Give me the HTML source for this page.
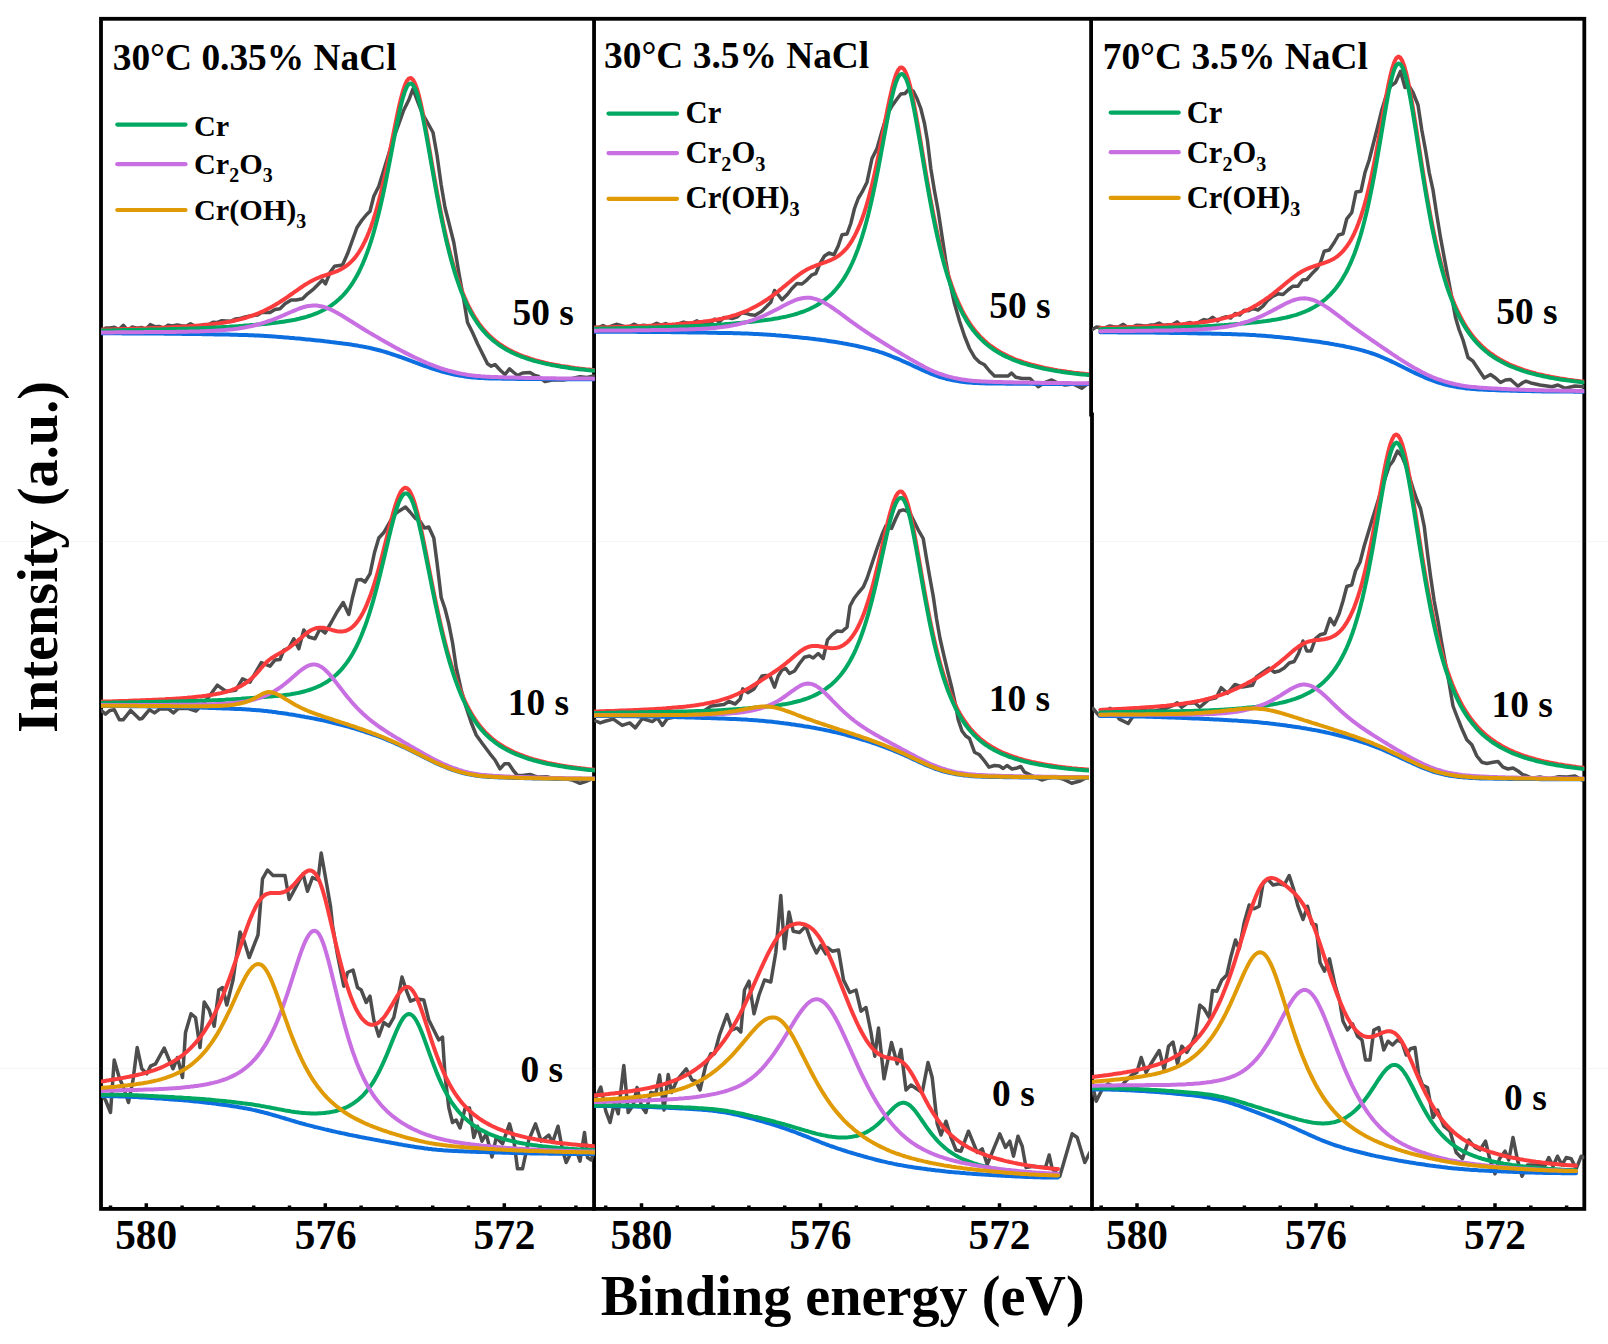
<!DOCTYPE html><html><head><meta charset="utf-8"><title>XPS Cr 2p</title><style>html,body{margin:0;padding:0;background:#fff}body{width:1608px;height:1344px;overflow:hidden}</style></head><body><svg width="1608" height="1344" viewBox="0 0 1608 1344" style="display:block">
<rect width="1608" height="1344" fill="#fff"/>
<defs><clipPath id="c0"><rect x="101.00" y="18.8" width="493.85" height="1190.1000000000001"/></clipPath><clipPath id="c1"><rect x="594.05" y="18.8" width="494.95" height="1190.1000000000001"/></clipPath><clipPath id="c2"><rect x="1092.00" y="18.8" width="492.30" height="1190.1000000000001"/></clipPath></defs>
<g stroke="#000" stroke-width="3.8" fill="none" stroke-linecap="square">
<rect x="101.0" y="18.8" width="1483.3" height="1190.1000000000001"/>
<path d="M594.05 18.8V1208.9M1091.1 18.8V414.5M1092.0 414.5V1208.9"/>
</g>
<path d="M110.5 1208.9v-3.5M146.3 1208.9v-5.6M182.1 1208.9v-3.5M217.9 1208.9v-3.5M253.7 1208.9v-3.5M289.5 1208.9v-3.5M325.3 1208.9v-5.6M361.1 1208.9v-3.5M396.9 1208.9v-3.5M432.7 1208.9v-3.5M468.5 1208.9v-3.5M504.3 1208.9v-5.6M540.1 1208.9v-3.5M575.9 1208.9v-3.5M605.7 1208.9v-3.5M641.5 1208.9v-5.6M677.3 1208.9v-3.5M713.1 1208.9v-3.5M748.9 1208.9v-3.5M784.7 1208.9v-3.5M820.5 1208.9v-5.6M856.3 1208.9v-3.5M892.1 1208.9v-3.5M927.9 1208.9v-3.5M963.7 1208.9v-3.5M999.5 1208.9v-5.6M1035.3 1208.9v-3.5M1071.1 1208.9v-3.5M1101.2 1208.9v-3.5M1137.0 1208.9v-5.6M1172.8 1208.9v-3.5M1208.6 1208.9v-3.5M1244.4 1208.9v-3.5M1280.2 1208.9v-3.5M1316.0 1208.9v-5.6M1351.8 1208.9v-3.5M1387.6 1208.9v-3.5M1423.4 1208.9v-3.5M1459.2 1208.9v-3.5M1495.0 1208.9v-5.6M1530.8 1208.9v-3.5M1566.6 1208.9v-3.5" stroke="#000" stroke-width="3.5" fill="none"/>
<g clip-path="url(#c0)" fill="none" stroke-width="4" stroke-linejoin="round" stroke-linecap="round">
<path d="M101.0 331.1L105.5 328.1L109.9 328.0L114.4 327.2L118.9 329.6L123.4 325.3L127.8 330.4L132.3 327.0L136.8 328.3L141.3 327.4L145.7 329.4L150.2 324.6L154.7 326.7L159.2 326.4L163.6 328.2L168.1 325.1L172.6 326.0L177.1 324.9L181.5 325.8L186.0 326.2L190.5 323.7L195.0 326.2L199.4 325.6L203.9 324.6L208.4 324.7L212.9 322.2L217.3 322.4L221.8 320.7L226.3 321.0L230.8 321.3L235.2 319.0L239.7 318.6L244.2 317.3L248.7 316.2L253.1 315.4L257.6 315.0L262.1 312.3L266.6 312.5L270.0 312.5L275.0 309.5L280.0 308.8L285.0 303.8L291.2 300.0L296.2 300.0L302.5 298.8L307.5 293.8L313.8 288.8L318.8 283.8L322.5 280.0L325.5 283.8L330.0 272.5L334.5 266.2L342.5 265.0L347.5 253.8L352.5 240.0L357.0 227.5L361.2 221.2L366.2 215.0L370.0 211.2L373.8 196.2L378.8 186.2L383.8 170.0L388.8 153.8L393.8 137.5L398.8 123.8L403.8 110.0L408.8 100.0L413.0 88.8L417.5 101.2L422.5 113.8L427.5 122.5L433.0 132.5L437.0 155.0L441.2 185.0L445.0 207.5L448.8 222.5L453.8 242.5L458.8 272.5L463.8 300.0L467.5 322.5L472.5 332.5L477.5 343.8L482.5 353.8L487.5 363.8L491.2 366.2L495.0 364.5L500.0 370.0L505.0 374.5L509.5 368.8L513.8 372.5L517.5 375.5L522.5 373.0L530.0 372.5L535.0 375.5L538.0 376.2L545.0 381.5L552.0 380.0L563.3 380.0L572.0 378.5L580.0 376.7L587.0 377.5L593.3 376.0L596.0 376.0" stroke="#4d4d4d" stroke-width="3.5"/>
<path d="M101.0 333.3L103.0 333.3L105.0 333.3L107.0 333.3L109.0 333.3L111.0 333.3L113.0 333.3L115.0 333.3L117.0 333.3L119.0 333.3L121.0 333.3L123.0 333.4L125.0 333.4L127.0 333.4L129.0 333.4L131.0 333.4L133.0 333.4L135.0 333.4L137.0 333.4L139.0 333.4L141.0 333.4L143.0 333.5L145.0 333.5L147.0 333.5L149.0 333.5L151.0 333.5L153.0 333.5L155.0 333.6L157.0 333.6L159.0 333.6L161.0 333.6L163.0 333.6L165.0 333.7L167.0 333.7L169.0 333.7L171.0 333.7L173.0 333.7L175.0 333.8L177.0 333.8L179.0 333.8L181.0 333.8L183.0 333.9L185.0 333.9L187.0 333.9L189.0 334.0L191.0 334.0L193.0 334.0L195.0 334.0L197.0 334.1L199.0 334.1L201.0 334.1L203.0 334.2L205.0 334.2L207.0 334.2L209.0 334.3L211.0 334.3L213.0 334.3L215.0 334.4L217.0 334.4L219.0 334.4L221.0 334.5L223.0 334.5L225.0 334.6L227.0 334.6L229.0 334.6L231.0 334.7L233.0 334.7L235.0 334.8L237.0 334.8L239.0 334.9L241.0 334.9L243.0 335.0L245.0 335.0L247.0 335.1L249.0 335.2L251.0 335.2L253.0 335.3L255.0 335.4L257.0 335.5L259.0 335.6L261.0 335.7L263.0 335.8L265.0 335.9L267.0 336.0L269.0 336.2L271.0 336.3L273.0 336.4L275.0 336.6L277.0 336.7L279.0 336.9L281.0 337.0L283.0 337.2L285.0 337.4L287.0 337.5L289.0 337.7L291.0 337.9L293.0 338.1L295.0 338.3L297.0 338.4L299.0 338.6L301.0 338.8L303.0 339.0L305.0 339.2L307.0 339.4L309.0 339.6L311.0 339.8L313.0 340.0L315.0 340.2L317.0 340.4L319.0 340.6L321.0 340.8L323.0 341.0L325.0 341.3L327.0 341.5L329.0 341.7L331.0 342.0L333.0 342.2L335.0 342.4L337.0 342.7L339.0 342.9L341.0 343.2L343.0 343.5L345.0 343.7L347.0 344.0L349.0 344.3L351.0 344.6L353.0 344.9L355.0 345.2L357.0 345.5L359.0 345.9L361.0 346.2L363.0 346.6L365.0 347.0L367.0 347.4L369.0 347.8L371.0 348.2L373.0 348.7L375.0 349.2L377.0 349.7L379.0 350.2L381.0 350.7L383.0 351.3L385.0 351.9L387.0 352.5L389.0 353.1L391.0 353.8L393.0 354.5L395.0 355.1L397.0 355.8L399.0 356.5L401.0 357.2L403.0 358.0L405.0 358.7L407.0 359.4L409.0 360.2L411.0 360.9L413.0 361.6L415.0 362.4L417.0 363.1L419.0 363.8L421.0 364.6L423.0 365.3L425.0 366.0L427.0 366.7L429.0 367.4L431.0 368.1L433.0 368.8L435.0 369.4L437.0 370.1L439.0 370.7L441.0 371.3L443.0 371.8L445.0 372.4L447.0 372.9L449.0 373.4L451.0 373.8L453.0 374.3L455.0 374.7L457.0 375.1L459.0 375.5L461.0 375.8L463.0 376.1L465.0 376.4L467.0 376.7L469.0 376.9L471.0 377.2L473.0 377.4L475.0 377.6L477.0 377.7L479.0 377.9L481.0 378.0L483.0 378.1L485.0 378.2L487.0 378.3L489.0 378.4L491.0 378.4L493.0 378.5L495.0 378.5L497.0 378.6L499.0 378.6L501.0 378.6L503.0 378.7L505.0 378.7L507.0 378.7L509.0 378.8L511.0 378.8L513.0 378.8L515.0 378.8L517.0 378.9L519.0 378.9L521.0 378.9L523.0 378.9L525.0 379.0L527.0 379.0L529.0 379.0L531.0 379.0L533.0 379.0L535.0 379.1L537.0 379.1L539.0 379.1L541.0 379.1L543.0 379.1L545.0 379.1L547.0 379.1L549.0 379.2L551.0 379.2L553.0 379.2L555.0 379.2L557.0 379.2L559.0 379.2L561.0 379.2L563.0 379.2L565.0 379.2L567.0 379.2L569.0 379.3L571.0 379.3L573.0 379.3L575.0 379.3L577.0 379.3L579.0 379.3L581.0 379.3L583.0 379.3L585.0 379.3L587.0 379.3L589.0 379.3L591.0 379.3L593.0 379.3L595.0 379.3" stroke="#0d6ee0"/>
<path d="M101.0 329.7L103.0 329.6L105.0 329.6L107.0 329.5L109.0 329.5L111.0 329.4L113.0 329.4L115.0 329.3L117.0 329.3L119.0 329.2L121.0 329.1L123.0 329.1L125.0 329.0L127.0 329.0L129.0 328.9L131.0 328.8L133.0 328.8L135.0 328.7L137.0 328.7L139.0 328.6L141.0 328.5L143.0 328.5L145.0 328.4L147.0 328.3L149.0 328.2L151.0 328.2L153.0 328.1L155.0 328.0L157.0 327.9L159.0 327.9L161.0 327.8L163.0 327.7L165.0 327.6L167.0 327.5L169.0 327.4L171.0 327.3L173.0 327.2L175.0 327.1L177.0 327.0L179.0 326.9L181.0 326.8L183.0 326.7L185.0 326.5L187.0 326.4L189.0 326.3L191.0 326.1L193.0 326.0L195.0 325.8L197.0 325.7L199.0 325.5L201.0 325.4L203.0 325.2L205.0 325.0L207.0 324.8L209.0 324.6L211.0 324.4L213.0 324.1L215.0 323.9L217.0 323.6L219.0 323.4L221.0 323.1L223.0 322.8L225.0 322.4L227.0 322.1L229.0 321.7L231.0 321.4L233.0 321.0L235.0 320.5L237.0 320.1L239.0 319.6L241.0 319.1L243.0 318.5L245.0 318.0L247.0 317.4L249.0 316.7L251.0 316.0L253.0 315.3L255.0 314.6L257.0 313.8L259.0 313.0L261.0 312.1L263.0 311.3L265.0 310.3L267.0 309.3L269.0 308.3L271.0 307.3L273.0 306.1L275.0 305.0L277.0 303.8L279.0 302.6L281.0 301.3L283.0 300.0L285.0 298.7L287.0 297.3L289.0 295.9L291.0 294.5L293.0 293.1L295.0 291.7L297.0 290.3L299.0 288.9L301.0 287.5L303.0 286.1L305.0 284.8L307.0 283.6L309.0 282.4L311.0 281.2L313.0 280.2L315.0 279.2L317.0 278.3L319.0 277.5L321.0 276.7L323.0 276.0L325.0 275.3L327.0 274.6L329.0 274.0L331.0 273.3L333.0 272.6L335.0 271.9L337.0 271.1L339.0 270.2L341.0 269.2L343.0 268.1L345.0 266.8L347.0 265.4L349.0 263.8L351.0 261.9L353.0 259.9L355.0 257.6L357.0 255.0L359.0 252.0L361.0 248.8L363.0 245.2L365.0 241.2L367.0 236.8L369.0 232.0L371.0 226.6L373.0 220.8L375.0 214.5L377.0 207.7L379.0 200.4L381.0 192.5L383.0 184.0L385.0 175.1L387.0 165.8L389.0 156.0L391.0 146.0L393.0 135.9L395.0 125.8L397.0 116.0L399.0 106.7L401.0 98.2L403.0 90.9L405.0 84.9L407.0 80.7L409.0 78.4L411.0 78.1L413.0 79.8L415.0 83.5L417.0 88.9L419.0 95.9L421.0 104.4L423.0 113.9L425.0 124.3L427.0 135.4L429.0 146.8L431.0 158.3L433.0 169.8L435.0 181.2L437.0 192.2L439.0 202.9L441.0 213.1L443.0 222.9L445.0 232.1L447.0 240.8L449.0 249.0L451.0 256.8L453.0 264.0L455.0 270.8L457.0 277.1L459.0 283.0L461.0 288.5L463.0 293.6L465.0 298.3L467.0 302.8L469.0 306.9L471.0 310.7L473.0 314.3L475.0 317.6L477.0 320.7L479.0 323.6L481.0 326.2L483.0 328.7L485.0 331.0L487.0 333.2L489.0 335.2L491.0 337.1L493.0 338.9L495.0 340.5L497.0 342.1L499.0 343.6L501.0 345.0L503.0 346.3L505.0 347.5L507.0 348.7L509.0 349.8L511.0 350.8L513.0 351.8L515.0 352.7L517.0 353.6L519.0 354.5L521.0 355.3L523.0 356.1L525.0 356.8L527.0 357.5L529.0 358.2L531.0 358.9L533.0 359.5L535.0 360.1L537.0 360.6L539.0 361.2L541.0 361.7L543.0 362.2L545.0 362.7L547.0 363.1L549.0 363.6L551.0 364.0L553.0 364.4L555.0 364.8L557.0 365.1L559.0 365.5L561.0 365.9L563.0 366.2L565.0 366.5L567.0 366.8L569.0 367.1L571.0 367.4L573.0 367.7L575.0 368.0L577.0 368.2L579.0 368.5L581.0 368.7L583.0 368.9L585.0 369.2L587.0 369.4L589.0 369.6L591.0 369.8L593.0 370.0L595.0 370.2" stroke="#fa3c3c"/>
<path d="M101.0 330.5L103.0 330.5L105.0 330.5L107.0 330.4L109.0 330.4L111.0 330.4L113.0 330.3L115.0 330.3L117.0 330.2L119.0 330.2L121.0 330.2L123.0 330.1L125.0 330.1L127.0 330.1L129.0 330.0L131.0 330.0L133.0 330.0L135.0 329.9L137.0 329.9L139.0 329.8L141.0 329.8L143.0 329.8L145.0 329.7L147.0 329.7L149.0 329.6L151.0 329.6L153.0 329.5L155.0 329.5L157.0 329.5L159.0 329.4L161.0 329.4L163.0 329.3L165.0 329.3L167.0 329.2L169.0 329.2L171.0 329.1L173.0 329.1L175.0 329.0L177.0 329.0L179.0 328.9L181.0 328.8L183.0 328.8L185.0 328.7L187.0 328.7L189.0 328.6L191.0 328.5L193.0 328.5L195.0 328.4L197.0 328.3L199.0 328.2L201.0 328.2L203.0 328.1L205.0 328.0L207.0 327.9L209.0 327.8L211.0 327.7L213.0 327.6L215.0 327.5L217.0 327.4L219.0 327.3L221.0 327.2L223.0 327.1L225.0 327.0L227.0 326.9L229.0 326.8L231.0 326.6L233.0 326.5L235.0 326.4L237.0 326.2L239.0 326.1L241.0 325.9L243.0 325.8L245.0 325.6L247.0 325.4L249.0 325.3L251.0 325.1L253.0 324.9L255.0 324.8L257.0 324.6L259.0 324.4L261.0 324.2L263.0 324.0L265.0 323.9L267.0 323.7L269.0 323.4L271.0 323.2L273.0 323.0L275.0 322.8L277.0 322.5L279.0 322.3L281.0 322.0L283.0 321.7L285.0 321.4L287.0 321.1L289.0 320.8L291.0 320.4L293.0 320.1L295.0 319.7L297.0 319.2L299.0 318.8L301.0 318.3L303.0 317.8L305.0 317.3L307.0 316.7L309.0 316.0L311.0 315.4L313.0 314.7L315.0 313.9L317.0 313.1L319.0 312.2L321.0 311.3L323.0 310.3L325.0 309.2L327.0 308.1L329.0 306.9L331.0 305.6L333.0 304.1L335.0 302.6L337.0 301.0L339.0 299.2L341.0 297.3L343.0 295.3L345.0 293.1L347.0 290.7L349.0 288.1L351.0 285.3L353.0 282.3L355.0 279.0L357.0 275.5L359.0 271.7L361.0 267.5L363.0 263.1L365.0 258.2L367.0 253.0L369.0 247.4L371.0 241.3L373.0 234.8L375.0 227.8L377.0 220.3L379.0 212.3L381.0 203.8L383.0 194.8L385.0 185.3L387.0 175.4L389.0 165.2L391.0 154.7L393.0 144.1L395.0 133.6L397.0 123.4L399.0 113.8L401.0 105.0L403.0 97.3L405.0 91.1L407.0 86.5L409.0 83.9L411.0 83.4L413.0 84.9L415.0 88.3L417.0 93.5L419.0 100.4L421.0 108.6L423.0 118.0L425.0 128.3L427.0 139.1L429.0 150.4L431.0 161.8L433.0 173.2L435.0 184.4L437.0 195.4L439.0 205.9L441.0 216.1L443.0 225.7L445.0 234.9L447.0 243.5L449.0 251.6L451.0 259.3L453.0 266.4L455.0 273.1L457.0 279.4L459.0 285.2L461.0 290.7L463.0 295.7L465.0 300.4L467.0 304.8L469.0 308.9L471.0 312.7L473.0 316.2L475.0 319.5L477.0 322.5L479.0 325.3L481.0 328.0L483.0 330.4L485.0 332.7L487.0 334.8L489.0 336.8L491.0 338.6L493.0 340.4L495.0 342.0L497.0 343.5L499.0 345.0L501.0 346.3L503.0 347.6L505.0 348.8L507.0 350.0L509.0 351.0L511.0 352.1L513.0 353.0L515.0 354.0L517.0 354.8L519.0 355.7L521.0 356.5L523.0 357.2L525.0 357.9L527.0 358.6L529.0 359.3L531.0 359.9L533.0 360.5L535.0 361.1L537.0 361.6L539.0 362.1L541.0 362.6L543.0 363.1L545.0 363.6L547.0 364.0L549.0 364.4L551.0 364.9L553.0 365.2L555.0 365.6L557.0 366.0L559.0 366.3L561.0 366.7L563.0 367.0L565.0 367.3L567.0 367.6L569.0 367.9L571.0 368.2L573.0 368.4L575.0 368.7L577.0 368.9L579.0 369.2L581.0 369.4L583.0 369.6L585.0 369.8L587.0 370.1L589.0 370.3L591.0 370.4L593.0 370.6L595.0 370.8" stroke="#00a862"/>
<path d="M101.0 332.4L103.0 332.4L105.0 332.4L107.0 332.4L109.0 332.4L111.0 332.4L113.0 332.4L115.0 332.3L117.0 332.3L119.0 332.3L121.0 332.3L123.0 332.3L125.0 332.3L127.0 332.3L129.0 332.3L131.0 332.2L133.0 332.2L135.0 332.2L137.0 332.2L139.0 332.2L141.0 332.2L143.0 332.2L145.0 332.1L147.0 332.1L149.0 332.1L151.0 332.1L153.0 332.1L155.0 332.1L157.0 332.1L159.0 332.0L161.0 332.0L163.0 332.0L165.0 332.0L167.0 332.0L169.0 331.9L171.0 331.9L173.0 331.9L175.0 331.9L177.0 331.8L179.0 331.8L181.0 331.8L183.0 331.7L185.0 331.7L187.0 331.7L189.0 331.6L191.0 331.6L193.0 331.6L195.0 331.5L197.0 331.4L199.0 331.4L201.0 331.3L203.0 331.3L205.0 331.2L207.0 331.1L209.0 331.0L211.0 330.9L213.0 330.8L215.0 330.7L217.0 330.6L219.0 330.5L221.0 330.3L223.0 330.2L225.0 330.0L227.0 329.8L229.0 329.6L231.0 329.4L233.0 329.2L235.0 328.9L237.0 328.7L239.0 328.4L241.0 328.1L243.0 327.7L245.0 327.4L247.0 327.0L249.0 326.6L251.0 326.2L253.0 325.7L255.0 325.2L257.0 324.7L259.0 324.2L261.0 323.6L263.0 323.0L265.0 322.4L267.0 321.7L269.0 321.0L271.0 320.3L273.0 319.6L275.0 318.8L277.0 318.0L279.0 317.2L281.0 316.3L283.0 315.5L285.0 314.6L287.0 313.7L289.0 312.8L291.0 312.0L293.0 311.1L295.0 310.3L297.0 309.5L299.0 308.7L301.0 308.0L303.0 307.3L305.0 306.8L307.0 306.3L309.0 305.9L311.0 305.7L313.0 305.5L315.0 305.5L317.0 305.6L319.0 305.9L321.0 306.3L323.0 306.8L325.0 307.3L327.0 308.0L329.0 308.8L331.0 309.7L333.0 310.6L335.0 311.7L337.0 312.7L339.0 313.9L341.0 315.0L343.0 316.2L345.0 317.5L347.0 318.7L349.0 320.0L351.0 321.2L353.0 322.5L355.0 323.8L357.0 325.0L359.0 326.3L361.0 327.5L363.0 328.7L365.0 330.0L367.0 331.2L369.0 332.4L371.0 333.6L373.0 334.7L375.0 335.9L377.0 337.1L379.0 338.2L381.0 339.4L383.0 340.5L385.0 341.7L387.0 342.8L389.0 344.0L391.0 345.1L393.0 346.2L395.0 347.3L397.0 348.4L399.0 349.4L401.0 350.5L403.0 351.6L405.0 352.6L407.0 353.6L409.0 354.6L411.0 355.6L413.0 356.6L415.0 357.5L417.0 358.5L419.0 359.4L421.0 360.3L423.0 361.2L425.0 362.1L427.0 363.0L429.0 363.8L431.0 364.6L433.0 365.4L435.0 366.2L437.0 366.9L439.0 367.6L441.0 368.3L443.0 369.0L445.0 369.6L447.0 370.2L449.0 370.8L451.0 371.3L453.0 371.8L455.0 372.3L457.0 372.8L459.0 373.2L461.0 373.6L463.0 374.0L465.0 374.3L467.0 374.7L469.0 375.0L471.0 375.2L473.0 375.5L475.0 375.7L477.0 375.9L479.0 376.1L481.0 376.3L483.0 376.4L485.0 376.6L487.0 376.7L489.0 376.8L491.0 376.9L493.0 377.0L495.0 377.1L497.0 377.1L499.0 377.2L501.0 377.3L503.0 377.3L505.0 377.4L507.0 377.4L509.0 377.5L511.0 377.5L513.0 377.6L515.0 377.6L517.0 377.7L519.0 377.7L521.0 377.8L523.0 377.8L525.0 377.9L527.0 377.9L529.0 377.9L531.0 378.0L533.0 378.0L535.0 378.0L537.0 378.1L539.0 378.1L541.0 378.1L543.0 378.2L545.0 378.2L547.0 378.2L549.0 378.3L551.0 378.3L553.0 378.3L555.0 378.3L557.0 378.4L559.0 378.4L561.0 378.4L563.0 378.4L565.0 378.5L567.0 378.5L569.0 378.5L571.0 378.5L573.0 378.5L575.0 378.5L577.0 378.6L579.0 378.6L581.0 378.6L583.0 378.6L585.0 378.6L587.0 378.6L589.0 378.6L591.0 378.6L593.0 378.7L595.0 378.7" stroke="#c870e2"/>
<path d="M101.1 710.4L105.5 714.1L109.9 710.4L114.3 709.8L119.4 719.8L123.1 719.8L130.7 710.4L139.5 719.1L142.0 718.5L149.5 709.7L154.5 712.9L159.6 709.1L168.4 708.8L173.4 712.9L178.4 708.5L188.5 708.5L196.0 711.0L198.5 708.5L207.3 699.0L217.3 685.2L226.1 691.5L235.6 690.3L242.5 678.9L250.0 682.1L261.3 662.6L270.0 666.2L275.0 660.0L280.0 659.5L283.8 650.0L288.8 648.0L293.8 638.8L298.8 648.8L303.8 630.0L308.8 637.0L315.0 638.8L320.0 628.8L325.0 633.0L331.2 622.5L337.5 611.2L343.2 602.5L348.8 614.5L352.5 597.5L357.0 580.0L361.2 579.5L365.0 582.0L370.0 573.8L374.5 552.5L378.8 538.0L383.8 532.5L388.8 523.8L393.8 515.0L398.8 511.2L405.5 507.0L410.0 512.0L415.0 518.0L420.0 521.2L424.5 528.0L428.8 527.0L433.8 538.0L437.0 562.5L441.2 597.5L445.0 608.8L448.8 623.8L452.5 642.5L456.2 667.5L461.2 690.0L466.2 707.5L471.2 722.5L476.2 735.0L482.5 743.8L490.0 753.8L495.0 760.0L500.0 768.8L504.5 763.8L508.8 763.8L513.8 771.2L517.5 775.5L522.5 775.5L530.0 774.5L535.0 776.2L538.0 777.0L546.7 776.7L555.0 779.0L563.3 778.3L572.0 780.0L580.0 783.3L587.0 781.0L593.3 778.3L596.0 778.0" stroke="#4d4d4d" stroke-width="3.5"/>
<path d="M101.0 706.0L103.0 706.0L105.0 706.0L107.0 706.0L109.0 706.0L111.0 706.0L113.0 706.0L115.0 706.1L117.0 706.1L119.0 706.1L121.0 706.1L123.0 706.1L125.0 706.1L127.0 706.1L129.0 706.2L131.0 706.2L133.0 706.2L135.0 706.2L137.0 706.2L139.0 706.3L141.0 706.3L143.0 706.3L145.0 706.3L147.0 706.4L149.0 706.4L151.0 706.4L153.0 706.5L155.0 706.5L157.0 706.5L159.0 706.6L161.0 706.6L163.0 706.7L165.0 706.7L167.0 706.7L169.0 706.8L171.0 706.8L173.0 706.9L175.0 706.9L177.0 707.0L179.0 707.0L181.0 707.1L183.0 707.1L185.0 707.2L187.0 707.2L189.0 707.3L191.0 707.3L193.0 707.4L195.0 707.4L197.0 707.5L199.0 707.6L201.0 707.6L203.0 707.7L205.0 707.8L207.0 707.8L209.0 707.9L211.0 708.0L213.0 708.0L215.0 708.1L217.0 708.2L219.0 708.2L221.0 708.3L223.0 708.4L225.0 708.5L227.0 708.5L229.0 708.6L231.0 708.7L233.0 708.8L235.0 708.9L237.0 708.9L239.0 709.0L241.0 709.1L243.0 709.2L245.0 709.3L247.0 709.5L249.0 709.6L251.0 709.7L253.0 709.9L255.0 710.0L257.0 710.2L259.0 710.3L261.0 710.5L263.0 710.7L265.0 710.9L267.0 711.1L269.0 711.4L271.0 711.6L273.0 711.9L275.0 712.1L277.0 712.4L279.0 712.7L281.0 712.9L283.0 713.2L285.0 713.5L287.0 713.8L289.0 714.2L291.0 714.5L293.0 714.8L295.0 715.1L297.0 715.5L299.0 715.8L301.0 716.2L303.0 716.5L305.0 716.9L307.0 717.2L309.0 717.6L311.0 718.0L313.0 718.4L315.0 718.8L317.0 719.2L319.0 719.6L321.0 720.0L323.0 720.4L325.0 720.9L327.0 721.3L329.0 721.8L331.0 722.2L333.0 722.7L335.0 723.2L337.0 723.7L339.0 724.2L341.0 724.7L343.0 725.3L345.0 725.8L347.0 726.4L349.0 726.9L351.0 727.5L353.0 728.1L355.0 728.7L357.0 729.3L359.0 729.9L361.0 730.5L363.0 731.2L365.0 731.8L367.0 732.5L369.0 733.1L371.0 733.8L373.0 734.5L375.0 735.2L377.0 735.9L379.0 736.7L381.0 737.4L383.0 738.2L385.0 739.0L387.0 739.8L389.0 740.6L391.0 741.5L393.0 742.3L395.0 743.2L397.0 744.1L399.0 745.0L401.0 746.0L403.0 746.9L405.0 747.8L407.0 748.8L409.0 749.8L411.0 750.8L413.0 751.8L415.0 752.8L417.0 753.8L419.0 754.8L421.0 755.8L423.0 756.8L425.0 757.8L427.0 758.8L429.0 759.8L431.0 760.8L433.0 761.7L435.0 762.7L437.0 763.6L439.0 764.5L441.0 765.4L443.0 766.2L445.0 767.0L447.0 767.8L449.0 768.6L451.0 769.3L453.0 770.0L455.0 770.7L457.0 771.3L459.0 771.9L461.0 772.5L463.0 773.0L465.0 773.5L467.0 774.0L469.0 774.4L471.0 774.8L473.0 775.1L475.0 775.5L477.0 775.7L479.0 776.0L481.0 776.2L483.0 776.4L485.0 776.6L487.0 776.8L489.0 776.9L491.0 777.0L493.0 777.1L495.0 777.2L497.0 777.3L499.0 777.4L501.0 777.5L503.0 777.6L505.0 777.6L507.0 777.7L509.0 777.8L511.0 777.8L513.0 777.9L515.0 777.9L517.0 778.0L519.0 778.0L521.0 778.1L523.0 778.1L525.0 778.2L527.0 778.2L529.0 778.3L531.0 778.3L533.0 778.4L535.0 778.4L537.0 778.5L539.0 778.5L541.0 778.5L543.0 778.6L545.0 778.6L547.0 778.6L549.0 778.7L551.0 778.7L553.0 778.7L555.0 778.7L557.0 778.8L559.0 778.8L561.0 778.8L563.0 778.8L565.0 778.9L567.0 778.9L569.0 778.9L571.0 778.9L573.0 778.9L575.0 778.9L577.0 778.9L579.0 778.9L581.0 779.0L583.0 779.0L585.0 779.0L587.0 779.0L589.0 779.0L591.0 779.0L593.0 779.0L595.0 779.0" stroke="#0d6ee0"/>
<path d="M101.0 701.7L103.0 701.6L105.0 701.6L107.0 701.5L109.0 701.4L111.0 701.4L113.0 701.3L115.0 701.3L117.0 701.2L119.0 701.1L121.0 701.1L123.0 701.0L125.0 700.9L127.0 700.9L129.0 700.8L131.0 700.7L133.0 700.6L135.0 700.6L137.0 700.5L139.0 700.4L141.0 700.3L143.0 700.3L145.0 700.2L147.0 700.1L149.0 700.0L151.0 699.9L153.0 699.8L155.0 699.8L157.0 699.7L159.0 699.6L161.0 699.5L163.0 699.4L165.0 699.3L167.0 699.1L169.0 699.0L171.0 698.9L173.0 698.8L175.0 698.7L177.0 698.5L179.0 698.4L181.0 698.2L183.0 698.1L185.0 697.9L187.0 697.8L189.0 697.6L191.0 697.4L193.0 697.2L195.0 697.0L197.0 696.8L199.0 696.6L201.0 696.4L203.0 696.1L205.0 695.9L207.0 695.6L209.0 695.3L211.0 695.0L213.0 694.6L215.0 694.3L217.0 693.9L219.0 693.5L221.0 693.1L223.0 692.6L225.0 692.1L227.0 691.5L229.0 690.9L231.0 690.3L233.0 689.5L235.0 688.8L237.0 687.9L239.0 687.0L241.0 685.9L243.0 684.8L245.0 683.5L247.0 682.1L249.0 680.6L251.0 678.9L253.0 677.1L255.0 675.1L257.0 672.9L259.0 670.7L261.0 668.3L263.0 666.0L265.0 663.8L267.0 661.7L269.0 660.0L271.0 658.5L273.0 657.2L275.0 656.0L277.0 654.8L279.0 653.7L281.0 652.6L283.0 651.5L285.0 650.4L287.0 649.1L289.0 647.7L291.0 646.3L293.0 644.7L295.0 643.1L297.0 641.4L299.0 639.6L301.0 637.9L303.0 636.2L305.0 634.5L307.0 632.9L309.0 631.5L311.0 630.3L313.0 629.3L315.0 628.5L317.0 628.0L319.0 627.7L321.0 627.7L323.0 627.8L325.0 628.1L327.0 628.6L329.0 629.1L331.0 629.7L333.0 630.3L335.0 630.8L337.0 631.2L339.0 631.4L341.0 631.5L343.0 631.4L345.0 631.0L347.0 630.3L349.0 629.4L351.0 628.1L353.0 626.5L355.0 624.5L357.0 622.1L359.0 619.4L361.0 616.2L363.0 612.6L365.0 608.6L367.0 604.1L369.0 599.1L371.0 593.7L373.0 587.8L375.0 581.5L377.0 574.8L379.0 567.7L381.0 560.3L383.0 552.5L385.0 544.6L387.0 536.6L389.0 528.7L391.0 520.9L393.0 513.5L395.0 506.7L397.0 500.6L399.0 495.5L401.0 491.5L403.0 488.9L405.0 487.7L407.0 488.1L409.0 490.0L411.0 493.4L413.0 498.2L415.0 504.2L417.0 511.5L419.0 519.6L421.0 528.6L423.0 538.1L425.0 548.0L427.0 558.2L429.0 568.4L431.0 578.6L433.0 588.6L435.0 598.4L437.0 608.0L439.0 617.1L441.0 625.9L443.0 634.3L445.0 642.3L447.0 649.9L449.0 657.1L451.0 663.9L453.0 670.3L455.0 676.3L457.0 682.0L459.0 687.3L461.0 692.3L463.0 696.9L465.0 701.3L467.0 705.4L469.0 709.2L471.0 712.8L473.0 716.1L475.0 719.2L477.0 722.1L479.0 724.8L481.0 727.3L483.0 729.6L485.0 731.8L487.0 733.8L489.0 735.7L491.0 737.5L493.0 739.2L495.0 740.8L497.0 742.3L499.0 743.7L501.0 745.0L503.0 746.2L505.0 747.4L507.0 748.5L509.0 749.6L511.0 750.6L513.0 751.6L515.0 752.5L517.0 753.3L519.0 754.2L521.0 755.0L523.0 755.7L525.0 756.5L527.0 757.1L529.0 757.8L531.0 758.4L533.0 759.1L535.0 759.6L537.0 760.2L539.0 760.7L541.0 761.3L543.0 761.7L545.0 762.2L547.0 762.7L549.0 763.1L551.0 763.5L553.0 763.9L555.0 764.3L557.0 764.7L559.0 765.1L561.0 765.4L563.0 765.8L565.0 766.1L567.0 766.4L569.0 766.7L571.0 767.0L573.0 767.3L575.0 767.5L577.0 767.8L579.0 768.0L581.0 768.3L583.0 768.5L585.0 768.7L587.0 769.0L589.0 769.2L591.0 769.4L593.0 769.6L595.0 769.8" stroke="#fa3c3c"/>
<path d="M101.0 702.9L103.0 702.8L105.0 702.8L107.0 702.7L109.0 702.7L111.0 702.7L113.0 702.6L115.0 702.6L117.0 702.6L119.0 702.5L121.0 702.5L123.0 702.5L125.0 702.4L127.0 702.4L129.0 702.3L131.0 702.3L133.0 702.3L135.0 702.2L137.0 702.2L139.0 702.2L141.0 702.1L143.0 702.1L145.0 702.1L147.0 702.0L149.0 702.0L151.0 702.0L153.0 701.9L155.0 701.9L157.0 701.8L159.0 701.8L161.0 701.8L163.0 701.7L165.0 701.7L167.0 701.7L169.0 701.6L171.0 701.6L173.0 701.5L175.0 701.5L177.0 701.4L179.0 701.4L181.0 701.3L183.0 701.3L185.0 701.3L187.0 701.2L189.0 701.1L191.0 701.1L193.0 701.0L195.0 701.0L197.0 700.9L199.0 700.9L201.0 700.8L203.0 700.7L205.0 700.6L207.0 700.6L209.0 700.5L211.0 700.4L213.0 700.3L215.0 700.2L217.0 700.2L219.0 700.1L221.0 700.0L223.0 699.9L225.0 699.8L227.0 699.6L229.0 699.5L231.0 699.4L233.0 699.3L235.0 699.2L237.0 699.0L239.0 698.9L241.0 698.8L243.0 698.6L245.0 698.5L247.0 698.3L249.0 698.2L251.0 698.0L253.0 697.9L255.0 697.7L257.0 697.6L259.0 697.4L261.0 697.3L263.0 697.1L265.0 697.0L267.0 696.8L269.0 696.6L271.0 696.5L273.0 696.3L275.0 696.1L277.0 695.9L279.0 695.7L281.0 695.5L283.0 695.3L285.0 695.0L287.0 694.7L289.0 694.5L291.0 694.2L293.0 693.8L295.0 693.5L297.0 693.1L299.0 692.7L301.0 692.2L303.0 691.7L305.0 691.2L307.0 690.6L309.0 690.0L311.0 689.3L313.0 688.6L315.0 687.9L317.0 687.0L319.0 686.1L321.0 685.2L323.0 684.1L325.0 683.0L327.0 681.8L329.0 680.4L331.0 679.0L333.0 677.5L335.0 675.8L337.0 674.0L339.0 672.0L341.0 669.9L343.0 667.6L345.0 665.1L347.0 662.4L349.0 659.5L351.0 656.4L353.0 653.0L355.0 649.3L357.0 645.3L359.0 641.1L361.0 636.5L363.0 631.5L365.0 626.3L367.0 620.6L369.0 614.6L371.0 608.2L373.0 601.4L375.0 594.3L377.0 586.8L379.0 578.9L381.0 570.8L383.0 562.5L385.0 554.0L387.0 545.5L389.0 537.1L391.0 528.9L393.0 521.1L395.0 513.9L397.0 507.5L399.0 502.0L401.0 497.8L403.0 494.9L405.0 493.4L407.0 493.6L409.0 495.3L411.0 498.4L413.0 503.0L415.0 509.0L417.0 516.0L419.0 524.0L421.0 532.8L423.0 542.2L425.0 552.0L427.0 562.0L429.0 572.1L431.0 582.2L433.0 592.1L435.0 601.8L437.0 611.2L439.0 620.3L441.0 629.0L443.0 637.3L445.0 645.3L447.0 652.8L449.0 659.9L451.0 666.6L453.0 672.9L455.0 678.9L457.0 684.4L459.0 689.7L461.0 694.6L463.0 699.2L465.0 703.5L467.0 707.6L469.0 711.3L471.0 714.9L473.0 718.1L475.0 721.2L477.0 724.0L479.0 726.7L481.0 729.1L483.0 731.4L485.0 733.6L487.0 735.6L489.0 737.4L491.0 739.2L493.0 740.8L495.0 742.4L497.0 743.8L499.0 745.2L501.0 746.5L503.0 747.7L505.0 748.8L507.0 749.9L509.0 751.0L511.0 752.0L513.0 752.9L515.0 753.8L517.0 754.6L519.0 755.4L521.0 756.2L523.0 756.9L525.0 757.6L527.0 758.3L529.0 759.0L531.0 759.6L533.0 760.2L535.0 760.7L537.0 761.3L539.0 761.8L541.0 762.3L543.0 762.8L545.0 763.2L547.0 763.7L549.0 764.1L551.0 764.5L553.0 764.9L555.0 765.3L557.0 765.6L559.0 766.0L561.0 766.3L563.0 766.6L565.0 766.9L567.0 767.2L569.0 767.5L571.0 767.8L573.0 768.1L575.0 768.3L577.0 768.6L579.0 768.8L581.0 769.1L583.0 769.3L585.0 769.5L587.0 769.7L589.0 769.9L591.0 770.1L593.0 770.3L595.0 770.5" stroke="#00a862"/>
<path d="M101.0 705.1L103.0 705.1L105.0 705.1L107.0 705.0L109.0 705.0L111.0 705.0L113.0 705.0L115.0 705.0L117.0 705.0L119.0 705.0L121.0 705.0L123.0 705.0L125.0 705.0L127.0 704.9L129.0 704.9L131.0 704.9L133.0 704.9L135.0 704.9L137.0 704.9L139.0 704.9L141.0 704.9L143.0 704.9L145.0 704.9L147.0 704.9L149.0 704.9L151.0 704.9L153.0 704.9L155.0 704.9L157.0 704.9L159.0 704.9L161.0 704.9L163.0 704.9L165.0 704.9L167.0 704.9L169.0 704.9L171.0 704.8L173.0 704.8L175.0 704.8L177.0 704.8L179.0 704.8L181.0 704.8L183.0 704.8L185.0 704.8L187.0 704.8L189.0 704.7L191.0 704.7L193.0 704.7L195.0 704.7L197.0 704.6L199.0 704.6L201.0 704.6L203.0 704.5L205.0 704.5L207.0 704.4L209.0 704.4L211.0 704.3L213.0 704.3L215.0 704.2L217.0 704.1L219.0 704.0L221.0 703.9L223.0 703.8L225.0 703.7L227.0 703.6L229.0 703.4L231.0 703.2L233.0 703.1L235.0 702.9L237.0 702.6L239.0 702.4L241.0 702.1L243.0 701.8L245.0 701.5L247.0 701.1L249.0 700.7L251.0 700.3L253.0 699.8L255.0 699.3L257.0 698.7L259.0 698.1L261.0 697.4L263.0 696.7L265.0 695.9L267.0 695.0L269.0 694.1L271.0 693.0L273.0 691.9L275.0 690.8L277.0 689.5L279.0 688.2L281.0 686.8L283.0 685.3L285.0 683.7L287.0 682.1L289.0 680.5L291.0 678.7L293.0 677.0L295.0 675.3L297.0 673.5L299.0 671.8L301.0 670.2L303.0 668.8L305.0 667.4L307.0 666.3L309.0 665.4L311.0 664.8L313.0 664.5L315.0 664.6L317.0 664.9L319.0 665.7L321.0 666.7L323.0 668.1L325.0 669.8L327.0 671.7L329.0 673.8L331.0 676.1L333.0 678.5L335.0 681.0L337.0 683.6L339.0 686.2L341.0 688.8L343.0 691.4L345.0 693.9L347.0 696.4L349.0 698.8L351.0 701.2L353.0 703.5L355.0 705.7L357.0 707.8L359.0 709.8L361.0 711.8L363.0 713.7L365.0 715.5L367.0 717.3L369.0 719.0L371.0 720.6L373.0 722.2L375.0 723.7L377.0 725.2L379.0 726.6L381.0 728.0L383.0 729.3L385.0 730.6L387.0 731.9L389.0 733.2L391.0 734.4L393.0 735.7L395.0 736.9L397.0 738.1L399.0 739.3L401.0 740.5L403.0 741.7L405.0 742.9L407.0 744.0L409.0 745.2L411.0 746.4L413.0 747.5L415.0 748.7L417.0 749.8L419.0 751.0L421.0 752.1L423.0 753.3L425.0 754.4L427.0 755.5L429.0 756.6L431.0 757.7L433.0 758.8L435.0 759.8L437.0 760.8L439.0 761.8L441.0 762.8L443.0 763.7L445.0 764.6L447.0 765.4L449.0 766.3L451.0 767.0L453.0 767.8L455.0 768.5L457.0 769.2L459.0 769.9L461.0 770.5L463.0 771.1L465.0 771.6L467.0 772.1L469.0 772.6L471.0 773.0L473.0 773.4L475.0 773.8L477.0 774.1L479.0 774.4L481.0 774.7L483.0 774.9L485.0 775.1L487.0 775.3L489.0 775.5L491.0 775.6L493.0 775.8L495.0 775.9L497.0 776.0L499.0 776.1L501.0 776.2L503.0 776.3L505.0 776.4L507.0 776.5L509.0 776.6L511.0 776.7L513.0 776.8L515.0 776.9L517.0 776.9L519.0 777.0L521.0 777.1L523.0 777.1L525.0 777.2L527.0 777.3L529.0 777.3L531.0 777.4L533.0 777.5L535.0 777.5L537.0 777.6L539.0 777.6L541.0 777.7L543.0 777.7L545.0 777.8L547.0 777.8L549.0 777.9L551.0 777.9L553.0 778.0L555.0 778.0L557.0 778.0L559.0 778.1L561.0 778.1L563.0 778.1L565.0 778.2L567.0 778.2L569.0 778.2L571.0 778.2L573.0 778.3L575.0 778.3L577.0 778.3L579.0 778.3L581.0 778.3L583.0 778.4L585.0 778.4L587.0 778.4L589.0 778.4L591.0 778.4L593.0 778.4L595.0 778.4" stroke="#c870e2"/>
<path d="M101.0 705.8L103.0 705.8L105.0 705.8L107.0 705.8L109.0 705.8L111.0 705.8L113.0 705.8L115.0 705.8L117.0 705.8L119.0 705.8L121.0 705.8L123.0 705.8L125.0 705.8L127.0 705.8L129.0 705.8L131.0 705.8L133.0 705.8L135.0 705.8L137.0 705.8L139.0 705.9L141.0 705.9L143.0 705.9L145.0 705.9L147.0 705.9L149.0 705.9L151.0 706.0L153.0 706.0L155.0 706.0L157.0 706.0L159.0 706.0L161.0 706.0L163.0 706.1L165.0 706.1L167.0 706.1L169.0 706.1L171.0 706.1L173.0 706.2L175.0 706.2L177.0 706.2L179.0 706.2L181.0 706.2L183.0 706.2L185.0 706.2L187.0 706.3L189.0 706.3L191.0 706.3L193.0 706.3L195.0 706.3L197.0 706.3L199.0 706.3L201.0 706.3L203.0 706.2L205.0 706.2L207.0 706.2L209.0 706.2L211.0 706.1L213.0 706.1L215.0 706.0L217.0 705.9L219.0 705.9L221.0 705.8L223.0 705.7L225.0 705.5L227.0 705.4L229.0 705.2L231.0 705.0L233.0 704.7L235.0 704.4L237.0 704.1L239.0 703.7L241.0 703.3L243.0 702.8L245.0 702.3L247.0 701.6L249.0 700.9L251.0 700.0L253.0 699.1L255.0 698.1L257.0 697.0L259.0 695.8L261.0 694.7L263.0 693.6L265.0 692.8L267.0 692.2L269.0 692.0L271.0 692.2L273.0 692.7L275.0 693.3L277.0 694.2L279.0 695.1L281.0 696.3L283.0 697.4L285.0 698.7L287.0 699.9L289.0 701.1L291.0 702.3L293.0 703.5L295.0 704.7L297.0 705.7L299.0 706.8L301.0 707.8L303.0 708.7L305.0 709.6L307.0 710.5L309.0 711.3L311.0 712.1L313.0 712.9L315.0 713.6L317.0 714.3L319.0 715.0L321.0 715.7L323.0 716.4L325.0 717.1L327.0 717.7L329.0 718.4L331.0 719.0L333.0 719.7L335.0 720.3L337.0 721.0L339.0 721.6L341.0 722.3L343.0 722.9L345.0 723.6L347.0 724.2L349.0 724.9L351.0 725.6L353.0 726.2L355.0 726.9L357.0 727.6L359.0 728.3L361.0 729.0L363.0 729.6L365.0 730.4L367.0 731.1L369.0 731.8L371.0 732.5L373.0 733.3L375.0 734.0L377.0 734.8L379.0 735.6L381.0 736.3L383.0 737.2L385.0 738.0L387.0 738.8L389.0 739.7L391.0 740.6L393.0 741.5L395.0 742.4L397.0 743.3L399.0 744.2L401.0 745.2L403.0 746.1L405.0 747.1L407.0 748.1L409.0 749.1L411.0 750.1L413.0 751.1L415.0 752.1L417.0 753.1L419.0 754.1L421.0 755.2L423.0 756.2L425.0 757.2L427.0 758.2L429.0 759.3L431.0 760.3L433.0 761.2L435.0 762.2L437.0 763.1L439.0 764.0L441.0 764.9L443.0 765.8L445.0 766.6L447.0 767.4L449.0 768.2L451.0 768.9L453.0 769.6L455.0 770.3L457.0 770.9L459.0 771.5L461.0 772.1L463.0 772.6L465.0 773.1L467.0 773.6L469.0 774.0L471.0 774.4L473.0 774.8L475.0 775.1L477.0 775.4L479.0 775.7L481.0 775.9L483.0 776.1L485.0 776.3L487.0 776.5L489.0 776.6L491.0 776.7L493.0 776.8L495.0 777.0L497.0 777.0L499.0 777.1L501.0 777.2L503.0 777.3L505.0 777.4L507.0 777.4L509.0 777.5L511.0 777.6L513.0 777.6L515.0 777.7L517.0 777.8L519.0 777.8L521.0 777.9L523.0 777.9L525.0 778.0L527.0 778.0L529.0 778.1L531.0 778.1L533.0 778.2L535.0 778.2L537.0 778.3L539.0 778.3L541.0 778.3L543.0 778.4L545.0 778.4L547.0 778.4L549.0 778.5L551.0 778.5L553.0 778.5L555.0 778.6L557.0 778.6L559.0 778.6L561.0 778.6L563.0 778.7L565.0 778.7L567.0 778.7L569.0 778.7L571.0 778.7L573.0 778.8L575.0 778.8L577.0 778.8L579.0 778.8L581.0 778.8L583.0 778.8L585.0 778.8L587.0 778.8L589.0 778.8L591.0 778.8L593.0 778.9L595.0 778.9" stroke="#e09a06"/>
<path d="M101.8 1095.0L105.5 1100.0L110.5 1112.5L114.2 1060.0L119.2 1077.5L123.0 1086.2L128.5 1102.5L133.0 1080.0L137.2 1047.5L141.8 1068.8L146.8 1073.8L150.5 1066.2L155.5 1063.8L164.2 1048.0L169.2 1060.0L173.0 1068.8L177.5 1057.5L182.5 1077.5L185.5 1032.5L191.0 1013.8L195.5 1017.5L200.0 1047.5L204.2 1002.0L209.2 1010.0L214.2 1026.2L218.8 990.0L222.5 987.5L226.8 1005.0L233.0 980.0L240.0 932.0L244.2 941.2L249.2 957.5L258.0 935.0L262.5 878.8L267.5 870.0L273.0 875.5L285.0 875.5L289.2 899.5L303.0 873.8L307.5 891.2L312.5 877.5L318.0 880.0L321.2 853.0L325.5 877.5L330.5 906.2L332.5 925.0L337.5 955.0L343.8 986.2L347.5 972.5L353.0 970.0L357.5 987.5L361.2 990.0L366.2 1002.5L370.0 996.2L373.8 1020.0L378.8 1036.2L383.8 1022.5L388.8 1026.2L393.8 1017.5L397.5 1000.0L402.0 977.0L406.2 990.0L410.5 1001.2L416.2 998.8L423.8 1000.0L428.8 1020.0L433.8 1030.0L438.8 1040.0L442.5 1037.0L445.0 1075.0L448.8 1107.5L452.5 1122.5L456.2 1120.0L460.0 1128.0L465.0 1108.8L469.5 1108.0L473.8 1137.5L477.5 1126.2L482.0 1141.2L486.2 1133.8L492.0 1157.0L496.2 1137.5L502.5 1143.8L509.5 1123.8L513.8 1140.0L517.5 1168.8L522.5 1168.8L528.8 1140.0L535.5 1123.8L541.2 1141.2L548.8 1135.0L552.5 1142.5L558.0 1126.2L562.5 1150.0L566.2 1162.5L571.2 1152.5L576.2 1150.0L580.0 1161.2L584.5 1132.5L587.5 1157.5L591.2 1160.0L594.5 1150.0L597.5 1152.5" stroke="#4d4d4d" stroke-width="3.5"/>
<path d="M101.0 1096.1L103.0 1096.1L105.0 1096.1L107.0 1096.1L109.0 1096.2L111.0 1096.2L113.0 1096.2L115.0 1096.3L117.0 1096.3L119.0 1096.4L121.0 1096.5L123.0 1096.5L125.0 1096.6L127.0 1096.7L129.0 1096.8L131.0 1096.8L133.0 1096.9L135.0 1097.0L137.0 1097.1L139.0 1097.2L141.0 1097.4L143.0 1097.5L145.0 1097.6L147.0 1097.7L149.0 1097.8L151.0 1098.0L153.0 1098.1L155.0 1098.2L157.0 1098.4L159.0 1098.5L161.0 1098.6L163.0 1098.8L165.0 1098.9L167.0 1099.1L169.0 1099.2L171.0 1099.4L173.0 1099.5L175.0 1099.7L177.0 1099.8L179.0 1100.0L181.0 1100.1L183.0 1100.3L185.0 1100.5L187.0 1100.6L189.0 1100.8L191.0 1101.0L193.0 1101.2L195.0 1101.4L197.0 1101.6L199.0 1101.8L201.0 1102.0L203.0 1102.2L205.0 1102.4L207.0 1102.7L209.0 1102.9L211.0 1103.1L213.0 1103.4L215.0 1103.6L217.0 1103.9L219.0 1104.2L221.0 1104.4L223.0 1104.7L225.0 1105.0L227.0 1105.3L229.0 1105.6L231.0 1105.9L233.0 1106.2L235.0 1106.5L237.0 1106.8L239.0 1107.2L241.0 1107.5L243.0 1107.9L245.0 1108.2L247.0 1108.6L249.0 1109.0L251.0 1109.4L253.0 1109.9L255.0 1110.3L257.0 1110.8L259.0 1111.2L261.0 1111.7L263.0 1112.2L265.0 1112.8L267.0 1113.3L269.0 1113.8L271.0 1114.4L273.0 1115.0L275.0 1115.5L277.0 1116.1L279.0 1116.7L281.0 1117.3L283.0 1117.9L285.0 1118.5L287.0 1119.1L289.0 1119.7L291.0 1120.3L293.0 1120.9L295.0 1121.5L297.0 1122.1L299.0 1122.7L301.0 1123.2L303.0 1123.8L305.0 1124.3L307.0 1124.9L309.0 1125.4L311.0 1125.9L313.0 1126.4L315.0 1127.0L317.0 1127.4L319.0 1127.9L321.0 1128.4L323.0 1128.9L325.0 1129.4L327.0 1129.8L329.0 1130.3L331.0 1130.7L333.0 1131.2L335.0 1131.6L337.0 1132.1L339.0 1132.5L341.0 1133.0L343.0 1133.4L345.0 1133.8L347.0 1134.2L349.0 1134.7L351.0 1135.1L353.0 1135.5L355.0 1135.9L357.0 1136.3L359.0 1136.7L361.0 1137.1L363.0 1137.5L365.0 1137.9L367.0 1138.3L369.0 1138.6L371.0 1139.0L373.0 1139.4L375.0 1139.8L377.0 1140.1L379.0 1140.5L381.0 1140.9L383.0 1141.2L385.0 1141.6L387.0 1142.0L389.0 1142.3L391.0 1142.7L393.0 1143.1L395.0 1143.4L397.0 1143.8L399.0 1144.2L401.0 1144.5L403.0 1144.9L405.0 1145.2L407.0 1145.6L409.0 1145.9L411.0 1146.3L413.0 1146.6L415.0 1146.9L417.0 1147.2L419.0 1147.5L421.0 1147.8L423.0 1148.1L425.0 1148.4L427.0 1148.6L429.0 1148.9L431.0 1149.1L433.0 1149.4L435.0 1149.6L437.0 1149.8L439.0 1149.9L441.0 1150.1L443.0 1150.3L445.0 1150.4L447.0 1150.5L449.0 1150.7L451.0 1150.8L453.0 1150.9L455.0 1151.0L457.0 1151.1L459.0 1151.2L461.0 1151.3L463.0 1151.3L465.0 1151.4L467.0 1151.5L469.0 1151.6L471.0 1151.7L473.0 1151.7L475.0 1151.8L477.0 1151.9L479.0 1151.9L481.0 1152.0L483.0 1152.1L485.0 1152.1L487.0 1152.2L489.0 1152.3L491.0 1152.3L493.0 1152.4L495.0 1152.5L497.0 1152.5L499.0 1152.6L501.0 1152.6L503.0 1152.7L505.0 1152.7L507.0 1152.8L509.0 1152.8L511.0 1152.9L513.0 1153.0L515.0 1153.0L517.0 1153.0L519.0 1153.1L521.0 1153.1L523.0 1153.2L525.0 1153.2L527.0 1153.3L529.0 1153.3L531.0 1153.4L533.0 1153.4L535.0 1153.4L537.0 1153.5L539.0 1153.5L541.0 1153.5L543.0 1153.6L545.0 1153.6L547.0 1153.6L549.0 1153.7L551.0 1153.7L553.0 1153.7L555.0 1153.7L557.0 1153.8L559.0 1153.8L561.0 1153.8L563.0 1153.8L565.0 1153.8L567.0 1153.9L569.0 1153.9L571.0 1153.9L573.0 1153.9L575.0 1153.9L577.0 1153.9L579.0 1153.9L581.0 1154.0L583.0 1154.0L585.0 1154.0L587.0 1154.0L589.0 1154.0L591.0 1154.0L593.0 1154.0L595.0 1154.0" stroke="#0d6ee0"/>
<path d="M101.0 1081.4L103.0 1081.2L105.0 1080.9L107.0 1080.6L109.0 1080.3L111.0 1079.9L113.0 1079.6L115.0 1079.3L117.0 1079.0L119.0 1078.6L121.0 1078.3L123.0 1077.9L125.0 1077.5L127.0 1077.1L129.0 1076.8L131.0 1076.3L133.0 1075.9L135.0 1075.5L137.0 1075.0L139.0 1074.5L141.0 1074.1L143.0 1073.5L145.0 1073.0L147.0 1072.4L149.0 1071.8L151.0 1071.2L153.0 1070.6L155.0 1069.9L157.0 1069.1L159.0 1068.4L161.0 1067.6L163.0 1066.7L165.0 1065.8L167.0 1064.8L169.0 1063.8L171.0 1062.8L173.0 1061.6L175.0 1060.4L177.0 1059.1L179.0 1057.8L181.0 1056.3L183.0 1054.8L185.0 1053.2L187.0 1051.5L189.0 1049.6L191.0 1047.7L193.0 1045.6L195.0 1043.5L197.0 1041.1L199.0 1038.7L201.0 1036.1L203.0 1033.3L205.0 1030.3L207.0 1027.2L209.0 1023.9L211.0 1020.4L213.0 1016.8L215.0 1012.9L217.0 1008.8L219.0 1004.5L221.0 999.9L223.0 995.2L225.0 990.2L227.0 985.1L229.0 979.7L231.0 974.2L233.0 968.5L235.0 962.7L237.0 956.7L239.0 950.8L241.0 944.8L243.0 938.9L245.0 933.1L247.0 927.5L249.0 922.1L251.0 917.1L253.0 912.5L255.0 908.3L257.0 904.5L259.0 901.3L261.0 898.6L263.0 896.5L265.0 894.9L267.0 893.9L269.0 893.3L271.0 893.0L273.0 893.0L275.0 893.0L277.0 893.1L279.0 893.0L281.0 892.8L283.0 892.3L285.0 891.6L287.0 890.5L289.0 889.1L291.0 887.5L293.0 885.5L295.0 883.3L297.0 881.0L299.0 878.6L301.0 876.4L303.0 874.3L305.0 872.5L307.0 871.2L309.0 870.5L311.0 870.6L313.0 871.4L315.0 873.2L317.0 875.9L319.0 879.9L321.0 885.1L323.0 891.2L325.0 898.3L327.0 906.0L329.0 914.2L331.0 922.8L333.0 931.4L335.0 940.1L337.0 948.5L339.0 956.8L341.0 964.6L343.0 972.1L345.0 979.1L347.0 985.7L349.0 991.7L351.0 997.3L353.0 1002.3L355.0 1006.8L357.0 1010.8L359.0 1014.2L361.0 1017.2L363.0 1019.7L365.0 1021.7L367.0 1023.2L369.0 1024.2L371.0 1024.7L373.0 1024.8L375.0 1024.4L377.0 1023.5L379.0 1022.3L381.0 1020.5L383.0 1018.4L385.0 1015.9L387.0 1013.0L389.0 1009.9L391.0 1006.6L393.0 1003.2L395.0 999.7L397.0 996.4L399.0 993.4L401.0 990.7L403.0 988.7L405.0 987.4L407.0 986.9L409.0 987.3L411.0 988.7L413.0 991.1L415.0 994.3L417.0 998.4L419.0 1003.2L421.0 1008.6L423.0 1014.3L425.0 1020.4L427.0 1026.5L429.0 1032.7L431.0 1038.8L433.0 1044.8L435.0 1050.6L437.0 1056.1L439.0 1061.3L441.0 1066.3L443.0 1070.9L445.0 1075.3L447.0 1079.5L449.0 1083.3L451.0 1086.9L453.0 1090.2L455.0 1093.4L457.0 1096.3L459.0 1099.0L461.0 1101.6L463.0 1104.0L465.0 1106.2L467.0 1108.3L469.0 1110.2L471.0 1112.1L473.0 1113.8L475.0 1115.4L477.0 1116.9L479.0 1118.4L481.0 1119.7L483.0 1121.0L485.0 1122.2L487.0 1123.4L489.0 1124.4L491.0 1125.5L493.0 1126.5L495.0 1127.4L497.0 1128.3L499.0 1129.1L501.0 1129.9L503.0 1130.7L505.0 1131.4L507.0 1132.1L509.0 1132.7L511.0 1133.4L513.0 1134.0L515.0 1134.6L517.0 1135.1L519.0 1135.6L521.0 1136.2L523.0 1136.6L525.0 1137.1L527.0 1137.6L529.0 1138.0L531.0 1138.4L533.0 1138.8L535.0 1139.2L537.0 1139.6L539.0 1139.9L541.0 1140.3L543.0 1140.6L545.0 1140.9L547.0 1141.3L549.0 1141.6L551.0 1141.8L553.0 1142.1L555.0 1142.4L557.0 1142.7L559.0 1142.9L561.0 1143.1L563.0 1143.4L565.0 1143.6L567.0 1143.8L569.0 1144.0L571.0 1144.2L573.0 1144.4L575.0 1144.6L577.0 1144.8L579.0 1145.0L581.0 1145.2L583.0 1145.3L585.0 1145.5L587.0 1145.6L589.0 1145.8L591.0 1145.9L593.0 1146.1L595.0 1146.2" stroke="#fa3c3c"/>
<path d="M101.0 1094.7L103.0 1094.7L105.0 1094.7L107.0 1094.7L109.0 1094.7L111.0 1094.7L113.0 1094.7L115.0 1094.7L117.0 1094.8L119.0 1094.8L121.0 1094.8L123.0 1094.9L125.0 1094.9L127.0 1095.0L129.0 1095.1L131.0 1095.1L133.0 1095.2L135.0 1095.3L137.0 1095.3L139.0 1095.4L141.0 1095.5L143.0 1095.6L145.0 1095.7L147.0 1095.8L149.0 1095.9L151.0 1096.0L153.0 1096.1L155.0 1096.2L157.0 1096.3L159.0 1096.4L161.0 1096.5L163.0 1096.6L165.0 1096.7L167.0 1096.8L169.0 1096.9L171.0 1097.0L173.0 1097.1L175.0 1097.3L177.0 1097.4L179.0 1097.5L181.0 1097.6L183.0 1097.7L185.0 1097.9L187.0 1098.0L189.0 1098.1L191.0 1098.2L193.0 1098.4L195.0 1098.5L197.0 1098.7L199.0 1098.8L201.0 1099.0L203.0 1099.1L205.0 1099.3L207.0 1099.5L209.0 1099.6L211.0 1099.8L213.0 1100.0L215.0 1100.2L217.0 1100.4L219.0 1100.6L221.0 1100.7L223.0 1100.9L225.0 1101.1L227.0 1101.4L229.0 1101.6L231.0 1101.8L233.0 1102.0L235.0 1102.2L237.0 1102.5L239.0 1102.7L241.0 1102.9L243.0 1103.2L245.0 1103.4L247.0 1103.7L249.0 1104.0L251.0 1104.3L253.0 1104.6L255.0 1104.9L257.0 1105.2L259.0 1105.5L261.0 1105.9L263.0 1106.2L265.0 1106.6L267.0 1107.0L269.0 1107.3L271.0 1107.7L273.0 1108.1L275.0 1108.5L277.0 1108.9L279.0 1109.3L281.0 1109.6L283.0 1110.0L285.0 1110.4L287.0 1110.7L289.0 1111.0L291.0 1111.4L293.0 1111.7L295.0 1112.0L297.0 1112.2L299.0 1112.5L301.0 1112.7L303.0 1112.9L305.0 1113.1L307.0 1113.2L309.0 1113.3L311.0 1113.4L313.0 1113.4L315.0 1113.4L317.0 1113.4L319.0 1113.3L321.0 1113.2L323.0 1113.1L325.0 1112.9L327.0 1112.6L329.0 1112.4L331.0 1112.0L333.0 1111.6L335.0 1111.2L337.0 1110.7L339.0 1110.1L341.0 1109.4L343.0 1108.7L345.0 1107.9L347.0 1107.0L349.0 1105.9L351.0 1104.8L353.0 1103.6L355.0 1102.2L357.0 1100.7L359.0 1099.1L361.0 1097.3L363.0 1095.3L365.0 1093.1L367.0 1090.8L369.0 1088.2L371.0 1085.4L373.0 1082.4L375.0 1079.1L377.0 1075.6L379.0 1071.8L381.0 1067.7L383.0 1063.4L385.0 1058.9L387.0 1054.2L389.0 1049.3L391.0 1044.3L393.0 1039.3L395.0 1034.5L397.0 1029.8L399.0 1025.5L401.0 1021.6L403.0 1018.4L405.0 1016.0L407.0 1014.5L409.0 1014.0L411.0 1014.5L413.0 1016.0L415.0 1018.5L417.0 1021.8L419.0 1025.8L421.0 1030.5L423.0 1035.6L425.0 1041.0L427.0 1046.5L429.0 1052.1L431.0 1057.7L433.0 1063.1L435.0 1068.3L437.0 1073.4L439.0 1078.1L441.0 1082.6L443.0 1086.9L445.0 1090.9L447.0 1094.6L449.0 1098.0L451.0 1101.3L453.0 1104.3L455.0 1107.0L457.0 1109.6L459.0 1112.0L461.0 1114.3L463.0 1116.4L465.0 1118.3L467.0 1120.1L469.0 1121.8L471.0 1123.4L473.0 1124.9L475.0 1126.2L477.0 1127.5L479.0 1128.7L481.0 1129.9L483.0 1130.9L485.0 1131.9L487.0 1132.9L489.0 1133.8L491.0 1134.6L493.0 1135.4L495.0 1136.2L497.0 1136.9L499.0 1137.6L501.0 1138.2L503.0 1138.8L505.0 1139.4L507.0 1139.9L509.0 1140.4L511.0 1140.9L513.0 1141.4L515.0 1141.8L517.0 1142.3L519.0 1142.7L521.0 1143.1L523.0 1143.4L525.0 1143.8L527.0 1144.1L529.0 1144.5L531.0 1144.8L533.0 1145.1L535.0 1145.3L537.0 1145.6L539.0 1145.9L541.0 1146.1L543.0 1146.4L545.0 1146.6L547.0 1146.8L549.0 1147.0L551.0 1147.2L553.0 1147.4L555.0 1147.6L557.0 1147.8L559.0 1148.0L561.0 1148.2L563.0 1148.3L565.0 1148.5L567.0 1148.6L569.0 1148.8L571.0 1148.9L573.0 1149.0L575.0 1149.2L577.0 1149.3L579.0 1149.4L581.0 1149.5L583.0 1149.6L585.0 1149.7L587.0 1149.8L589.0 1149.9L591.0 1150.0L593.0 1150.1L595.0 1150.2" stroke="#00a862"/>
<path d="M101.0 1091.0L103.0 1090.9L105.0 1090.8L107.0 1090.7L109.0 1090.7L111.0 1090.6L113.0 1090.5L115.0 1090.5L117.0 1090.4L119.0 1090.3L121.0 1090.3L123.0 1090.2L125.0 1090.2L127.0 1090.1L129.0 1090.1L131.0 1090.0L133.0 1090.0L135.0 1089.9L137.0 1089.9L139.0 1089.8L141.0 1089.7L143.0 1089.7L145.0 1089.6L147.0 1089.6L149.0 1089.5L151.0 1089.4L153.0 1089.4L155.0 1089.3L157.0 1089.2L159.0 1089.1L161.0 1089.0L163.0 1088.9L165.0 1088.8L167.0 1088.7L169.0 1088.6L171.0 1088.5L173.0 1088.3L175.0 1088.2L177.0 1088.0L179.0 1087.9L181.0 1087.7L183.0 1087.5L185.0 1087.3L187.0 1087.1L189.0 1086.9L191.0 1086.6L193.0 1086.4L195.0 1086.1L197.0 1085.9L199.0 1085.6L201.0 1085.2L203.0 1084.9L205.0 1084.6L207.0 1084.2L209.0 1083.8L211.0 1083.3L213.0 1082.9L215.0 1082.4L217.0 1081.9L219.0 1081.3L221.0 1080.7L223.0 1080.0L225.0 1079.3L227.0 1078.6L229.0 1077.7L231.0 1076.9L233.0 1075.9L235.0 1074.9L237.0 1073.8L239.0 1072.6L241.0 1071.3L243.0 1069.9L245.0 1068.4L247.0 1066.8L249.0 1065.0L251.0 1063.2L253.0 1061.1L255.0 1059.0L257.0 1056.6L259.0 1054.1L261.0 1051.4L263.0 1048.5L265.0 1045.4L267.0 1042.1L269.0 1038.5L271.0 1034.7L273.0 1030.6L275.0 1026.3L277.0 1021.7L279.0 1016.8L281.0 1011.7L283.0 1006.3L285.0 1000.7L287.0 994.8L289.0 988.8L291.0 982.6L293.0 976.3L295.0 970.0L297.0 963.8L299.0 957.8L301.0 952.1L303.0 946.8L305.0 942.0L307.0 937.9L309.0 934.7L311.0 932.3L313.0 931.0L315.0 930.8L317.0 931.8L319.0 934.1L321.0 937.8L323.0 942.7L325.0 948.7L327.0 955.4L329.0 962.8L331.0 970.7L333.0 978.9L335.0 987.1L337.0 995.4L339.0 1003.5L341.0 1011.4L343.0 1019.1L345.0 1026.4L347.0 1033.4L349.0 1040.1L351.0 1046.4L353.0 1052.4L355.0 1057.9L357.0 1063.2L359.0 1068.1L361.0 1072.7L363.0 1077.0L365.0 1081.0L367.0 1084.8L369.0 1088.3L371.0 1091.5L373.0 1094.6L375.0 1097.5L377.0 1100.1L379.0 1102.6L381.0 1105.0L383.0 1107.2L385.0 1109.2L387.0 1111.2L389.0 1113.0L391.0 1114.7L393.0 1116.4L395.0 1117.9L397.0 1119.4L399.0 1120.8L401.0 1122.2L403.0 1123.4L405.0 1124.6L407.0 1125.8L409.0 1126.9L411.0 1127.9L413.0 1129.0L415.0 1129.9L417.0 1130.8L419.0 1131.7L421.0 1132.6L423.0 1133.4L425.0 1134.1L427.0 1134.9L429.0 1135.5L431.0 1136.2L433.0 1136.8L435.0 1137.4L437.0 1138.0L439.0 1138.5L441.0 1139.0L443.0 1139.5L445.0 1140.0L447.0 1140.4L449.0 1140.8L451.0 1141.2L453.0 1141.6L455.0 1141.9L457.0 1142.2L459.0 1142.6L461.0 1142.9L463.0 1143.2L465.0 1143.5L467.0 1143.7L469.0 1144.0L471.0 1144.3L473.0 1144.5L475.0 1144.8L477.0 1145.0L479.0 1145.2L481.0 1145.5L483.0 1145.7L485.0 1145.9L487.0 1146.1L489.0 1146.3L491.0 1146.5L493.0 1146.7L495.0 1146.9L497.0 1147.0L499.0 1147.2L501.0 1147.4L503.0 1147.5L505.0 1147.7L507.0 1147.9L509.0 1148.0L511.0 1148.2L513.0 1148.3L515.0 1148.4L517.0 1148.6L519.0 1148.7L521.0 1148.8L523.0 1149.0L525.0 1149.1L527.0 1149.2L529.0 1149.3L531.0 1149.4L533.0 1149.5L535.0 1149.6L537.0 1149.8L539.0 1149.8L541.0 1149.9L543.0 1150.0L545.0 1150.1L547.0 1150.2L549.0 1150.3L551.0 1150.4L553.0 1150.5L555.0 1150.5L557.0 1150.6L559.0 1150.7L561.0 1150.8L563.0 1150.8L565.0 1150.9L567.0 1151.0L569.0 1151.0L571.0 1151.1L573.0 1151.1L575.0 1151.2L577.0 1151.3L579.0 1151.3L581.0 1151.3L583.0 1151.4L585.0 1151.4L587.0 1151.5L589.0 1151.5L591.0 1151.6L593.0 1151.6L595.0 1151.6" stroke="#c870e2"/>
<path d="M101.0 1088.0L103.0 1087.8L105.0 1087.6L107.0 1087.4L109.0 1087.2L111.0 1087.0L113.0 1086.9L115.0 1086.7L117.0 1086.5L119.0 1086.2L121.0 1086.0L123.0 1085.8L125.0 1085.6L127.0 1085.4L129.0 1085.1L131.0 1084.9L133.0 1084.6L135.0 1084.4L137.0 1084.1L139.0 1083.8L141.0 1083.5L143.0 1083.2L145.0 1082.8L147.0 1082.5L149.0 1082.1L151.0 1081.7L153.0 1081.3L155.0 1080.8L157.0 1080.4L159.0 1079.9L161.0 1079.3L163.0 1078.7L165.0 1078.1L167.0 1077.4L169.0 1076.7L171.0 1076.0L173.0 1075.2L175.0 1074.3L177.0 1073.4L179.0 1072.4L181.0 1071.3L183.0 1070.2L185.0 1069.0L187.0 1067.7L189.0 1066.3L191.0 1064.8L193.0 1063.3L195.0 1061.6L197.0 1059.8L199.0 1057.9L201.0 1055.8L203.0 1053.7L205.0 1051.4L207.0 1048.9L209.0 1046.3L211.0 1043.6L213.0 1040.7L215.0 1037.6L217.0 1034.4L219.0 1030.9L221.0 1027.4L223.0 1023.6L225.0 1019.8L227.0 1015.7L229.0 1011.6L231.0 1007.3L233.0 1003.0L235.0 998.6L237.0 994.2L239.0 989.9L241.0 985.6L243.0 981.6L245.0 977.8L247.0 974.3L249.0 971.2L251.0 968.6L253.0 966.5L255.0 965.0L257.0 964.2L259.0 964.1L261.0 964.7L263.0 966.2L265.0 968.4L267.0 971.5L269.0 975.1L271.0 979.4L273.0 984.2L275.0 989.3L277.0 994.8L279.0 1000.4L281.0 1006.1L283.0 1011.9L285.0 1017.6L287.0 1023.2L289.0 1028.8L291.0 1034.1L293.0 1039.3L295.0 1044.3L297.0 1049.1L299.0 1053.7L301.0 1058.0L303.0 1062.2L305.0 1066.1L307.0 1069.8L309.0 1073.4L311.0 1076.7L313.0 1079.9L315.0 1082.9L317.0 1085.7L319.0 1088.3L321.0 1090.8L323.0 1093.2L325.0 1095.5L327.0 1097.6L329.0 1099.6L331.0 1101.5L333.0 1103.3L335.0 1105.0L337.0 1106.7L339.0 1108.2L341.0 1109.7L343.0 1111.1L345.0 1112.5L347.0 1113.8L349.0 1115.0L351.0 1116.2L353.0 1117.3L355.0 1118.4L357.0 1119.4L359.0 1120.4L361.0 1121.4L363.0 1122.4L365.0 1123.3L367.0 1124.1L369.0 1125.0L371.0 1125.8L373.0 1126.6L375.0 1127.4L377.0 1128.1L379.0 1128.9L381.0 1129.6L383.0 1130.3L385.0 1131.0L387.0 1131.7L389.0 1132.3L391.0 1133.0L393.0 1133.6L395.0 1134.2L397.0 1134.8L399.0 1135.4L401.0 1136.0L403.0 1136.6L405.0 1137.2L407.0 1137.7L409.0 1138.3L411.0 1138.8L413.0 1139.3L415.0 1139.8L417.0 1140.3L419.0 1140.8L421.0 1141.2L423.0 1141.6L425.0 1142.1L427.0 1142.5L429.0 1142.9L431.0 1143.2L433.0 1143.6L435.0 1143.9L437.0 1144.2L439.0 1144.5L441.0 1144.8L443.0 1145.1L445.0 1145.3L447.0 1145.6L449.0 1145.8L451.0 1146.0L453.0 1146.2L455.0 1146.4L457.0 1146.6L459.0 1146.8L461.0 1146.9L463.0 1147.1L465.0 1147.3L467.0 1147.4L469.0 1147.6L471.0 1147.7L473.0 1147.9L475.0 1148.0L477.0 1148.1L479.0 1148.3L481.0 1148.4L483.0 1148.5L485.0 1148.7L487.0 1148.8L489.0 1148.9L491.0 1149.0L493.0 1149.1L495.0 1149.3L497.0 1149.4L499.0 1149.5L501.0 1149.6L503.0 1149.7L505.0 1149.8L507.0 1149.9L509.0 1150.0L511.0 1150.1L513.0 1150.2L515.0 1150.3L517.0 1150.4L519.0 1150.5L521.0 1150.5L523.0 1150.6L525.0 1150.7L527.0 1150.8L529.0 1150.9L531.0 1150.9L533.0 1151.0L535.0 1151.1L537.0 1151.1L539.0 1151.2L541.0 1151.3L543.0 1151.3L545.0 1151.4L547.0 1151.5L549.0 1151.5L551.0 1151.6L553.0 1151.6L555.0 1151.7L557.0 1151.7L559.0 1151.8L561.0 1151.8L563.0 1151.9L565.0 1151.9L567.0 1152.0L569.0 1152.0L571.0 1152.0L573.0 1152.1L575.0 1152.1L577.0 1152.2L579.0 1152.2L581.0 1152.2L583.0 1152.2L585.0 1152.3L587.0 1152.3L589.0 1152.3L591.0 1152.4L593.0 1152.4L595.0 1152.4" stroke="#e09a06"/>
</g>
<g clip-path="url(#c1)" fill="none" stroke-width="4" stroke-linejoin="round" stroke-linecap="round">
<path d="M594.0 327.1L598.5 327.6L603.0 325.5L607.4 327.6L611.9 326.0L616.4 324.3L620.9 325.4L625.3 326.8L629.8 326.3L634.3 324.2L638.8 326.4L643.2 325.3L647.7 325.8L652.2 325.4L656.7 323.3L661.1 325.1L665.6 323.6L670.1 326.2L674.6 324.9L679.0 323.7L683.5 322.1L688.0 323.2L692.5 323.0L696.9 320.8L701.4 324.9L705.9 322.1L710.4 323.3L714.8 319.1L719.3 322.1L723.8 317.5L728.3 317.7L732.7 318.4L737.2 316.9L741.7 312.8L746.2 313.4L750.6 314.8L755.1 315.3L759.6 312.6L762.0 311.0L767.0 306.0L770.8 302.2L774.5 290.5L778.2 294.8L782.0 299.8L787.0 294.8L792.0 288.5L797.0 283.5L802.0 284.0L807.0 279.8L812.0 274.8L815.8 273.5L820.0 263.5L824.5 256.0L829.0 253.0L834.0 254.8L838.2 246.0L842.0 234.8L847.0 234.0L850.8 223.5L854.5 208.5L858.2 198.5L862.0 192.2L867.0 182.2L872.0 158.5L877.0 148.5L882.0 131.0L887.0 114.8L892.0 106.0L897.0 99.0L900.8 94.0L905.0 93.5L909.0 89.0L913.2 91.0L917.0 98.5L920.8 108.5L924.5 123.5L927.5 141.0L930.8 168.5L934.5 191.0L938.2 211.0L942.0 236.0L945.8 261.0L949.5 281.0L954.5 303.5L959.5 321.0L964.5 336.0L969.5 348.5L974.5 357.2L979.5 362.2L984.5 364.8L989.5 371.0L994.5 376.0L1002.0 376.0L1008.2 376.0L1011.5 373.0L1015.8 377.2L1022.0 378.5L1030.0 378.5L1038.3 386.7L1044.0 383.0L1051.7 380.0L1058.0 383.0L1065.0 385.0L1073.0 384.0L1081.7 388.3L1088.3 383.3L1094.0 383.0" stroke="#4d4d4d" stroke-width="3.5"/>
<path d="M594.0 331.7L596.0 331.7L598.0 331.7L600.0 331.7L602.0 331.7L604.0 331.7L606.0 331.7L608.0 331.7L610.0 331.7L612.0 331.7L614.0 331.7L616.0 331.7L618.0 331.8L620.0 331.8L622.0 331.8L624.0 331.8L626.0 331.8L628.0 331.8L630.0 331.8L632.0 331.8L634.0 331.8L636.0 331.8L638.0 331.9L640.0 331.9L642.0 331.9L644.0 331.9L646.0 331.9L648.0 331.9L650.0 332.0L652.0 332.0L654.0 332.0L656.0 332.0L658.0 332.0L660.0 332.0L662.0 332.1L664.0 332.1L666.0 332.1L668.0 332.1L670.0 332.1L672.0 332.2L674.0 332.2L676.0 332.2L678.0 332.2L680.0 332.3L682.0 332.3L684.0 332.3L686.0 332.3L688.0 332.4L690.0 332.4L692.0 332.4L694.0 332.5L696.0 332.5L698.0 332.5L700.0 332.6L702.0 332.6L704.0 332.6L706.0 332.6L708.0 332.7L710.0 332.7L712.0 332.7L714.0 332.8L716.0 332.8L718.0 332.9L720.0 332.9L722.0 332.9L724.0 333.0L726.0 333.0L728.0 333.0L730.0 333.1L732.0 333.1L734.0 333.2L736.0 333.2L738.0 333.3L740.0 333.3L742.0 333.4L744.0 333.5L746.0 333.5L748.0 333.6L750.0 333.7L752.0 333.8L754.0 333.9L756.0 334.0L758.0 334.1L760.0 334.2L762.0 334.3L764.0 334.4L766.0 334.5L768.0 334.7L770.0 334.8L772.0 335.0L774.0 335.1L776.0 335.3L778.0 335.4L780.0 335.6L782.0 335.8L784.0 335.9L786.0 336.1L788.0 336.3L790.0 336.5L792.0 336.7L794.0 336.9L796.0 337.1L798.0 337.3L800.0 337.5L802.0 337.7L804.0 337.9L806.0 338.1L808.0 338.3L810.0 338.6L812.0 338.8L814.0 339.0L816.0 339.3L818.0 339.5L820.0 339.8L822.0 340.1L824.0 340.3L826.0 340.6L828.0 340.9L830.0 341.2L832.0 341.5L834.0 341.8L836.0 342.1L838.0 342.4L840.0 342.8L842.0 343.1L844.0 343.5L846.0 343.8L848.0 344.2L850.0 344.6L852.0 345.0L854.0 345.4L856.0 345.8L858.0 346.2L860.0 346.7L862.0 347.1L864.0 347.6L866.0 348.1L868.0 348.6L870.0 349.1L872.0 349.7L874.0 350.2L876.0 350.8L878.0 351.4L880.0 352.1L882.0 352.7L884.0 353.4L886.0 354.2L888.0 354.9L890.0 355.7L892.0 356.5L894.0 357.3L896.0 358.1L898.0 358.9L900.0 359.8L902.0 360.7L904.0 361.6L906.0 362.5L908.0 363.4L910.0 364.3L912.0 365.2L914.0 366.2L916.0 367.1L918.0 368.0L920.0 369.0L922.0 369.9L924.0 370.8L926.0 371.7L928.0 372.5L930.0 373.3L932.0 374.1L934.0 374.9L936.0 375.6L938.0 376.3L940.0 377.0L942.0 377.6L944.0 378.1L946.0 378.7L948.0 379.2L950.0 379.6L952.0 380.1L954.0 380.4L956.0 380.8L958.0 381.1L960.0 381.5L962.0 381.7L964.0 382.0L966.0 382.2L968.0 382.4L970.0 382.6L972.0 382.7L974.0 382.9L976.0 383.0L978.0 383.1L980.0 383.2L982.0 383.3L984.0 383.3L986.0 383.4L988.0 383.4L990.0 383.5L992.0 383.5L994.0 383.5L996.0 383.5L998.0 383.6L1000.0 383.6L1002.0 383.6L1004.0 383.6L1006.0 383.7L1008.0 383.7L1010.0 383.7L1012.0 383.7L1014.0 383.7L1016.0 383.7L1018.0 383.8L1020.0 383.8L1022.0 383.8L1024.0 383.8L1026.0 383.8L1028.0 383.8L1030.0 383.8L1032.0 383.8L1034.0 383.9L1036.0 383.9L1038.0 383.9L1040.0 383.9L1042.0 383.9L1044.0 383.9L1046.0 383.9L1048.0 383.9L1050.0 383.9L1052.0 383.9L1054.0 383.9L1056.0 383.9L1058.0 384.0L1060.0 384.0L1062.0 384.0L1064.0 384.0L1066.0 384.0L1068.0 384.0L1070.0 384.0L1072.0 384.0L1074.0 384.0L1076.0 384.0L1078.0 384.0L1080.0 384.0L1082.0 384.0L1084.0 384.0L1086.0 384.0L1088.0 384.0L1090.0 384.0L1092.0 384.0L1094.0 384.0" stroke="#0d6ee0"/>
<path d="M594.0 327.7L596.0 327.7L598.0 327.6L600.0 327.6L602.0 327.5L604.0 327.5L606.0 327.4L608.0 327.3L610.0 327.3L612.0 327.2L614.0 327.1L616.0 327.1L618.0 327.0L620.0 326.9L622.0 326.9L624.0 326.8L626.0 326.7L628.0 326.7L630.0 326.6L632.0 326.5L634.0 326.4L636.0 326.4L638.0 326.3L640.0 326.2L642.0 326.1L644.0 326.0L646.0 325.9L648.0 325.9L650.0 325.8L652.0 325.7L654.0 325.6L656.0 325.5L658.0 325.4L660.0 325.3L662.0 325.2L664.0 325.0L666.0 324.9L668.0 324.8L670.0 324.7L672.0 324.6L674.0 324.4L676.0 324.3L678.0 324.1L680.0 324.0L682.0 323.8L684.0 323.7L686.0 323.5L688.0 323.3L690.0 323.2L692.0 323.0L694.0 322.8L696.0 322.6L698.0 322.3L700.0 322.1L702.0 321.9L704.0 321.6L706.0 321.3L708.0 321.1L710.0 320.8L712.0 320.4L714.0 320.1L716.0 319.8L718.0 319.4L720.0 319.0L722.0 318.6L724.0 318.1L726.0 317.6L728.0 317.1L730.0 316.6L732.0 316.0L734.0 315.4L736.0 314.8L738.0 314.1L740.0 313.4L742.0 312.7L744.0 311.9L746.0 311.1L748.0 310.2L750.0 309.3L752.0 308.3L754.0 307.3L756.0 306.3L758.0 305.1L760.0 304.0L762.0 302.8L764.0 301.5L766.0 300.2L768.0 298.9L770.0 297.5L772.0 296.0L774.0 294.6L776.0 293.0L778.0 291.5L780.0 289.9L782.0 288.3L784.0 286.6L786.0 285.0L788.0 283.3L790.0 281.7L792.0 280.0L794.0 278.4L796.0 276.9L798.0 275.4L800.0 273.9L802.0 272.5L804.0 271.3L806.0 270.1L808.0 269.0L810.0 268.0L812.0 267.1L814.0 266.3L816.0 265.5L818.0 264.8L820.0 264.1L822.0 263.4L824.0 262.7L826.0 262.0L828.0 261.2L830.0 260.4L832.0 259.5L834.0 258.5L836.0 257.4L838.0 256.1L840.0 254.6L842.0 252.9L844.0 251.0L846.0 248.9L848.0 246.4L850.0 243.7L852.0 240.6L854.0 237.1L856.0 233.2L858.0 228.9L860.0 224.2L862.0 219.0L864.0 213.3L866.0 207.0L868.0 200.2L870.0 192.8L872.0 184.9L874.0 176.4L876.0 167.3L878.0 157.8L880.0 147.9L882.0 137.7L884.0 127.3L886.0 117.0L888.0 106.9L890.0 97.3L892.0 88.6L894.0 80.9L896.0 74.7L898.0 70.3L900.0 67.8L902.0 67.4L904.0 69.2L906.0 72.9L908.0 78.4L910.0 85.6L912.0 94.3L914.0 104.1L916.0 114.8L918.0 126.2L920.0 138.0L922.0 150.0L924.0 162.0L926.0 173.8L928.0 185.4L930.0 196.5L932.0 207.2L934.0 217.5L936.0 227.2L938.0 236.4L940.0 245.0L942.0 253.1L944.0 260.7L946.0 267.8L948.0 274.5L950.0 280.7L952.0 286.5L954.0 291.9L956.0 296.9L958.0 301.6L960.0 306.0L962.0 310.1L964.0 313.9L966.0 317.4L968.0 320.7L970.0 323.8L972.0 326.6L974.0 329.3L976.0 331.8L978.0 334.1L980.0 336.3L982.0 338.3L984.0 340.2L986.0 342.0L988.0 343.7L990.0 345.3L992.0 346.7L994.0 348.1L996.0 349.5L998.0 350.7L1000.0 351.9L1002.0 353.1L1004.0 354.1L1006.0 355.1L1008.0 356.1L1010.0 357.0L1012.0 357.9L1014.0 358.8L1016.0 359.6L1018.0 360.3L1020.0 361.0L1022.0 361.7L1024.0 362.4L1026.0 363.0L1028.0 363.6L1030.0 364.2L1032.0 364.8L1034.0 365.3L1036.0 365.8L1038.0 366.3L1040.0 366.8L1042.0 367.3L1044.0 367.7L1046.0 368.1L1048.0 368.5L1050.0 368.9L1052.0 369.3L1054.0 369.7L1056.0 370.0L1058.0 370.4L1060.0 370.7L1062.0 371.0L1064.0 371.3L1066.0 371.6L1068.0 371.9L1070.0 372.1L1072.0 372.4L1074.0 372.7L1076.0 372.9L1078.0 373.1L1080.0 373.4L1082.0 373.6L1084.0 373.8L1086.0 374.0L1088.0 374.2L1090.0 374.4L1092.0 374.6L1094.0 374.8" stroke="#fa3c3c"/>
<path d="M594.0 328.7L596.0 328.7L598.0 328.7L600.0 328.6L602.0 328.6L604.0 328.6L606.0 328.5L608.0 328.5L610.0 328.4L612.0 328.4L614.0 328.4L616.0 328.3L618.0 328.3L620.0 328.2L622.0 328.2L624.0 328.2L626.0 328.1L628.0 328.1L630.0 328.0L632.0 328.0L634.0 327.9L636.0 327.9L638.0 327.8L640.0 327.8L642.0 327.7L644.0 327.7L646.0 327.7L648.0 327.6L650.0 327.5L652.0 327.5L654.0 327.4L656.0 327.4L658.0 327.3L660.0 327.3L662.0 327.2L664.0 327.2L666.0 327.1L668.0 327.0L670.0 327.0L672.0 326.9L674.0 326.8L676.0 326.8L678.0 326.7L680.0 326.6L682.0 326.6L684.0 326.5L686.0 326.4L688.0 326.3L690.0 326.2L692.0 326.1L694.0 326.1L696.0 326.0L698.0 325.9L700.0 325.8L702.0 325.7L704.0 325.6L706.0 325.5L708.0 325.3L710.0 325.2L712.0 325.1L714.0 325.0L716.0 324.9L718.0 324.7L720.0 324.6L722.0 324.4L724.0 324.3L726.0 324.1L728.0 324.0L730.0 323.8L732.0 323.7L734.0 323.5L736.0 323.3L738.0 323.1L740.0 322.9L742.0 322.7L744.0 322.5L746.0 322.3L748.0 322.1L750.0 321.9L752.0 321.7L754.0 321.5L756.0 321.3L758.0 321.0L760.0 320.8L762.0 320.5L764.0 320.3L766.0 320.0L768.0 319.7L770.0 319.5L772.0 319.2L774.0 318.8L776.0 318.5L778.0 318.2L780.0 317.8L782.0 317.4L784.0 317.0L786.0 316.6L788.0 316.1L790.0 315.6L792.0 315.1L794.0 314.6L796.0 314.0L798.0 313.4L800.0 312.7L802.0 312.0L804.0 311.3L806.0 310.5L808.0 309.7L810.0 308.8L812.0 307.8L814.0 306.8L816.0 305.7L818.0 304.5L820.0 303.2L822.0 301.9L824.0 300.5L826.0 298.9L828.0 297.3L830.0 295.5L832.0 293.6L834.0 291.5L836.0 289.2L838.0 286.8L840.0 284.2L842.0 281.4L844.0 278.4L846.0 275.1L848.0 271.5L850.0 267.7L852.0 263.5L854.0 259.0L856.0 254.1L858.0 248.9L860.0 243.2L862.0 237.0L864.0 230.4L866.0 223.3L868.0 215.7L870.0 207.5L872.0 198.8L874.0 189.6L876.0 179.9L878.0 169.8L880.0 159.2L882.0 148.5L884.0 137.5L886.0 126.7L888.0 116.1L890.0 106.0L892.0 96.9L894.0 88.8L896.0 82.2L898.0 77.4L900.0 74.6L902.0 73.9L904.0 75.4L906.0 78.8L908.0 84.1L910.0 91.1L912.0 99.4L914.0 109.0L916.0 119.6L918.0 130.8L920.0 142.4L922.0 154.2L924.0 166.1L926.0 177.8L928.0 189.2L930.0 200.2L932.0 210.8L934.0 220.9L936.0 230.5L938.0 239.6L940.0 248.1L942.0 256.2L944.0 263.7L946.0 270.7L948.0 277.3L950.0 283.4L952.0 289.2L954.0 294.5L956.0 299.5L958.0 304.1L960.0 308.4L962.0 312.4L964.0 316.1L966.0 319.6L968.0 322.9L970.0 325.9L972.0 328.7L974.0 331.3L976.0 333.7L978.0 336.0L980.0 338.1L982.0 340.1L984.0 342.0L986.0 343.8L988.0 345.4L990.0 346.9L992.0 348.4L994.0 349.8L996.0 351.1L998.0 352.3L1000.0 353.5L1002.0 354.6L1004.0 355.6L1006.0 356.6L1008.0 357.5L1010.0 358.4L1012.0 359.3L1014.0 360.1L1016.0 360.9L1018.0 361.6L1020.0 362.3L1022.0 363.0L1024.0 363.6L1026.0 364.2L1028.0 364.8L1030.0 365.4L1032.0 365.9L1034.0 366.4L1036.0 366.9L1038.0 367.4L1040.0 367.9L1042.0 368.3L1044.0 368.7L1046.0 369.1L1048.0 369.5L1050.0 369.9L1052.0 370.3L1054.0 370.6L1056.0 371.0L1058.0 371.3L1060.0 371.6L1062.0 371.9L1064.0 372.2L1066.0 372.5L1068.0 372.7L1070.0 373.0L1072.0 373.2L1074.0 373.5L1076.0 373.7L1078.0 373.9L1080.0 374.2L1082.0 374.4L1084.0 374.6L1086.0 374.8L1088.0 375.0L1090.0 375.2L1092.0 375.3L1094.0 375.5" stroke="#00a862"/>
<path d="M594.0 330.7L596.0 330.7L598.0 330.7L600.0 330.6L602.0 330.6L604.0 330.6L606.0 330.6L608.0 330.6L610.0 330.6L612.0 330.5L614.0 330.5L616.0 330.5L618.0 330.5L620.0 330.5L622.0 330.5L624.0 330.4L626.0 330.4L628.0 330.4L630.0 330.4L632.0 330.4L634.0 330.3L636.0 330.3L638.0 330.3L640.0 330.3L642.0 330.3L644.0 330.2L646.0 330.2L648.0 330.2L650.0 330.2L652.0 330.1L654.0 330.1L656.0 330.1L658.0 330.1L660.0 330.0L662.0 330.0L664.0 330.0L666.0 329.9L668.0 329.9L670.0 329.9L672.0 329.8L674.0 329.8L676.0 329.7L678.0 329.7L680.0 329.6L682.0 329.6L684.0 329.5L686.0 329.5L688.0 329.4L690.0 329.3L692.0 329.3L694.0 329.2L696.0 329.1L698.0 329.0L700.0 328.9L702.0 328.8L704.0 328.7L706.0 328.5L708.0 328.4L710.0 328.3L712.0 328.1L714.0 327.9L716.0 327.7L718.0 327.5L720.0 327.3L722.0 327.1L724.0 326.8L726.0 326.5L728.0 326.2L730.0 325.9L732.0 325.5L734.0 325.1L736.0 324.7L738.0 324.3L740.0 323.8L742.0 323.3L744.0 322.8L746.0 322.2L748.0 321.7L750.0 321.0L752.0 320.4L754.0 319.7L756.0 318.9L758.0 318.2L760.0 317.4L762.0 316.5L764.0 315.7L766.0 314.8L768.0 313.8L770.0 312.8L772.0 311.8L774.0 310.8L776.0 309.8L778.0 308.7L780.0 307.7L782.0 306.6L784.0 305.5L786.0 304.5L788.0 303.5L790.0 302.5L792.0 301.6L794.0 300.7L796.0 299.9L798.0 299.2L800.0 298.7L802.0 298.2L804.0 297.9L806.0 297.7L808.0 297.7L810.0 297.8L812.0 298.1L814.0 298.6L816.0 299.1L818.0 299.8L820.0 300.6L822.0 301.5L824.0 302.6L826.0 303.7L828.0 304.9L830.0 306.1L832.0 307.5L834.0 308.8L836.0 310.3L838.0 311.7L840.0 313.2L842.0 314.6L844.0 316.1L846.0 317.6L848.0 319.1L850.0 320.6L852.0 322.0L854.0 323.5L856.0 324.9L858.0 326.3L860.0 327.7L862.0 329.1L864.0 330.4L866.0 331.8L868.0 333.1L870.0 334.4L872.0 335.7L874.0 337.0L876.0 338.2L878.0 339.5L880.0 340.8L882.0 342.0L884.0 343.2L886.0 344.5L888.0 345.7L890.0 346.9L892.0 348.2L894.0 349.4L896.0 350.6L898.0 351.8L900.0 353.0L902.0 354.2L904.0 355.4L906.0 356.6L908.0 357.7L910.0 358.9L912.0 360.0L914.0 361.2L916.0 362.3L918.0 363.4L920.0 364.5L922.0 365.6L924.0 366.7L926.0 367.7L928.0 368.7L930.0 369.7L932.0 370.6L934.0 371.5L936.0 372.3L938.0 373.1L940.0 373.8L942.0 374.5L944.0 375.2L946.0 375.8L948.0 376.4L950.0 376.9L952.0 377.4L954.0 377.9L956.0 378.3L958.0 378.7L960.0 379.1L962.0 379.4L964.0 379.7L966.0 380.0L968.0 380.3L970.0 380.5L972.0 380.7L974.0 380.9L976.0 381.0L978.0 381.2L980.0 381.3L982.0 381.4L984.0 381.5L986.0 381.6L988.0 381.7L990.0 381.8L992.0 381.8L994.0 381.9L996.0 382.0L998.0 382.0L1000.0 382.1L1002.0 382.1L1004.0 382.2L1006.0 382.2L1008.0 382.3L1010.0 382.3L1012.0 382.3L1014.0 382.4L1016.0 382.4L1018.0 382.5L1020.0 382.5L1022.0 382.5L1024.0 382.6L1026.0 382.6L1028.0 382.6L1030.0 382.7L1032.0 382.7L1034.0 382.7L1036.0 382.8L1038.0 382.8L1040.0 382.8L1042.0 382.9L1044.0 382.9L1046.0 382.9L1048.0 382.9L1050.0 382.9L1052.0 383.0L1054.0 383.0L1056.0 383.0L1058.0 383.0L1060.0 383.1L1062.0 383.1L1064.0 383.1L1066.0 383.1L1068.0 383.1L1070.0 383.1L1072.0 383.2L1074.0 383.2L1076.0 383.2L1078.0 383.2L1080.0 383.2L1082.0 383.2L1084.0 383.2L1086.0 383.2L1088.0 383.3L1090.0 383.3L1092.0 383.3L1094.0 383.3" stroke="#c870e2"/>
<path d="M595.8 721.0L600.2 722.9L605.8 721.0L613.4 719.1L622.2 725.4L629.7 722.9L635.3 727.9L642.3 718.5L652.3 721.6L657.3 717.8L662.4 725.4L667.4 718.5L680.0 716.0L692.0 714.0L705.0 710.3L711.3 705.9L723.9 704.6L728.9 701.5L735.2 704.0L740.2 699.0L742.8 688.9L747.8 692.7L754.1 688.9L762.0 676.0L765.8 675.5L770.0 676.0L774.5 687.2L778.2 676.0L782.0 669.8L785.8 668.5L789.5 673.5L794.5 671.0L799.5 663.5L804.5 657.2L809.5 656.0L813.2 658.0L818.2 653.5L823.2 658.5L827.5 639.8L832.0 634.8L837.0 631.0L842.0 631.5L847.0 627.2L850.0 606.0L854.0 598.5L858.2 593.0L863.2 587.2L867.0 578.5L872.0 563.5L877.0 548.5L882.0 534.8L885.8 526.0L889.5 524.8L891.5 528.5L895.8 518.5L899.5 511.0L903.2 509.8L907.0 511.0L910.8 514.8L914.5 522.2L918.2 529.8L923.2 538.5L926.5 558.5L930.0 578.5L933.2 596.0L936.5 618.5L940.0 638.5L944.0 656.0L948.2 673.5L952.0 688.5L955.8 706.0L958.2 719.8L962.0 731.0L965.8 736.0L969.5 738.5L974.5 752.2L979.5 754.8L984.5 761.0L989.0 767.2L994.5 765.5L999.5 766.0L1003.2 768.5L1007.0 765.5L1012.0 769.0L1017.0 768.0L1020.8 766.5L1024.5 772.2L1030.0 774.8L1041.7 780.0L1048.0 778.0L1055.0 776.7L1063.0 779.0L1071.7 783.3L1080.0 781.0L1088.3 776.7L1094.0 777.0" stroke="#4d4d4d" stroke-width="3.5"/>
<path d="M594.0 716.0L596.0 716.0L598.0 716.0L600.0 716.0L602.0 716.0L604.0 716.0L606.0 716.0L608.0 716.1L610.0 716.1L612.0 716.1L614.0 716.1L616.0 716.1L618.0 716.1L620.0 716.1L622.0 716.2L624.0 716.2L626.0 716.2L628.0 716.2L630.0 716.2L632.0 716.3L634.0 716.3L636.0 716.3L638.0 716.4L640.0 716.4L642.0 716.4L644.0 716.4L646.0 716.5L648.0 716.5L650.0 716.5L652.0 716.6L654.0 716.6L656.0 716.7L658.0 716.7L660.0 716.7L662.0 716.8L664.0 716.8L666.0 716.9L668.0 716.9L670.0 717.0L672.0 717.0L674.0 717.1L676.0 717.1L678.0 717.2L680.0 717.2L682.0 717.3L684.0 717.3L686.0 717.4L688.0 717.4L690.0 717.5L692.0 717.6L694.0 717.6L696.0 717.7L698.0 717.7L700.0 717.8L702.0 717.9L704.0 717.9L706.0 718.0L708.0 718.1L710.0 718.1L712.0 718.2L714.0 718.3L716.0 718.3L718.0 718.4L720.0 718.5L722.0 718.6L724.0 718.6L726.0 718.7L728.0 718.8L730.0 718.9L732.0 719.0L734.0 719.0L736.0 719.1L738.0 719.2L740.0 719.3L742.0 719.4L744.0 719.5L746.0 719.6L748.0 719.8L750.0 719.9L752.0 720.0L754.0 720.2L756.0 720.3L758.0 720.5L760.0 720.7L762.0 720.8L764.0 721.0L766.0 721.2L768.0 721.4L770.0 721.6L772.0 721.8L774.0 722.1L776.0 722.3L778.0 722.5L780.0 722.8L782.0 723.0L784.0 723.3L786.0 723.5L788.0 723.8L790.0 724.1L792.0 724.4L794.0 724.6L796.0 724.9L798.0 725.2L800.0 725.5L802.0 725.8L804.0 726.2L806.0 726.5L808.0 726.8L810.0 727.1L812.0 727.5L814.0 727.8L816.0 728.2L818.0 728.6L820.0 729.0L822.0 729.4L824.0 729.8L826.0 730.2L828.0 730.6L830.0 731.0L832.0 731.5L834.0 732.0L836.0 732.4L838.0 732.9L840.0 733.4L842.0 733.9L844.0 734.4L846.0 734.9L848.0 735.5L850.0 736.0L852.0 736.6L854.0 737.1L856.0 737.7L858.0 738.3L860.0 738.9L862.0 739.5L864.0 740.1L866.0 740.7L868.0 741.3L870.0 741.9L872.0 742.6L874.0 743.3L876.0 743.9L878.0 744.6L880.0 745.3L882.0 746.1L884.0 746.8L886.0 747.6L888.0 748.3L890.0 749.1L892.0 749.9L894.0 750.8L896.0 751.6L898.0 752.4L900.0 753.3L902.0 754.2L904.0 755.0L906.0 755.9L908.0 756.8L910.0 757.7L912.0 758.7L914.0 759.6L916.0 760.5L918.0 761.4L920.0 762.4L922.0 763.3L924.0 764.2L926.0 765.1L928.0 765.9L930.0 766.7L932.0 767.5L934.0 768.3L936.0 769.0L938.0 769.7L940.0 770.4L942.0 771.0L944.0 771.5L946.0 772.1L948.0 772.6L950.0 773.0L952.0 773.4L954.0 773.8L956.0 774.2L958.0 774.5L960.0 774.8L962.0 775.1L964.0 775.4L966.0 775.6L968.0 775.8L970.0 776.0L972.0 776.2L974.0 776.3L976.0 776.4L978.0 776.5L980.0 776.6L982.0 776.7L984.0 776.8L986.0 776.8L988.0 776.9L990.0 776.9L992.0 777.0L994.0 777.0L996.0 777.0L998.0 777.1L1000.0 777.1L1002.0 777.1L1004.0 777.2L1006.0 777.2L1008.0 777.2L1010.0 777.2L1012.0 777.3L1014.0 777.3L1016.0 777.3L1018.0 777.3L1020.0 777.4L1022.0 777.4L1024.0 777.4L1026.0 777.4L1028.0 777.4L1030.0 777.5L1032.0 777.5L1034.0 777.5L1036.0 777.5L1038.0 777.5L1040.0 777.5L1042.0 777.5L1044.0 777.6L1046.0 777.6L1048.0 777.6L1050.0 777.6L1052.0 777.6L1054.0 777.6L1056.0 777.6L1058.0 777.6L1060.0 777.6L1062.0 777.6L1064.0 777.7L1066.0 777.7L1068.0 777.7L1070.0 777.7L1072.0 777.7L1074.0 777.7L1076.0 777.7L1078.0 777.7L1080.0 777.7L1082.0 777.7L1084.0 777.7L1086.0 777.7L1088.0 777.7L1090.0 777.7L1092.0 777.7L1094.0 777.7" stroke="#0d6ee0"/>
<path d="M594.0 711.5L596.0 711.5L598.0 711.4L600.0 711.3L602.0 711.3L604.0 711.2L606.0 711.1L608.0 711.1L610.0 711.0L612.0 710.9L614.0 710.9L616.0 710.8L618.0 710.7L620.0 710.6L622.0 710.6L624.0 710.5L626.0 710.4L628.0 710.3L630.0 710.2L632.0 710.2L634.0 710.1L636.0 710.0L638.0 709.9L640.0 709.8L642.0 709.7L644.0 709.6L646.0 709.5L648.0 709.4L650.0 709.3L652.0 709.2L654.0 709.1L656.0 708.9L658.0 708.8L660.0 708.7L662.0 708.6L664.0 708.4L666.0 708.3L668.0 708.1L670.0 708.0L672.0 707.8L674.0 707.6L676.0 707.5L678.0 707.3L680.0 707.1L682.0 706.9L684.0 706.7L686.0 706.5L688.0 706.2L690.0 706.0L692.0 705.7L694.0 705.5L696.0 705.2L698.0 704.9L700.0 704.6L702.0 704.2L704.0 703.9L706.0 703.5L708.0 703.1L710.0 702.7L712.0 702.3L714.0 701.8L716.0 701.4L718.0 700.9L720.0 700.3L722.0 699.7L724.0 699.1L726.0 698.5L728.0 697.8L730.0 697.1L732.0 696.3L734.0 695.5L736.0 694.7L738.0 693.8L740.0 692.8L742.0 691.8L744.0 690.8L746.0 689.7L748.0 688.6L750.0 687.4L752.0 686.3L754.0 685.0L756.0 683.8L758.0 682.5L760.0 681.2L762.0 679.9L764.0 678.6L766.0 677.3L768.0 676.0L770.0 674.7L772.0 673.4L774.0 672.0L776.0 670.7L778.0 669.3L780.0 667.9L782.0 666.4L784.0 664.9L786.0 663.3L788.0 661.6L790.0 660.0L792.0 658.3L794.0 656.5L796.0 654.8L798.0 653.2L800.0 651.6L802.0 650.2L804.0 648.9L806.0 647.9L808.0 647.0L810.0 646.4L812.0 646.1L814.0 645.9L816.0 645.9L818.0 646.1L820.0 646.4L822.0 646.7L824.0 647.1L826.0 647.5L828.0 647.8L830.0 648.1L832.0 648.2L834.0 648.1L836.0 647.9L838.0 647.5L840.0 646.8L842.0 645.9L844.0 644.7L846.0 643.2L848.0 641.4L850.0 639.3L852.0 636.8L854.0 633.9L856.0 630.7L858.0 627.0L860.0 622.9L862.0 618.3L864.0 613.3L866.0 607.7L868.0 601.7L870.0 595.2L872.0 588.2L874.0 580.8L876.0 572.8L878.0 564.6L880.0 556.0L882.0 547.2L884.0 538.4L886.0 529.7L888.0 521.3L890.0 513.5L892.0 506.5L894.0 500.5L896.0 495.9L898.0 492.8L900.0 491.4L902.0 491.8L904.0 494.2L906.0 498.6L908.0 504.7L910.0 512.5L912.0 521.6L914.0 531.7L916.0 542.6L918.0 553.9L920.0 565.4L922.0 577.0L924.0 588.3L926.0 599.3L928.0 609.9L930.0 620.1L932.0 629.7L934.0 638.7L936.0 647.2L938.0 655.2L940.0 662.7L942.0 669.6L944.0 676.0L946.0 682.0L948.0 687.6L950.0 692.8L952.0 697.6L954.0 702.1L956.0 706.2L958.0 710.1L960.0 713.7L962.0 717.0L964.0 720.1L966.0 723.0L968.0 725.7L970.0 728.2L972.0 730.5L974.0 732.7L976.0 734.7L978.0 736.6L980.0 738.4L982.0 740.1L984.0 741.6L986.0 743.1L988.0 744.5L990.0 745.8L992.0 747.0L994.0 748.1L996.0 749.2L998.0 750.3L1000.0 751.2L1002.0 752.2L1004.0 753.1L1006.0 753.9L1008.0 754.7L1010.0 755.5L1012.0 756.2L1014.0 756.9L1016.0 757.5L1018.0 758.2L1020.0 758.8L1022.0 759.3L1024.0 759.9L1026.0 760.4L1028.0 760.9L1030.0 761.4L1032.0 761.9L1034.0 762.3L1036.0 762.7L1038.0 763.1L1040.0 763.5L1042.0 763.9L1044.0 764.3L1046.0 764.6L1048.0 765.0L1050.0 765.3L1052.0 765.6L1054.0 765.9L1056.0 766.2L1058.0 766.5L1060.0 766.7L1062.0 767.0L1064.0 767.2L1066.0 767.5L1068.0 767.7L1070.0 767.9L1072.0 768.2L1074.0 768.4L1076.0 768.6L1078.0 768.8L1080.0 768.9L1082.0 769.1L1084.0 769.3L1086.0 769.5L1088.0 769.6L1090.0 769.8L1092.0 770.0L1094.0 770.1" stroke="#fa3c3c"/>
<path d="M594.0 713.0L596.0 713.0L598.0 713.0L600.0 712.9L602.0 712.9L604.0 712.9L606.0 712.8L608.0 712.8L610.0 712.8L612.0 712.7L614.0 712.7L616.0 712.7L618.0 712.6L620.0 712.6L622.0 712.6L624.0 712.6L626.0 712.5L628.0 712.5L630.0 712.5L632.0 712.4L634.0 712.4L636.0 712.4L638.0 712.3L640.0 712.3L642.0 712.3L644.0 712.2L646.0 712.2L648.0 712.2L650.0 712.1L652.0 712.1L654.0 712.1L656.0 712.0L658.0 712.0L660.0 712.0L662.0 711.9L664.0 711.9L666.0 711.9L668.0 711.8L670.0 711.8L672.0 711.7L674.0 711.7L676.0 711.7L678.0 711.6L680.0 711.6L682.0 711.5L684.0 711.5L686.0 711.4L688.0 711.4L690.0 711.3L692.0 711.3L694.0 711.2L696.0 711.1L698.0 711.1L700.0 711.0L702.0 710.9L704.0 710.9L706.0 710.8L708.0 710.7L710.0 710.6L712.0 710.5L714.0 710.5L716.0 710.4L718.0 710.3L720.0 710.2L722.0 710.1L724.0 709.9L726.0 709.8L728.0 709.7L730.0 709.6L732.0 709.5L734.0 709.3L736.0 709.2L738.0 709.0L740.0 708.9L742.0 708.8L744.0 708.6L746.0 708.4L748.0 708.3L750.0 708.1L752.0 708.0L754.0 707.8L756.0 707.6L758.0 707.4L760.0 707.3L762.0 707.1L764.0 706.9L766.0 706.7L768.0 706.5L770.0 706.2L772.0 706.0L774.0 705.8L776.0 705.5L778.0 705.2L780.0 705.0L782.0 704.6L784.0 704.3L786.0 704.0L788.0 703.6L790.0 703.2L792.0 702.8L794.0 702.3L796.0 701.8L798.0 701.3L800.0 700.8L802.0 700.2L804.0 699.5L806.0 698.8L808.0 698.1L810.0 697.3L812.0 696.5L814.0 695.6L816.0 694.6L818.0 693.6L820.0 692.5L822.0 691.3L824.0 690.1L826.0 688.7L828.0 687.2L830.0 685.7L832.0 684.0L834.0 682.1L836.0 680.2L838.0 678.0L840.0 675.7L842.0 673.2L844.0 670.5L846.0 667.6L848.0 664.4L850.0 661.0L852.0 657.3L854.0 653.3L856.0 649.0L858.0 644.3L860.0 639.3L862.0 633.8L864.0 628.0L866.0 621.7L868.0 615.0L870.0 607.8L872.0 600.2L874.0 592.1L876.0 583.7L878.0 574.9L880.0 565.8L882.0 556.6L884.0 547.4L886.0 538.3L888.0 529.6L890.0 521.4L892.0 514.1L894.0 507.8L896.0 502.9L898.0 499.5L900.0 497.9L902.0 498.1L904.0 500.2L906.0 504.4L908.0 510.3L910.0 517.9L912.0 526.8L914.0 536.8L916.0 547.5L918.0 558.6L920.0 570.0L922.0 581.4L924.0 592.6L926.0 603.5L928.0 614.0L930.0 624.0L932.0 633.5L934.0 642.5L936.0 650.9L938.0 658.7L940.0 666.1L942.0 672.9L944.0 679.3L946.0 685.2L948.0 690.7L950.0 695.8L952.0 700.5L954.0 704.9L956.0 709.0L958.0 712.8L960.0 716.3L962.0 719.6L964.0 722.6L966.0 725.5L968.0 728.1L970.0 730.5L972.0 732.8L974.0 735.0L976.0 736.9L978.0 738.8L980.0 740.5L982.0 742.1L984.0 743.6L986.0 745.1L988.0 746.4L990.0 747.7L992.0 748.8L994.0 750.0L996.0 751.0L998.0 752.0L1000.0 753.0L1002.0 753.9L1004.0 754.7L1006.0 755.5L1008.0 756.3L1010.0 757.0L1012.0 757.7L1014.0 758.4L1016.0 759.0L1018.0 759.6L1020.0 760.2L1022.0 760.7L1024.0 761.3L1026.0 761.8L1028.0 762.2L1030.0 762.7L1032.0 763.2L1034.0 763.6L1036.0 764.0L1038.0 764.4L1040.0 764.7L1042.0 765.1L1044.0 765.4L1046.0 765.8L1048.0 766.1L1050.0 766.4L1052.0 766.7L1054.0 767.0L1056.0 767.2L1058.0 767.5L1060.0 767.8L1062.0 768.0L1064.0 768.2L1066.0 768.5L1068.0 768.7L1070.0 768.9L1072.0 769.1L1074.0 769.3L1076.0 769.5L1078.0 769.7L1080.0 769.8L1082.0 770.0L1084.0 770.2L1086.0 770.3L1088.0 770.5L1090.0 770.6L1092.0 770.8L1094.0 770.9" stroke="#00a862"/>
<path d="M594.0 715.2L596.0 715.2L598.0 715.1L600.0 715.1L602.0 715.1L604.0 715.1L606.0 715.1L608.0 715.1L610.0 715.1L612.0 715.1L614.0 715.1L616.0 715.1L618.0 715.1L620.0 715.1L622.0 715.1L624.0 715.1L626.0 715.1L628.0 715.1L630.0 715.0L632.0 715.0L634.0 715.0L636.0 715.0L638.0 715.0L640.0 715.0L642.0 715.0L644.0 715.0L646.0 715.0L648.0 715.0L650.0 715.0L652.0 715.0L654.0 715.0L656.0 715.0L658.0 715.0L660.0 715.0L662.0 715.0L664.0 715.0L666.0 715.0L668.0 715.0L670.0 715.0L672.0 715.0L674.0 715.0L676.0 715.0L678.0 715.0L680.0 715.0L682.0 715.0L684.0 715.0L686.0 714.9L688.0 714.9L690.0 714.9L692.0 714.9L694.0 714.9L696.0 714.8L698.0 714.8L700.0 714.8L702.0 714.7L704.0 714.7L706.0 714.6L708.0 714.6L710.0 714.5L712.0 714.4L714.0 714.4L716.0 714.3L718.0 714.2L720.0 714.1L722.0 714.0L724.0 713.9L726.0 713.7L728.0 713.6L730.0 713.4L732.0 713.3L734.0 713.1L736.0 712.9L738.0 712.7L740.0 712.4L742.0 712.2L744.0 711.9L746.0 711.6L748.0 711.2L750.0 710.9L752.0 710.5L754.0 710.1L756.0 709.6L758.0 709.1L760.0 708.5L762.0 707.9L764.0 707.3L766.0 706.6L768.0 705.8L770.0 704.9L772.0 704.0L774.0 703.0L776.0 702.0L778.0 700.9L780.0 699.7L782.0 698.4L784.0 697.0L786.0 695.6L788.0 694.2L790.0 692.7L792.0 691.2L794.0 689.8L796.0 688.4L798.0 687.1L800.0 685.9L802.0 684.9L804.0 684.2L806.0 683.7L808.0 683.5L810.0 683.7L812.0 684.1L814.0 684.9L816.0 685.9L818.0 687.1L820.0 688.6L822.0 690.3L824.0 692.1L826.0 694.0L828.0 696.0L830.0 698.0L832.0 700.1L834.0 702.1L836.0 704.2L838.0 706.2L840.0 708.2L842.0 710.1L844.0 712.0L846.0 713.8L848.0 715.5L850.0 717.2L852.0 718.9L854.0 720.5L856.0 722.0L858.0 723.5L860.0 724.9L862.0 726.3L864.0 727.6L866.0 728.9L868.0 730.2L870.0 731.4L872.0 732.6L874.0 733.8L876.0 735.0L878.0 736.1L880.0 737.2L882.0 738.3L884.0 739.4L886.0 740.5L888.0 741.6L890.0 742.7L892.0 743.8L894.0 744.9L896.0 745.9L898.0 747.0L900.0 748.1L902.0 749.2L904.0 750.2L906.0 751.3L908.0 752.4L910.0 753.5L912.0 754.5L914.0 755.6L916.0 756.7L918.0 757.7L920.0 758.8L922.0 759.8L924.0 760.8L926.0 761.8L928.0 762.7L930.0 763.7L932.0 764.6L934.0 765.4L936.0 766.2L938.0 767.0L940.0 767.7L942.0 768.4L944.0 769.0L946.0 769.6L948.0 770.2L950.0 770.7L952.0 771.2L954.0 771.6L956.0 772.1L958.0 772.5L960.0 772.8L962.0 773.1L964.0 773.4L966.0 773.7L968.0 774.0L970.0 774.2L972.0 774.4L974.0 774.6L976.0 774.8L978.0 774.9L980.0 775.0L982.0 775.1L984.0 775.2L986.0 775.3L988.0 775.4L990.0 775.5L992.0 775.6L994.0 775.6L996.0 775.7L998.0 775.8L1000.0 775.8L1002.0 775.9L1004.0 775.9L1006.0 776.0L1008.0 776.0L1010.0 776.1L1012.0 776.1L1014.0 776.2L1016.0 776.2L1018.0 776.3L1020.0 776.3L1022.0 776.3L1024.0 776.4L1026.0 776.4L1028.0 776.5L1030.0 776.5L1032.0 776.5L1034.0 776.6L1036.0 776.6L1038.0 776.6L1040.0 776.6L1042.0 776.7L1044.0 776.7L1046.0 776.7L1048.0 776.8L1050.0 776.8L1052.0 776.8L1054.0 776.8L1056.0 776.8L1058.0 776.9L1060.0 776.9L1062.0 776.9L1064.0 776.9L1066.0 776.9L1068.0 777.0L1070.0 777.0L1072.0 777.0L1074.0 777.0L1076.0 777.0L1078.0 777.0L1080.0 777.0L1082.0 777.1L1084.0 777.1L1086.0 777.1L1088.0 777.1L1090.0 777.1L1092.0 777.1L1094.0 777.1" stroke="#c870e2"/>
<path d="M594.0 715.4L596.0 715.3L598.0 715.3L600.0 715.3L602.0 715.3L604.0 715.3L606.0 715.3L608.0 715.3L610.0 715.3L612.0 715.3L614.0 715.3L616.0 715.3L618.0 715.2L620.0 715.2L622.0 715.2L624.0 715.2L626.0 715.2L628.0 715.2L630.0 715.2L632.0 715.2L634.0 715.2L636.0 715.2L638.0 715.2L640.0 715.2L642.0 715.2L644.0 715.2L646.0 715.2L648.0 715.2L650.0 715.2L652.0 715.2L654.0 715.2L656.0 715.2L658.0 715.2L660.0 715.2L662.0 715.1L664.0 715.1L666.0 715.1L668.0 715.1L670.0 715.1L672.0 715.1L674.0 715.1L676.0 715.0L678.0 715.0L680.0 715.0L682.0 714.9L684.0 714.9L686.0 714.9L688.0 714.8L690.0 714.8L692.0 714.7L694.0 714.6L696.0 714.6L698.0 714.5L700.0 714.4L702.0 714.3L704.0 714.2L706.0 714.1L708.0 714.0L710.0 713.9L712.0 713.7L714.0 713.6L716.0 713.4L718.0 713.2L720.0 713.0L722.0 712.8L724.0 712.6L726.0 712.3L728.0 712.1L730.0 711.8L732.0 711.5L734.0 711.2L736.0 710.9L738.0 710.5L740.0 710.1L742.0 709.8L744.0 709.4L746.0 709.0L748.0 708.6L750.0 708.2L752.0 707.9L754.0 707.5L756.0 707.2L758.0 707.0L760.0 706.7L762.0 706.6L764.0 706.5L766.0 706.5L768.0 706.6L770.0 706.8L772.0 707.0L774.0 707.4L776.0 707.8L778.0 708.3L780.0 708.8L782.0 709.4L784.0 710.1L786.0 710.8L788.0 711.5L790.0 712.2L792.0 713.0L794.0 713.7L796.0 714.5L798.0 715.3L800.0 716.0L802.0 716.8L804.0 717.5L806.0 718.3L808.0 719.0L810.0 719.7L812.0 720.4L814.0 721.1L816.0 721.8L818.0 722.5L820.0 723.2L822.0 723.8L824.0 724.5L826.0 725.2L828.0 725.8L830.0 726.5L832.0 727.1L834.0 727.8L836.0 728.4L838.0 729.1L840.0 729.8L842.0 730.4L844.0 731.1L846.0 731.7L848.0 732.4L850.0 733.1L852.0 733.7L854.0 734.4L856.0 735.1L858.0 735.7L860.0 736.4L862.0 737.1L864.0 737.8L866.0 738.5L868.0 739.2L870.0 739.9L872.0 740.6L874.0 741.3L876.0 742.1L878.0 742.8L880.0 743.6L882.0 744.4L884.0 745.2L886.0 746.0L888.0 746.8L890.0 747.6L892.0 748.5L894.0 749.4L896.0 750.2L898.0 751.1L900.0 752.0L902.0 752.9L904.0 753.8L906.0 754.7L908.0 755.7L910.0 756.6L912.0 757.6L914.0 758.5L916.0 759.5L918.0 760.4L920.0 761.4L922.0 762.3L924.0 763.2L926.0 764.1L928.0 765.0L930.0 765.9L932.0 766.7L934.0 767.5L936.0 768.2L938.0 768.9L940.0 769.6L942.0 770.2L944.0 770.8L946.0 771.3L948.0 771.8L950.0 772.3L952.0 772.8L954.0 773.2L956.0 773.5L958.0 773.9L960.0 774.2L962.0 774.5L964.0 774.8L966.0 775.0L968.0 775.2L970.0 775.4L972.0 775.6L974.0 775.7L976.0 775.9L978.0 776.0L980.0 776.1L982.0 776.2L984.0 776.3L986.0 776.3L988.0 776.4L990.0 776.5L992.0 776.5L994.0 776.5L996.0 776.6L998.0 776.6L1000.0 776.7L1002.0 776.7L1004.0 776.7L1006.0 776.8L1008.0 776.8L1010.0 776.8L1012.0 776.9L1014.0 776.9L1016.0 776.9L1018.0 777.0L1020.0 777.0L1022.0 777.0L1024.0 777.0L1026.0 777.1L1028.0 777.1L1030.0 777.1L1032.0 777.1L1034.0 777.2L1036.0 777.2L1038.0 777.2L1040.0 777.2L1042.0 777.2L1044.0 777.2L1046.0 777.3L1048.0 777.3L1050.0 777.3L1052.0 777.3L1054.0 777.3L1056.0 777.3L1058.0 777.4L1060.0 777.4L1062.0 777.4L1064.0 777.4L1066.0 777.4L1068.0 777.4L1070.0 777.4L1072.0 777.4L1074.0 777.4L1076.0 777.4L1078.0 777.4L1080.0 777.4L1082.0 777.5L1084.0 777.5L1086.0 777.5L1088.0 777.5L1090.0 777.5L1092.0 777.5L1094.0 777.5" stroke="#e09a06"/>
<path d="M595.8 1097.5L600.8 1087.0L605.8 1111.2L610.0 1122.5L614.5 1102.5L618.2 1113.8L623.8 1065.5L628.2 1112.5L633.2 1105.0L637.0 1087.5L641.5 1106.2L645.8 1112.5L650.8 1092.5L655.8 1093.8L659.5 1075.0L664.0 1110.0L668.2 1074.5L671.5 1092.5L677.0 1080.0L686.2 1068.8L692.0 1080.0L695.8 1081.2L700.0 1090.0L705.8 1065.0L710.8 1053.8L714.5 1053.8L719.5 1035.0L727.0 1014.5L732.0 1030.0L737.0 1028.0L740.8 1032.0L744.5 990.0L749.0 981.2L754.0 1013.8L759.0 995.0L764.5 980.0L770.8 982.0L775.8 952.5L780.8 895.5L784.5 948.8L789.0 912.0L793.2 931.2L799.5 932.5L805.8 926.2L812.0 943.8L816.5 953.0L820.8 945.5L825.8 953.8L827.2 947.5L832.2 951.2L838.5 950.0L843.5 980.0L849.8 992.5L856.0 990.0L861.0 1011.2L866.0 1007.5L871.0 1032.5L874.8 1056.2L878.5 1028.0L884.0 1078.8L891.5 1042.5L897.2 1063.8L901.0 1049.5L906.0 1090.0L911.0 1085.0L922.2 1092.5L928.0 1062.5L932.2 1077.5L937.2 1123.8L941.0 1135.0L946.0 1121.2L951.0 1137.5L956.0 1150.0L961.0 1151.2L968.5 1131.2L977.2 1152.5L982.2 1148.8L987.2 1164.5L999.8 1133.8L1005.5 1147.5L1009.8 1141.2L1013.5 1156.2L1018.0 1136.2L1022.2 1146.2L1026.0 1167.5L1033.5 1166.2L1045.5 1167.5L1049.2 1155.0L1052.2 1168.8L1059.8 1176.2L1072.2 1133.8L1077.2 1137.5L1084.8 1162.5L1089.8 1152.5L1094.8 1147.5" stroke="#4d4d4d" stroke-width="3.5"/>
<path d="M594.0 1106.0L596.0 1106.0L598.0 1106.0L600.0 1106.1L602.0 1106.1L604.0 1106.1L606.0 1106.1L608.0 1106.1L610.0 1106.1L612.0 1106.2L614.0 1106.2L616.0 1106.2L618.0 1106.2L620.0 1106.3L622.0 1106.3L624.0 1106.4L626.0 1106.4L628.0 1106.4L630.0 1106.5L632.0 1106.5L634.0 1106.6L636.0 1106.6L638.0 1106.7L640.0 1106.7L642.0 1106.8L644.0 1106.9L646.0 1106.9L648.0 1107.0L650.0 1107.1L652.0 1107.1L654.0 1107.2L656.0 1107.3L658.0 1107.4L660.0 1107.5L662.0 1107.5L664.0 1107.6L666.0 1107.7L668.0 1107.8L670.0 1107.9L672.0 1108.0L674.0 1108.1L676.0 1108.2L678.0 1108.3L680.0 1108.4L682.0 1108.5L684.0 1108.6L686.0 1108.7L688.0 1108.8L690.0 1108.9L692.0 1109.1L694.0 1109.2L696.0 1109.3L698.0 1109.4L700.0 1109.6L702.0 1109.7L704.0 1109.9L706.0 1110.1L708.0 1110.2L710.0 1110.4L712.0 1110.6L714.0 1110.9L716.0 1111.1L718.0 1111.4L720.0 1111.7L722.0 1112.0L724.0 1112.3L726.0 1112.6L728.0 1113.0L730.0 1113.4L732.0 1113.8L734.0 1114.2L736.0 1114.6L738.0 1115.1L740.0 1115.5L742.0 1116.0L744.0 1116.5L746.0 1117.0L748.0 1117.5L750.0 1118.0L752.0 1118.6L754.0 1119.1L756.0 1119.7L758.0 1120.2L760.0 1120.8L762.0 1121.3L764.0 1121.9L766.0 1122.5L768.0 1123.1L770.0 1123.7L772.0 1124.3L774.0 1124.9L776.0 1125.5L778.0 1126.2L780.0 1126.8L782.0 1127.5L784.0 1128.1L786.0 1128.8L788.0 1129.5L790.0 1130.3L792.0 1131.0L794.0 1131.7L796.0 1132.5L798.0 1133.3L800.0 1134.0L802.0 1134.8L804.0 1135.6L806.0 1136.4L808.0 1137.2L810.0 1138.0L812.0 1138.8L814.0 1139.6L816.0 1140.4L818.0 1141.2L820.0 1142.0L822.0 1142.8L824.0 1143.5L826.0 1144.3L828.0 1145.0L830.0 1145.8L832.0 1146.5L834.0 1147.2L836.0 1147.9L838.0 1148.6L840.0 1149.2L842.0 1149.9L844.0 1150.5L846.0 1151.1L848.0 1151.8L850.0 1152.4L852.0 1153.0L854.0 1153.6L856.0 1154.2L858.0 1154.8L860.0 1155.3L862.0 1155.9L864.0 1156.5L866.0 1157.0L868.0 1157.6L870.0 1158.1L872.0 1158.6L874.0 1159.2L876.0 1159.7L878.0 1160.2L880.0 1160.7L882.0 1161.2L884.0 1161.6L886.0 1162.1L888.0 1162.6L890.0 1163.0L892.0 1163.4L894.0 1163.9L896.0 1164.3L898.0 1164.7L900.0 1165.0L902.0 1165.4L904.0 1165.8L906.0 1166.1L908.0 1166.5L910.0 1166.8L912.0 1167.1L914.0 1167.4L916.0 1167.7L918.0 1168.0L920.0 1168.3L922.0 1168.6L924.0 1168.8L926.0 1169.1L928.0 1169.4L930.0 1169.6L932.0 1169.9L934.0 1170.1L936.0 1170.4L938.0 1170.6L940.0 1170.8L942.0 1171.0L944.0 1171.2L946.0 1171.5L948.0 1171.7L950.0 1171.9L952.0 1172.1L954.0 1172.2L956.0 1172.4L958.0 1172.6L960.0 1172.8L962.0 1173.0L964.0 1173.1L966.0 1173.3L968.0 1173.4L970.0 1173.6L972.0 1173.7L974.0 1173.9L976.0 1174.0L978.0 1174.2L980.0 1174.3L982.0 1174.4L984.0 1174.6L986.0 1174.7L988.0 1174.8L990.0 1174.9L992.0 1175.1L994.0 1175.2L996.0 1175.3L998.0 1175.4L1000.0 1175.5L1002.0 1175.7L1004.0 1175.8L1006.0 1175.9L1008.0 1176.0L1010.0 1176.1L1012.0 1176.2L1014.0 1176.3L1016.0 1176.4L1018.0 1176.5L1020.0 1176.6L1022.0 1176.7L1024.0 1176.8L1026.0 1176.9L1028.0 1177.0L1030.0 1177.0L1032.0 1177.1L1034.0 1177.2L1036.0 1177.2L1038.0 1177.3L1040.0 1177.3L1042.0 1177.4L1044.0 1177.4L1046.0 1177.5L1048.0 1177.5L1050.0 1177.5L1052.0 1177.6L1054.0 1177.6L1056.0 1177.6L1058.0 1177.6" stroke="#0d6ee0"/>
<path d="M594.0 1095.5L596.0 1095.3L598.0 1095.1L600.0 1094.9L602.0 1094.7L604.0 1094.5L606.0 1094.3L608.0 1094.1L610.0 1093.8L612.0 1093.6L614.0 1093.4L616.0 1093.1L618.0 1092.9L620.0 1092.6L622.0 1092.4L624.0 1092.1L626.0 1091.8L628.0 1091.5L630.0 1091.2L632.0 1090.9L634.0 1090.6L636.0 1090.3L638.0 1090.0L640.0 1089.6L642.0 1089.3L644.0 1088.9L646.0 1088.5L648.0 1088.1L650.0 1087.7L652.0 1087.2L654.0 1086.7L656.0 1086.3L658.0 1085.8L660.0 1085.2L662.0 1084.7L664.0 1084.1L666.0 1083.5L668.0 1082.8L670.0 1082.2L672.0 1081.4L674.0 1080.7L676.0 1079.9L678.0 1079.1L680.0 1078.2L682.0 1077.3L684.0 1076.3L686.0 1075.2L688.0 1074.1L690.0 1073.0L692.0 1071.8L694.0 1070.5L696.0 1069.1L698.0 1067.7L700.0 1066.2L702.0 1064.6L704.0 1062.9L706.0 1061.2L708.0 1059.3L710.0 1057.4L712.0 1055.3L714.0 1053.2L716.0 1050.9L718.0 1048.5L720.0 1046.0L722.0 1043.4L724.0 1040.7L726.0 1037.9L728.0 1034.9L730.0 1031.7L732.0 1028.5L734.0 1025.1L736.0 1021.6L738.0 1017.9L740.0 1014.1L742.0 1010.1L744.0 1006.1L746.0 1001.9L748.0 997.6L750.0 993.2L752.0 988.8L754.0 984.3L756.0 979.8L758.0 975.3L760.0 970.8L762.0 966.4L764.0 962.0L766.0 957.8L768.0 953.7L770.0 949.9L772.0 946.2L774.0 942.8L776.0 939.6L778.0 936.6L780.0 934.0L782.0 931.8L784.0 929.8L786.0 928.2L788.0 926.8L790.0 925.7L792.0 924.9L794.0 924.2L796.0 923.8L798.0 923.6L800.0 923.6L802.0 923.9L804.0 924.3L806.0 925.0L808.0 926.0L810.0 927.2L812.0 928.8L814.0 930.6L816.0 932.9L818.0 935.4L820.0 938.4L822.0 941.6L824.0 945.2L826.0 949.0L828.0 953.2L830.0 957.6L832.0 962.1L834.0 966.9L836.0 971.8L838.0 976.8L840.0 981.9L842.0 987.0L844.0 992.1L846.0 997.1L848.0 1002.1L850.0 1007.0L852.0 1011.7L854.0 1016.3L856.0 1020.8L858.0 1025.0L860.0 1029.0L862.0 1032.8L864.0 1036.3L866.0 1039.6L868.0 1042.6L870.0 1045.4L872.0 1047.8L874.0 1050.0L876.0 1051.9L878.0 1053.5L880.0 1054.8L882.0 1055.8L884.0 1056.7L886.0 1057.3L888.0 1057.7L890.0 1058.1L892.0 1058.4L894.0 1058.7L896.0 1059.1L898.0 1059.8L900.0 1060.7L902.0 1061.9L904.0 1063.5L906.0 1065.6L908.0 1068.1L910.0 1070.9L912.0 1074.1L914.0 1077.6L916.0 1081.3L918.0 1085.2L920.0 1089.1L922.0 1093.0L924.0 1096.9L926.0 1100.7L928.0 1104.4L930.0 1107.9L932.0 1111.2L934.0 1114.4L936.0 1117.4L938.0 1120.3L940.0 1123.0L942.0 1125.5L944.0 1127.8L946.0 1130.0L948.0 1132.1L950.0 1134.1L952.0 1135.9L954.0 1137.6L956.0 1139.2L958.0 1140.8L960.0 1142.2L962.0 1143.5L964.0 1144.8L966.0 1146.0L968.0 1147.2L970.0 1148.2L972.0 1149.3L974.0 1150.2L976.0 1151.1L978.0 1152.0L980.0 1152.9L982.0 1153.7L984.0 1154.4L986.0 1155.2L988.0 1155.9L990.0 1156.5L992.0 1157.2L994.0 1157.8L996.0 1158.4L998.0 1159.0L1000.0 1159.5L1002.0 1160.0L1004.0 1160.6L1006.0 1161.1L1008.0 1161.5L1010.0 1162.0L1012.0 1162.4L1014.0 1162.9L1016.0 1163.3L1018.0 1163.7L1020.0 1164.1L1022.0 1164.4L1024.0 1164.8L1026.0 1165.1L1028.0 1165.5L1030.0 1165.8L1032.0 1166.1L1034.0 1166.4L1036.0 1166.7L1038.0 1166.9L1040.0 1167.2L1042.0 1167.5L1044.0 1167.7L1046.0 1167.9L1048.0 1168.1L1050.0 1168.4L1052.0 1168.6L1054.0 1168.7L1056.0 1168.9L1058.0 1169.1" stroke="#fa3c3c"/>
<path d="M594.0 1105.4L596.0 1105.4L598.0 1105.4L600.0 1105.4L602.0 1105.4L604.0 1105.4L606.0 1105.4L608.0 1105.4L610.0 1105.4L612.0 1105.5L614.0 1105.5L616.0 1105.5L618.0 1105.5L620.0 1105.5L622.0 1105.6L624.0 1105.6L626.0 1105.6L628.0 1105.7L630.0 1105.7L632.0 1105.7L634.0 1105.8L636.0 1105.8L638.0 1105.9L640.0 1105.9L642.0 1105.9L644.0 1106.0L646.0 1106.0L648.0 1106.1L650.0 1106.2L652.0 1106.2L654.0 1106.3L656.0 1106.3L658.0 1106.4L660.0 1106.5L662.0 1106.5L664.0 1106.6L666.0 1106.7L668.0 1106.7L670.0 1106.8L672.0 1106.9L674.0 1107.0L676.0 1107.0L678.0 1107.1L680.0 1107.2L682.0 1107.3L684.0 1107.4L686.0 1107.5L688.0 1107.6L690.0 1107.6L692.0 1107.7L694.0 1107.8L696.0 1107.9L698.0 1108.1L700.0 1108.2L702.0 1108.3L704.0 1108.4L706.0 1108.6L708.0 1108.7L710.0 1108.9L712.0 1109.1L714.0 1109.3L716.0 1109.5L718.0 1109.7L720.0 1109.9L722.0 1110.2L724.0 1110.5L726.0 1110.8L728.0 1111.1L730.0 1111.5L732.0 1111.8L734.0 1112.2L736.0 1112.6L738.0 1113.0L740.0 1113.4L742.0 1113.8L744.0 1114.2L746.0 1114.7L748.0 1115.1L750.0 1115.6L752.0 1116.1L754.0 1116.6L756.0 1117.0L758.0 1117.5L760.0 1118.0L762.0 1118.5L764.0 1119.0L766.0 1119.5L768.0 1120.0L770.0 1120.5L772.0 1121.0L774.0 1121.5L776.0 1122.1L778.0 1122.6L780.0 1123.1L782.0 1123.7L784.0 1124.2L786.0 1124.8L788.0 1125.4L790.0 1126.0L792.0 1126.6L794.0 1127.2L796.0 1127.8L798.0 1128.4L800.0 1129.0L802.0 1129.6L804.0 1130.2L806.0 1130.8L808.0 1131.3L810.0 1131.9L812.0 1132.5L814.0 1133.0L816.0 1133.6L818.0 1134.1L820.0 1134.5L822.0 1135.0L824.0 1135.4L826.0 1135.8L828.0 1136.2L830.0 1136.5L832.0 1136.8L834.0 1137.0L836.0 1137.2L838.0 1137.4L840.0 1137.4L842.0 1137.5L844.0 1137.5L846.0 1137.4L848.0 1137.3L850.0 1137.1L852.0 1136.8L854.0 1136.4L856.0 1136.0L858.0 1135.5L860.0 1134.9L862.0 1134.1L864.0 1133.3L866.0 1132.4L868.0 1131.3L870.0 1130.1L872.0 1128.8L874.0 1127.3L876.0 1125.7L878.0 1124.0L880.0 1122.1L882.0 1120.1L884.0 1118.0L886.0 1115.9L888.0 1113.7L890.0 1111.5L892.0 1109.5L894.0 1107.5L896.0 1105.8L898.0 1104.4L900.0 1103.4L902.0 1102.8L904.0 1102.8L906.0 1103.2L908.0 1104.1L910.0 1105.5L912.0 1107.4L914.0 1109.6L916.0 1112.1L918.0 1114.8L920.0 1117.6L922.0 1120.5L924.0 1123.4L926.0 1126.3L928.0 1129.1L930.0 1131.8L932.0 1134.4L934.0 1136.8L936.0 1139.1L938.0 1141.3L940.0 1143.4L942.0 1145.3L944.0 1147.1L946.0 1148.7L948.0 1150.3L950.0 1151.8L952.0 1153.1L954.0 1154.4L956.0 1155.6L958.0 1156.7L960.0 1157.7L962.0 1158.7L964.0 1159.6L966.0 1160.4L968.0 1161.2L970.0 1162.0L972.0 1162.7L974.0 1163.4L976.0 1164.0L978.0 1164.6L980.0 1165.2L982.0 1165.7L984.0 1166.2L986.0 1166.7L988.0 1167.1L990.0 1167.6L992.0 1168.0L994.0 1168.4L996.0 1168.8L998.0 1169.2L1000.0 1169.5L1002.0 1169.9L1004.0 1170.2L1006.0 1170.5L1008.0 1170.8L1010.0 1171.1L1012.0 1171.4L1014.0 1171.6L1016.0 1171.9L1018.0 1172.1L1020.0 1172.4L1022.0 1172.6L1024.0 1172.8L1026.0 1173.0L1028.0 1173.2L1030.0 1173.4L1032.0 1173.6L1034.0 1173.7L1036.0 1173.9L1038.0 1174.1L1040.0 1174.2L1042.0 1174.3L1044.0 1174.5L1046.0 1174.6L1048.0 1174.7L1050.0 1174.8L1052.0 1174.9L1054.0 1175.0L1056.0 1175.1L1058.0 1175.2" stroke="#00a862"/>
<path d="M594.0 1102.1L596.0 1102.0L598.0 1101.9L600.0 1101.9L602.0 1101.8L604.0 1101.8L606.0 1101.7L608.0 1101.6L610.0 1101.6L612.0 1101.5L614.0 1101.5L616.0 1101.4L618.0 1101.3L620.0 1101.3L622.0 1101.2L624.0 1101.2L626.0 1101.1L628.0 1101.0L630.0 1101.0L632.0 1100.9L634.0 1100.8L636.0 1100.8L638.0 1100.7L640.0 1100.6L642.0 1100.6L644.0 1100.5L646.0 1100.4L648.0 1100.4L650.0 1100.3L652.0 1100.2L654.0 1100.1L656.0 1100.0L658.0 1099.9L660.0 1099.8L662.0 1099.7L664.0 1099.6L666.0 1099.5L668.0 1099.4L670.0 1099.3L672.0 1099.2L674.0 1099.0L676.0 1098.9L678.0 1098.8L680.0 1098.6L682.0 1098.4L684.0 1098.3L686.0 1098.1L688.0 1097.9L690.0 1097.7L692.0 1097.5L694.0 1097.2L696.0 1097.0L698.0 1096.7L700.0 1096.4L702.0 1096.1L704.0 1095.8L706.0 1095.5L708.0 1095.1L710.0 1094.8L712.0 1094.4L714.0 1094.0L716.0 1093.6L718.0 1093.1L720.0 1092.6L722.0 1092.1L724.0 1091.6L726.0 1091.0L728.0 1090.4L730.0 1089.7L732.0 1089.0L734.0 1088.2L736.0 1087.4L738.0 1086.5L740.0 1085.5L742.0 1084.4L744.0 1083.3L746.0 1082.1L748.0 1080.7L750.0 1079.3L752.0 1077.8L754.0 1076.2L756.0 1074.5L758.0 1072.6L760.0 1070.7L762.0 1068.6L764.0 1066.4L766.0 1064.1L768.0 1061.6L770.0 1059.1L772.0 1056.4L774.0 1053.6L776.0 1050.7L778.0 1047.7L780.0 1044.7L782.0 1041.5L784.0 1038.3L786.0 1035.0L788.0 1031.7L790.0 1028.4L792.0 1025.2L794.0 1021.9L796.0 1018.7L798.0 1015.7L800.0 1012.7L802.0 1010.0L804.0 1007.5L806.0 1005.2L808.0 1003.2L810.0 1001.6L812.0 1000.4L814.0 999.6L816.0 999.2L818.0 999.3L820.0 999.9L822.0 1000.9L824.0 1002.4L826.0 1004.3L828.0 1006.6L830.0 1009.2L832.0 1012.2L834.0 1015.5L836.0 1019.1L838.0 1022.9L840.0 1026.9L842.0 1031.1L844.0 1035.4L846.0 1039.8L848.0 1044.2L850.0 1048.6L852.0 1053.1L854.0 1057.5L856.0 1061.9L858.0 1066.3L860.0 1070.6L862.0 1074.8L864.0 1078.9L866.0 1082.9L868.0 1086.8L870.0 1090.6L872.0 1094.2L874.0 1097.8L876.0 1101.2L878.0 1104.5L880.0 1107.6L882.0 1110.7L884.0 1113.6L886.0 1116.4L888.0 1119.1L890.0 1121.6L892.0 1124.0L894.0 1126.3L896.0 1128.5L898.0 1130.6L900.0 1132.6L902.0 1134.5L904.0 1136.3L906.0 1138.0L908.0 1139.6L910.0 1141.1L912.0 1142.6L914.0 1143.9L916.0 1145.2L918.0 1146.5L920.0 1147.6L922.0 1148.7L924.0 1149.8L926.0 1150.8L928.0 1151.7L930.0 1152.6L932.0 1153.5L934.0 1154.3L936.0 1155.1L938.0 1155.9L940.0 1156.6L942.0 1157.2L944.0 1157.9L946.0 1158.5L948.0 1159.1L950.0 1159.7L952.0 1160.2L954.0 1160.8L956.0 1161.3L958.0 1161.8L960.0 1162.2L962.0 1162.7L964.0 1163.1L966.0 1163.5L968.0 1163.9L970.0 1164.3L972.0 1164.7L974.0 1165.1L976.0 1165.4L978.0 1165.7L980.0 1166.1L982.0 1166.4L984.0 1166.7L986.0 1167.0L988.0 1167.3L990.0 1167.6L992.0 1167.9L994.0 1168.2L996.0 1168.4L998.0 1168.7L1000.0 1169.0L1002.0 1169.2L1004.0 1169.4L1006.0 1169.7L1008.0 1169.9L1010.0 1170.1L1012.0 1170.4L1014.0 1170.6L1016.0 1170.8L1018.0 1171.0L1020.0 1171.2L1022.0 1171.4L1024.0 1171.6L1026.0 1171.8L1028.0 1171.9L1030.0 1172.1L1032.0 1172.3L1034.0 1172.4L1036.0 1172.6L1038.0 1172.7L1040.0 1172.8L1042.0 1173.0L1044.0 1173.1L1046.0 1173.2L1048.0 1173.3L1050.0 1173.4L1052.0 1173.5L1054.0 1173.6L1056.0 1173.7L1058.0 1173.8" stroke="#c870e2"/>
<path d="M594.0 1100.1L596.0 1100.0L598.0 1099.8L600.0 1099.7L602.0 1099.6L604.0 1099.5L606.0 1099.3L608.0 1099.2L610.0 1099.1L612.0 1098.9L614.0 1098.8L616.0 1098.7L618.0 1098.5L620.0 1098.4L622.0 1098.2L624.0 1098.1L626.0 1097.9L628.0 1097.7L630.0 1097.5L632.0 1097.4L634.0 1097.2L636.0 1097.0L638.0 1096.8L640.0 1096.6L642.0 1096.4L644.0 1096.1L646.0 1095.9L648.0 1095.6L650.0 1095.4L652.0 1095.1L654.0 1094.8L656.0 1094.5L658.0 1094.2L660.0 1093.8L662.0 1093.5L664.0 1093.1L666.0 1092.7L668.0 1092.3L670.0 1091.8L672.0 1091.3L674.0 1090.8L676.0 1090.3L678.0 1089.7L680.0 1089.1L682.0 1088.5L684.0 1087.8L686.0 1087.1L688.0 1086.3L690.0 1085.5L692.0 1084.7L694.0 1083.8L696.0 1082.8L698.0 1081.8L700.0 1080.8L702.0 1079.6L704.0 1078.5L706.0 1077.2L708.0 1075.9L710.0 1074.6L712.0 1073.1L714.0 1071.7L716.0 1070.1L718.0 1068.5L720.0 1066.8L722.0 1065.1L724.0 1063.2L726.0 1061.3L728.0 1059.4L730.0 1057.4L732.0 1055.3L734.0 1053.1L736.0 1050.9L738.0 1048.6L740.0 1046.3L742.0 1043.9L744.0 1041.5L746.0 1039.1L748.0 1036.7L750.0 1034.4L752.0 1032.0L754.0 1029.8L756.0 1027.6L758.0 1025.6L760.0 1023.7L762.0 1022.0L764.0 1020.5L766.0 1019.3L768.0 1018.3L770.0 1017.7L772.0 1017.4L774.0 1017.4L776.0 1017.8L778.0 1018.6L780.0 1019.9L782.0 1021.5L784.0 1023.6L786.0 1026.0L788.0 1028.8L790.0 1031.8L792.0 1035.1L794.0 1038.6L796.0 1042.3L798.0 1046.1L800.0 1050.0L802.0 1054.0L804.0 1057.9L806.0 1061.9L808.0 1065.8L810.0 1069.7L812.0 1073.5L814.0 1077.3L816.0 1080.9L818.0 1084.4L820.0 1087.9L822.0 1091.2L824.0 1094.4L826.0 1097.5L828.0 1100.5L830.0 1103.3L832.0 1106.1L834.0 1108.7L836.0 1111.2L838.0 1113.6L840.0 1115.9L842.0 1118.2L844.0 1120.3L846.0 1122.3L848.0 1124.2L850.0 1126.1L852.0 1127.8L854.0 1129.5L856.0 1131.2L858.0 1132.7L860.0 1134.2L862.0 1135.7L864.0 1137.1L866.0 1138.4L868.0 1139.7L870.0 1140.9L872.0 1142.1L874.0 1143.2L876.0 1144.3L878.0 1145.4L880.0 1146.4L882.0 1147.4L884.0 1148.3L886.0 1149.2L888.0 1150.1L890.0 1151.0L892.0 1151.8L894.0 1152.5L896.0 1153.3L898.0 1154.0L900.0 1154.7L902.0 1155.4L904.0 1156.0L906.0 1156.7L908.0 1157.3L910.0 1157.8L912.0 1158.4L914.0 1158.9L916.0 1159.4L918.0 1160.0L920.0 1160.4L922.0 1160.9L924.0 1161.4L926.0 1161.8L928.0 1162.3L930.0 1162.7L932.0 1163.1L934.0 1163.5L936.0 1163.9L938.0 1164.3L940.0 1164.6L942.0 1165.0L944.0 1165.4L946.0 1165.7L948.0 1166.0L950.0 1166.3L952.0 1166.7L954.0 1167.0L956.0 1167.3L958.0 1167.5L960.0 1167.8L962.0 1168.1L964.0 1168.4L966.0 1168.6L968.0 1168.9L970.0 1169.1L972.0 1169.3L974.0 1169.6L976.0 1169.8L978.0 1170.0L980.0 1170.2L982.0 1170.4L984.0 1170.6L986.0 1170.8L988.0 1171.0L990.0 1171.2L992.0 1171.4L994.0 1171.6L996.0 1171.8L998.0 1172.0L1000.0 1172.1L1002.0 1172.3L1004.0 1172.5L1006.0 1172.7L1008.0 1172.8L1010.0 1173.0L1012.0 1173.1L1014.0 1173.3L1016.0 1173.4L1018.0 1173.6L1020.0 1173.7L1022.0 1173.9L1024.0 1174.0L1026.0 1174.1L1028.0 1174.2L1030.0 1174.4L1032.0 1174.5L1034.0 1174.6L1036.0 1174.7L1038.0 1174.8L1040.0 1174.9L1042.0 1175.0L1044.0 1175.0L1046.0 1175.1L1048.0 1175.2L1050.0 1175.2L1052.0 1175.3L1054.0 1175.4L1056.0 1175.4L1058.0 1175.5" stroke="#e09a06"/>
</g>
<g clip-path="url(#c2)" fill="none" stroke-width="4" stroke-linejoin="round" stroke-linecap="round">
<path d="M1092.0 329.8L1096.5 326.9L1100.9 327.4L1105.4 327.7L1109.9 326.0L1114.4 326.9L1118.8 326.7L1123.3 324.3L1127.8 327.7L1132.3 327.0L1136.7 325.2L1141.2 325.6L1145.7 326.3L1150.2 325.1L1154.6 324.9L1159.1 323.1L1163.6 325.5L1168.1 324.7L1172.5 324.6L1177.0 321.9L1181.5 325.8L1186.0 323.5L1190.4 322.4L1194.9 325.1L1199.4 321.9L1203.9 319.6L1208.3 320.4L1212.8 317.3L1217.3 320.9L1221.8 318.1L1226.2 316.8L1230.7 318.1L1235.2 313.4L1239.7 315.0L1244.1 310.3L1248.6 310.7L1253.1 308.4L1258.0 310.0L1263.0 306.2L1268.0 300.0L1273.0 296.2L1278.0 293.8L1283.0 294.5L1288.0 290.0L1293.0 286.2L1298.0 286.2L1302.5 280.0L1306.8 279.5L1311.8 273.8L1316.8 268.8L1320.5 262.5L1324.2 251.2L1329.2 250.0L1334.2 242.5L1338.5 235.0L1343.0 233.8L1346.8 218.8L1351.8 212.5L1356.0 192.0L1361.0 191.2L1365.0 172.5L1369.2 160.0L1373.0 145.0L1377.5 127.5L1381.8 110.0L1386.0 96.2L1390.5 86.2L1395.5 82.5L1400.5 71.2L1405.0 87.5L1409.2 86.2L1413.0 92.5L1418.0 105.0L1421.8 130.0L1425.5 150.0L1429.2 172.5L1433.0 190.0L1436.8 215.0L1440.5 237.5L1444.2 257.5L1448.0 277.5L1451.8 297.5L1455.5 317.5L1459.2 330.0L1463.0 340.0L1468.0 357.5L1473.0 361.2L1478.0 368.8L1484.2 378.0L1490.5 374.5L1495.5 378.0L1500.5 382.5L1505.5 380.0L1510.5 379.5L1518.0 386.2L1523.0 382.5L1526.0 381.2L1532.0 383.3L1540.0 385.0L1552.0 386.7L1558.0 385.0L1565.3 388.3L1575.0 386.0L1584.7 386.7L1588.7 387.7" stroke="#4d4d4d" stroke-width="3.5"/>
<path d="M1100.3 332.3L1102.3 332.3L1104.3 332.3L1106.3 332.3L1108.3 332.3L1110.3 332.3L1112.3 332.3L1114.3 332.3L1116.3 332.3L1118.3 332.4L1120.3 332.4L1122.3 332.4L1124.3 332.4L1126.3 332.4L1128.3 332.4L1130.3 332.4L1132.3 332.4L1134.3 332.5L1136.3 332.5L1138.3 332.5L1140.3 332.5L1142.3 332.5L1144.3 332.5L1146.3 332.6L1148.3 332.6L1150.3 332.6L1152.3 332.6L1154.3 332.6L1156.3 332.7L1158.3 332.7L1160.3 332.7L1162.3 332.7L1164.3 332.8L1166.3 332.8L1168.3 332.8L1170.3 332.9L1172.3 332.9L1174.3 332.9L1176.3 333.0L1178.3 333.0L1180.3 333.0L1182.3 333.1L1184.3 333.1L1186.3 333.1L1188.3 333.2L1190.3 333.2L1192.3 333.2L1194.3 333.3L1196.3 333.3L1198.3 333.4L1200.3 333.4L1202.3 333.4L1204.3 333.5L1206.3 333.5L1208.3 333.6L1210.3 333.6L1212.3 333.7L1214.3 333.7L1216.3 333.7L1218.3 333.8L1220.3 333.8L1222.3 333.9L1224.3 333.9L1226.3 334.0L1228.3 334.1L1230.3 334.1L1232.3 334.2L1234.3 334.2L1236.3 334.3L1238.3 334.4L1240.3 334.5L1242.3 334.5L1244.3 334.6L1246.3 334.7L1248.3 334.8L1250.3 334.9L1252.3 335.0L1254.3 335.1L1256.3 335.3L1258.3 335.4L1260.3 335.5L1262.3 335.7L1264.3 335.8L1266.3 336.0L1268.3 336.2L1270.3 336.3L1272.3 336.5L1274.3 336.7L1276.3 336.9L1278.3 337.1L1280.3 337.3L1282.3 337.5L1284.3 337.7L1286.3 337.9L1288.3 338.1L1290.3 338.3L1292.3 338.5L1294.3 338.8L1296.3 339.0L1298.3 339.2L1300.3 339.5L1302.3 339.7L1304.3 340.0L1306.3 340.2L1308.3 340.5L1310.3 340.7L1312.3 341.0L1314.3 341.2L1316.3 341.5L1318.3 341.8L1320.3 342.1L1322.3 342.4L1324.3 342.7L1326.3 343.0L1328.3 343.3L1330.3 343.7L1332.3 344.0L1334.3 344.4L1336.3 344.7L1338.3 345.1L1340.3 345.5L1342.3 345.8L1344.3 346.2L1346.3 346.7L1348.3 347.1L1350.3 347.5L1352.3 348.0L1354.3 348.4L1356.3 348.9L1358.3 349.4L1360.3 349.9L1362.3 350.4L1364.3 351.0L1366.3 351.6L1368.3 352.2L1370.3 352.8L1372.3 353.5L1374.3 354.2L1376.3 354.9L1378.3 355.7L1380.3 356.5L1382.3 357.3L1384.3 358.2L1386.3 359.1L1388.3 360.0L1390.3 360.9L1392.3 361.9L1394.3 362.8L1396.3 363.8L1398.3 364.8L1400.3 365.8L1402.3 366.8L1404.3 367.8L1406.3 368.7L1408.3 369.7L1410.3 370.7L1412.3 371.7L1414.3 372.6L1416.3 373.6L1418.3 374.5L1420.3 375.4L1422.3 376.3L1424.3 377.2L1426.3 378.1L1428.3 378.9L1430.3 379.7L1432.3 380.4L1434.3 381.1L1436.3 381.8L1438.3 382.5L1440.3 383.1L1442.3 383.7L1444.3 384.2L1446.3 384.7L1448.3 385.2L1450.3 385.7L1452.3 386.1L1454.3 386.5L1456.3 386.9L1458.3 387.2L1460.3 387.6L1462.3 387.8L1464.3 388.1L1466.3 388.4L1468.3 388.6L1470.3 388.8L1472.3 389.0L1474.3 389.1L1476.3 389.3L1478.3 389.4L1480.3 389.5L1482.3 389.6L1484.3 389.7L1486.3 389.8L1488.3 389.9L1490.3 390.0L1492.3 390.1L1494.3 390.1L1496.3 390.2L1498.3 390.3L1500.3 390.4L1502.3 390.4L1504.3 390.5L1506.3 390.5L1508.3 390.6L1510.3 390.7L1512.3 390.7L1514.3 390.8L1516.3 390.8L1518.3 390.9L1520.3 390.9L1522.3 391.0L1524.3 391.0L1526.3 391.1L1528.3 391.1L1530.3 391.1L1532.3 391.2L1534.3 391.2L1536.3 391.3L1538.3 391.3L1540.3 391.3L1542.3 391.4L1544.3 391.4L1546.3 391.4L1548.3 391.4L1550.3 391.5L1552.3 391.5L1554.3 391.5L1556.3 391.5L1558.3 391.6L1560.3 391.6L1562.3 391.6L1564.3 391.6L1566.3 391.6L1568.3 391.6L1570.3 391.6L1572.3 391.6L1574.3 391.7L1576.3 391.7L1578.3 391.7L1580.3 391.7L1582.3 391.7L1584.3 391.7L1586.3 391.7L1588.3 391.7" stroke="#0d6ee0"/>
<path d="M1100.3 328.1L1102.3 328.0L1104.3 328.0L1106.3 327.9L1108.3 327.8L1110.3 327.8L1112.3 327.7L1114.3 327.6L1116.3 327.6L1118.3 327.5L1120.3 327.4L1122.3 327.4L1124.3 327.3L1126.3 327.2L1128.3 327.1L1130.3 327.1L1132.3 327.0L1134.3 326.9L1136.3 326.8L1138.3 326.8L1140.3 326.7L1142.3 326.6L1144.3 326.5L1146.3 326.4L1148.3 326.3L1150.3 326.2L1152.3 326.1L1154.3 326.0L1156.3 325.9L1158.3 325.8L1160.3 325.7L1162.3 325.6L1164.3 325.5L1166.3 325.4L1168.3 325.3L1170.3 325.1L1172.3 325.0L1174.3 324.9L1176.3 324.7L1178.3 324.6L1180.3 324.4L1182.3 324.3L1184.3 324.1L1186.3 323.9L1188.3 323.8L1190.3 323.6L1192.3 323.4L1194.3 323.2L1196.3 322.9L1198.3 322.7L1200.3 322.5L1202.3 322.2L1204.3 321.9L1206.3 321.7L1208.3 321.4L1210.3 321.0L1212.3 320.7L1214.3 320.3L1216.3 319.9L1218.3 319.5L1220.3 319.1L1222.3 318.6L1224.3 318.1L1226.3 317.6L1228.3 317.1L1230.3 316.5L1232.3 315.9L1234.3 315.2L1236.3 314.5L1238.3 313.8L1240.3 313.0L1242.3 312.2L1244.3 311.3L1246.3 310.4L1248.3 309.5L1250.3 308.5L1252.3 307.4L1254.3 306.3L1256.3 305.2L1258.3 304.0L1260.3 302.7L1262.3 301.4L1264.3 300.1L1266.3 298.7L1268.3 297.3L1270.3 295.8L1272.3 294.3L1274.3 292.7L1276.3 291.1L1278.3 289.5L1280.3 287.9L1282.3 286.2L1284.3 284.6L1286.3 282.9L1288.3 281.3L1290.3 279.7L1292.3 278.1L1294.3 276.6L1296.3 275.1L1298.3 273.8L1300.3 272.5L1302.3 271.3L1304.3 270.2L1306.3 269.3L1308.3 268.4L1310.3 267.6L1312.3 266.8L1314.3 266.1L1316.3 265.5L1318.3 264.8L1320.3 264.2L1322.3 263.6L1324.3 262.9L1326.3 262.2L1328.3 261.4L1330.3 260.5L1332.3 259.5L1334.3 258.4L1336.3 257.1L1338.3 255.6L1340.3 253.8L1342.3 251.9L1344.3 249.6L1346.3 247.1L1348.3 244.2L1350.3 241.0L1352.3 237.4L1354.3 233.3L1356.3 228.8L1358.3 223.8L1360.3 218.3L1362.3 212.2L1364.3 205.5L1366.3 198.2L1368.3 190.2L1370.3 181.6L1372.3 172.3L1374.3 162.4L1376.3 152.0L1378.3 141.0L1380.3 129.7L1382.3 118.2L1384.3 106.8L1386.3 95.8L1388.3 85.4L1390.3 76.0L1392.3 68.1L1394.3 62.1L1396.3 58.1L1398.3 56.6L1400.3 57.6L1402.3 60.9L1404.3 66.3L1406.3 73.5L1408.3 82.5L1410.3 92.9L1412.3 104.3L1414.3 116.6L1416.3 129.3L1418.3 142.2L1420.3 155.2L1422.3 167.9L1424.3 180.4L1426.3 192.3L1428.3 203.8L1430.3 214.8L1432.3 225.1L1434.3 234.9L1436.3 244.0L1438.3 252.6L1440.3 260.7L1442.3 268.2L1444.3 275.2L1446.3 281.7L1448.3 287.8L1450.3 293.4L1452.3 298.7L1454.3 303.7L1456.3 308.2L1458.3 312.5L1460.3 316.5L1462.3 320.2L1464.3 323.7L1466.3 327.0L1468.3 330.0L1470.3 332.8L1472.3 335.5L1474.3 338.0L1476.3 340.3L1478.3 342.5L1480.3 344.5L1482.3 346.4L1484.3 348.2L1486.3 350.0L1488.3 351.6L1490.3 353.1L1492.3 354.5L1494.3 355.9L1496.3 357.2L1498.3 358.4L1500.3 359.6L1502.3 360.7L1504.3 361.8L1506.3 362.8L1508.3 363.8L1510.3 364.7L1512.3 365.6L1514.3 366.4L1516.3 367.2L1518.3 368.0L1520.3 368.7L1522.3 369.4L1524.3 370.1L1526.3 370.7L1528.3 371.3L1530.3 371.9L1532.3 372.5L1534.3 373.0L1536.3 373.6L1538.3 374.1L1540.3 374.5L1542.3 375.0L1544.3 375.5L1546.3 375.9L1548.3 376.3L1550.3 376.7L1552.3 377.1L1554.3 377.4L1556.3 377.8L1558.3 378.1L1560.3 378.5L1562.3 378.8L1564.3 379.1L1566.3 379.4L1568.3 379.7L1570.3 379.9L1572.3 380.2L1574.3 380.5L1576.3 380.7L1578.3 380.9L1580.3 381.2L1582.3 381.4L1584.3 381.6L1586.3 381.8L1588.3 382.0" stroke="#fa3c3c"/>
<path d="M1100.3 329.2L1102.3 329.2L1104.3 329.1L1106.3 329.1L1108.3 329.0L1110.3 329.0L1112.3 329.0L1114.3 328.9L1116.3 328.9L1118.3 328.8L1120.3 328.8L1122.3 328.8L1124.3 328.7L1126.3 328.7L1128.3 328.6L1130.3 328.6L1132.3 328.6L1134.3 328.5L1136.3 328.5L1138.3 328.4L1140.3 328.4L1142.3 328.3L1144.3 328.3L1146.3 328.2L1148.3 328.2L1150.3 328.1L1152.3 328.1L1154.3 328.0L1156.3 328.0L1158.3 327.9L1160.3 327.9L1162.3 327.8L1164.3 327.8L1166.3 327.7L1168.3 327.7L1170.3 327.6L1172.3 327.5L1174.3 327.5L1176.3 327.4L1178.3 327.4L1180.3 327.3L1182.3 327.2L1184.3 327.1L1186.3 327.1L1188.3 327.0L1190.3 326.9L1192.3 326.8L1194.3 326.8L1196.3 326.7L1198.3 326.6L1200.3 326.5L1202.3 326.4L1204.3 326.3L1206.3 326.2L1208.3 326.1L1210.3 326.0L1212.3 325.9L1214.3 325.7L1216.3 325.6L1218.3 325.5L1220.3 325.3L1222.3 325.2L1224.3 325.1L1226.3 324.9L1228.3 324.8L1230.3 324.6L1232.3 324.5L1234.3 324.3L1236.3 324.1L1238.3 323.9L1240.3 323.8L1242.3 323.6L1244.3 323.4L1246.3 323.2L1248.3 323.0L1250.3 322.8L1252.3 322.6L1254.3 322.4L1256.3 322.2L1258.3 321.9L1260.3 321.7L1262.3 321.5L1264.3 321.2L1266.3 321.0L1268.3 320.7L1270.3 320.4L1272.3 320.1L1274.3 319.8L1276.3 319.5L1278.3 319.1L1280.3 318.7L1282.3 318.3L1284.3 317.9L1286.3 317.5L1288.3 317.0L1290.3 316.5L1292.3 315.9L1294.3 315.4L1296.3 314.8L1298.3 314.1L1300.3 313.4L1302.3 312.6L1304.3 311.9L1306.3 311.0L1308.3 310.1L1310.3 309.1L1312.3 308.1L1314.3 307.0L1316.3 305.8L1318.3 304.5L1320.3 303.1L1322.3 301.6L1324.3 300.1L1326.3 298.4L1328.3 296.5L1330.3 294.6L1332.3 292.4L1334.3 290.2L1336.3 287.7L1338.3 285.0L1340.3 282.1L1342.3 279.0L1344.3 275.6L1346.3 272.0L1348.3 268.0L1350.3 263.7L1352.3 259.0L1354.3 254.0L1356.3 248.5L1358.3 242.5L1360.3 236.1L1362.3 229.1L1364.3 221.5L1366.3 213.4L1368.3 204.7L1370.3 195.3L1372.3 185.3L1374.3 174.8L1376.3 163.7L1378.3 152.1L1380.3 140.3L1382.3 128.3L1384.3 116.4L1386.3 104.8L1388.3 94.0L1390.3 84.2L1392.3 75.9L1394.3 69.5L1396.3 65.2L1398.3 63.4L1400.3 64.1L1402.3 67.0L1404.3 72.1L1406.3 79.1L1408.3 87.9L1410.3 98.0L1412.3 109.3L1414.3 121.3L1416.3 133.8L1418.3 146.6L1420.3 159.4L1422.3 172.0L1424.3 184.3L1426.3 196.2L1428.3 207.5L1430.3 218.3L1432.3 228.6L1434.3 238.2L1436.3 247.3L1438.3 255.8L1440.3 263.7L1442.3 271.1L1444.3 278.0L1446.3 284.5L1448.3 290.5L1450.3 296.1L1452.3 301.3L1454.3 306.2L1456.3 310.7L1458.3 314.9L1460.3 318.9L1462.3 322.5L1464.3 325.9L1466.3 329.1L1468.3 332.1L1470.3 334.9L1472.3 337.5L1474.3 339.9L1476.3 342.2L1478.3 344.4L1480.3 346.4L1482.3 348.3L1484.3 350.0L1486.3 351.7L1488.3 353.3L1490.3 354.8L1492.3 356.2L1494.3 357.5L1496.3 358.8L1498.3 360.0L1500.3 361.1L1502.3 362.2L1504.3 363.2L1506.3 364.2L1508.3 365.2L1510.3 366.1L1512.3 366.9L1514.3 367.7L1516.3 368.5L1518.3 369.2L1520.3 370.0L1522.3 370.6L1524.3 371.3L1526.3 371.9L1528.3 372.5L1530.3 373.1L1532.3 373.6L1534.3 374.1L1536.3 374.7L1538.3 375.1L1540.3 375.6L1542.3 376.0L1544.3 376.5L1546.3 376.9L1548.3 377.3L1550.3 377.7L1552.3 378.0L1554.3 378.4L1556.3 378.7L1558.3 379.1L1560.3 379.4L1562.3 379.7L1564.3 380.0L1566.3 380.2L1568.3 380.5L1570.3 380.8L1572.3 381.0L1574.3 381.3L1576.3 381.5L1578.3 381.7L1580.3 381.9L1582.3 382.2L1584.3 382.4L1586.3 382.6L1588.3 382.7" stroke="#00a862"/>
<path d="M1100.3 331.2L1102.3 331.2L1104.3 331.1L1106.3 331.1L1108.3 331.1L1110.3 331.1L1112.3 331.1L1114.3 331.1L1116.3 331.0L1118.3 331.0L1120.3 331.0L1122.3 331.0L1124.3 331.0L1126.3 330.9L1128.3 330.9L1130.3 330.9L1132.3 330.9L1134.3 330.9L1136.3 330.8L1138.3 330.8L1140.3 330.8L1142.3 330.8L1144.3 330.8L1146.3 330.7L1148.3 330.7L1150.3 330.7L1152.3 330.7L1154.3 330.6L1156.3 330.6L1158.3 330.6L1160.3 330.6L1162.3 330.5L1164.3 330.5L1166.3 330.5L1168.3 330.4L1170.3 330.4L1172.3 330.4L1174.3 330.3L1176.3 330.3L1178.3 330.2L1180.3 330.2L1182.3 330.1L1184.3 330.1L1186.3 330.0L1188.3 329.9L1190.3 329.9L1192.3 329.8L1194.3 329.7L1196.3 329.6L1198.3 329.5L1200.3 329.4L1202.3 329.3L1204.3 329.1L1206.3 329.0L1208.3 328.8L1210.3 328.7L1212.3 328.5L1214.3 328.3L1216.3 328.1L1218.3 327.8L1220.3 327.6L1222.3 327.3L1224.3 327.0L1226.3 326.7L1228.3 326.4L1230.3 326.0L1232.3 325.6L1234.3 325.2L1236.3 324.7L1238.3 324.2L1240.3 323.7L1242.3 323.1L1244.3 322.5L1246.3 321.9L1248.3 321.3L1250.3 320.6L1252.3 319.8L1254.3 319.1L1256.3 318.3L1258.3 317.4L1260.3 316.6L1262.3 315.7L1264.3 314.7L1266.3 313.8L1268.3 312.8L1270.3 311.7L1272.3 310.7L1274.3 309.6L1276.3 308.6L1278.3 307.5L1280.3 306.4L1282.3 305.4L1284.3 304.3L1286.3 303.3L1288.3 302.4L1290.3 301.5L1292.3 300.7L1294.3 300.0L1296.3 299.4L1298.3 298.9L1300.3 298.6L1302.3 298.4L1304.3 298.3L1306.3 298.5L1308.3 298.7L1310.3 299.2L1312.3 299.7L1314.3 300.4L1316.3 301.2L1318.3 302.2L1320.3 303.2L1322.3 304.4L1324.3 305.6L1326.3 306.9L1328.3 308.2L1330.3 309.6L1332.3 311.1L1334.3 312.6L1336.3 314.1L1338.3 315.6L1340.3 317.2L1342.3 318.7L1344.3 320.2L1346.3 321.8L1348.3 323.3L1350.3 324.8L1352.3 326.3L1354.3 327.8L1356.3 329.2L1358.3 330.7L1360.3 332.1L1362.3 333.5L1364.3 334.9L1366.3 336.3L1368.3 337.7L1370.3 339.1L1372.3 340.5L1374.3 341.8L1376.3 343.2L1378.3 344.6L1380.3 345.9L1382.3 347.3L1384.3 348.7L1386.3 350.0L1388.3 351.4L1390.3 352.7L1392.3 354.1L1394.3 355.4L1396.3 356.7L1398.3 358.1L1400.3 359.4L1402.3 360.6L1404.3 361.9L1406.3 363.1L1408.3 364.4L1410.3 365.6L1412.3 366.7L1414.3 367.9L1416.3 369.0L1418.3 370.1L1420.3 371.2L1422.3 372.3L1424.3 373.3L1426.3 374.3L1428.3 375.2L1430.3 376.1L1432.3 377.0L1434.3 377.8L1436.3 378.6L1438.3 379.3L1440.3 380.0L1442.3 380.7L1444.3 381.3L1446.3 381.9L1448.3 382.5L1450.3 383.0L1452.3 383.5L1454.3 384.0L1456.3 384.4L1458.3 384.8L1460.3 385.2L1462.3 385.6L1464.3 385.9L1466.3 386.2L1468.3 386.5L1470.3 386.7L1472.3 386.9L1474.3 387.1L1476.3 387.3L1478.3 387.5L1480.3 387.7L1482.3 387.8L1484.3 388.0L1486.3 388.1L1488.3 388.2L1490.3 388.3L1492.3 388.4L1494.3 388.5L1496.3 388.6L1498.3 388.7L1500.3 388.8L1502.3 388.9L1504.3 389.0L1506.3 389.1L1508.3 389.2L1510.3 389.3L1512.3 389.4L1514.3 389.4L1516.3 389.5L1518.3 389.6L1520.3 389.7L1522.3 389.7L1524.3 389.8L1526.3 389.9L1528.3 389.9L1530.3 390.0L1532.3 390.0L1534.3 390.1L1536.3 390.2L1538.3 390.2L1540.3 390.3L1542.3 390.3L1544.3 390.4L1546.3 390.4L1548.3 390.4L1550.3 390.5L1552.3 390.5L1554.3 390.6L1556.3 390.6L1558.3 390.6L1560.3 390.7L1562.3 390.7L1564.3 390.7L1566.3 390.8L1568.3 390.8L1570.3 390.8L1572.3 390.8L1574.3 390.8L1576.3 390.9L1578.3 390.9L1580.3 390.9L1582.3 390.9L1584.3 390.9L1586.3 390.9L1588.3 391.0" stroke="#c870e2"/>
<path d="M1093.0 708.4L1099.3 716.0L1104.0 712.0L1110.0 708.4L1114.0 712.0L1119.4 719.1L1128.2 723.5L1132.0 717.8L1140.8 707.8L1146.0 711.0L1155.0 711.0L1164.0 709.0L1173.4 705.3L1177.2 702.8L1181.6 707.2L1187.2 703.4L1194.8 702.8L1199.8 707.2L1208.6 699.6L1216.1 697.7L1221.2 687.7L1227.4 693.3L1235.0 684.5L1242.5 687.1L1252.6 685.2L1256.3 677.0L1263.0 672.2L1269.2 668.0L1274.2 672.2L1279.2 671.0L1284.2 668.0L1289.2 663.0L1294.2 661.5L1298.5 653.5L1303.0 641.0L1306.8 651.0L1311.0 651.0L1315.5 638.5L1320.0 634.8L1325.0 633.5L1330.0 618.5L1334.2 624.8L1339.2 613.5L1343.0 601.0L1346.8 586.5L1351.8 584.8L1355.5 571.0L1360.0 562.2L1364.2 546.0L1368.0 533.5L1372.5 518.5L1376.8 504.8L1381.0 491.0L1385.5 477.2L1389.2 466.0L1393.0 461.0L1397.5 451.0L1401.8 456.0L1405.5 464.8L1409.2 476.0L1413.0 488.5L1416.8 499.8L1420.5 508.5L1424.2 526.0L1427.5 553.5L1430.5 576.0L1434.2 601.0L1438.0 621.0L1441.8 643.5L1445.5 663.5L1449.2 683.5L1453.0 706.0L1456.8 716.0L1461.8 728.5L1466.8 739.8L1471.8 744.8L1476.8 756.0L1481.8 762.2L1486.8 763.5L1493.0 762.2L1498.0 761.5L1503.0 767.2L1508.0 769.0L1513.0 768.0L1518.0 771.0L1523.0 774.8L1526.0 775.5L1532.0 778.3L1540.0 777.0L1549.0 779.0L1558.7 776.7L1567.0 777.0L1575.0 776.0L1582.0 780.0L1586.0 779.0L1588.7 781.1" stroke="#4d4d4d" stroke-width="3.5"/>
<path d="M1100.3 716.0L1102.3 716.0L1104.3 716.0L1106.3 716.0L1108.3 716.1L1110.3 716.1L1112.3 716.1L1114.3 716.1L1116.3 716.1L1118.3 716.1L1120.3 716.2L1122.3 716.2L1124.3 716.2L1126.3 716.3L1128.3 716.3L1130.3 716.3L1132.3 716.4L1134.3 716.4L1136.3 716.4L1138.3 716.5L1140.3 716.5L1142.3 716.6L1144.3 716.6L1146.3 716.7L1148.3 716.7L1150.3 716.8L1152.3 716.8L1154.3 716.9L1156.3 717.0L1158.3 717.0L1160.3 717.1L1162.3 717.2L1164.3 717.2L1166.3 717.3L1168.3 717.4L1170.3 717.4L1172.3 717.5L1174.3 717.6L1176.3 717.7L1178.3 717.8L1180.3 717.8L1182.3 717.9L1184.3 718.0L1186.3 718.1L1188.3 718.2L1190.3 718.3L1192.3 718.4L1194.3 718.4L1196.3 718.5L1198.3 718.6L1200.3 718.7L1202.3 718.8L1204.3 718.9L1206.3 719.0L1208.3 719.1L1210.3 719.2L1212.3 719.3L1214.3 719.4L1216.3 719.5L1218.3 719.6L1220.3 719.7L1222.3 719.8L1224.3 719.9L1226.3 720.0L1228.3 720.2L1230.3 720.3L1232.3 720.4L1234.3 720.5L1236.3 720.6L1238.3 720.8L1240.3 720.9L1242.3 721.0L1244.3 721.2L1246.3 721.3L1248.3 721.5L1250.3 721.6L1252.3 721.8L1254.3 722.0L1256.3 722.1L1258.3 722.3L1260.3 722.5L1262.3 722.7L1264.3 722.9L1266.3 723.1L1268.3 723.3L1270.3 723.6L1272.3 723.8L1274.3 724.0L1276.3 724.3L1278.3 724.5L1280.3 724.8L1282.3 725.0L1284.3 725.3L1286.3 725.6L1288.3 725.9L1290.3 726.1L1292.3 726.4L1294.3 726.7L1296.3 727.0L1298.3 727.3L1300.3 727.6L1302.3 728.0L1304.3 728.3L1306.3 728.6L1308.3 729.0L1310.3 729.3L1312.3 729.7L1314.3 730.0L1316.3 730.4L1318.3 730.8L1320.3 731.2L1322.3 731.6L1324.3 732.0L1326.3 732.5L1328.3 732.9L1330.3 733.4L1332.3 733.8L1334.3 734.3L1336.3 734.8L1338.3 735.3L1340.3 735.8L1342.3 736.3L1344.3 736.8L1346.3 737.4L1348.3 737.9L1350.3 738.5L1352.3 739.1L1354.3 739.7L1356.3 740.2L1358.3 740.9L1360.3 741.5L1362.3 742.1L1364.3 742.8L1366.3 743.4L1368.3 744.1L1370.3 744.8L1372.3 745.6L1374.3 746.3L1376.3 747.1L1378.3 747.9L1380.3 748.7L1382.3 749.5L1384.3 750.4L1386.3 751.3L1388.3 752.1L1390.3 753.0L1392.3 754.0L1394.3 754.9L1396.3 755.8L1398.3 756.7L1400.3 757.7L1402.3 758.6L1404.3 759.5L1406.3 760.5L1408.3 761.4L1410.3 762.3L1412.3 763.2L1414.3 764.1L1416.3 765.0L1418.3 765.9L1420.3 766.8L1422.3 767.6L1424.3 768.4L1426.3 769.2L1428.3 769.9L1430.3 770.7L1432.3 771.3L1434.3 772.0L1436.3 772.6L1438.3 773.1L1440.3 773.6L1442.3 774.1L1444.3 774.6L1446.3 775.0L1448.3 775.4L1450.3 775.7L1452.3 776.0L1454.3 776.3L1456.3 776.6L1458.3 776.9L1460.3 777.1L1462.3 777.3L1464.3 777.5L1466.3 777.6L1468.3 777.8L1470.3 777.9L1472.3 778.0L1474.3 778.1L1476.3 778.2L1478.3 778.3L1480.3 778.4L1482.3 778.4L1484.3 778.5L1486.3 778.5L1488.3 778.6L1490.3 778.6L1492.3 778.6L1494.3 778.7L1496.3 778.7L1498.3 778.7L1500.3 778.8L1502.3 778.8L1504.3 778.8L1506.3 778.8L1508.3 778.9L1510.3 778.9L1512.3 778.9L1514.3 778.9L1516.3 779.0L1518.3 779.0L1520.3 779.0L1522.3 779.0L1524.3 779.0L1526.3 779.0L1528.3 779.1L1530.3 779.1L1532.3 779.1L1534.3 779.1L1536.3 779.1L1538.3 779.1L1540.3 779.2L1542.3 779.2L1544.3 779.2L1546.3 779.2L1548.3 779.2L1550.3 779.2L1552.3 779.2L1554.3 779.2L1556.3 779.2L1558.3 779.2L1560.3 779.3L1562.3 779.3L1564.3 779.3L1566.3 779.3L1568.3 779.3L1570.3 779.3L1572.3 779.3L1574.3 779.3L1576.3 779.3L1578.3 779.3L1580.3 779.3L1582.3 779.3L1584.3 779.3L1586.3 779.3L1588.3 779.3" stroke="#0d6ee0"/>
<path d="M1100.3 709.9L1102.3 709.8L1104.3 709.7L1106.3 709.6L1108.3 709.5L1110.3 709.4L1112.3 709.3L1114.3 709.2L1116.3 709.1L1118.3 709.0L1120.3 708.9L1122.3 708.8L1124.3 708.7L1126.3 708.6L1128.3 708.5L1130.3 708.3L1132.3 708.2L1134.3 708.1L1136.3 708.0L1138.3 707.9L1140.3 707.7L1142.3 707.6L1144.3 707.5L1146.3 707.3L1148.3 707.2L1150.3 707.0L1152.3 706.9L1154.3 706.7L1156.3 706.6L1158.3 706.4L1160.3 706.2L1162.3 706.0L1164.3 705.9L1166.3 705.7L1168.3 705.4L1170.3 705.2L1172.3 705.0L1174.3 704.8L1176.3 704.5L1178.3 704.3L1180.3 704.0L1182.3 703.7L1184.3 703.4L1186.3 703.1L1188.3 702.8L1190.3 702.5L1192.3 702.1L1194.3 701.8L1196.3 701.4L1198.3 701.0L1200.3 700.6L1202.3 700.1L1204.3 699.7L1206.3 699.2L1208.3 698.7L1210.3 698.1L1212.3 697.6L1214.3 697.0L1216.3 696.4L1218.3 695.7L1220.3 695.1L1222.3 694.4L1224.3 693.6L1226.3 692.9L1228.3 692.1L1230.3 691.3L1232.3 690.4L1234.3 689.5L1236.3 688.6L1238.3 687.7L1240.3 686.7L1242.3 685.7L1244.3 684.7L1246.3 683.7L1248.3 682.6L1250.3 681.6L1252.3 680.5L1254.3 679.3L1256.3 678.2L1258.3 677.0L1260.3 675.8L1262.3 674.6L1264.3 673.3L1266.3 672.0L1268.3 670.7L1270.3 669.3L1272.3 667.9L1274.3 666.5L1276.3 664.9L1278.3 663.4L1280.3 661.8L1282.3 660.1L1284.3 658.4L1286.3 656.7L1288.3 654.9L1290.3 653.2L1292.3 651.5L1294.3 649.9L1296.3 648.3L1298.3 646.8L1300.3 645.5L1302.3 644.3L1304.3 643.3L1306.3 642.4L1308.3 641.7L1310.3 641.1L1312.3 640.7L1314.3 640.3L1316.3 640.1L1318.3 639.9L1320.3 639.7L1322.3 639.4L1324.3 639.2L1326.3 638.8L1328.3 638.3L1330.3 637.7L1332.3 636.8L1334.3 635.8L1336.3 634.5L1338.3 632.9L1340.3 631.0L1342.3 628.8L1344.3 626.2L1346.3 623.2L1348.3 619.8L1350.3 616.0L1352.3 611.7L1354.3 606.9L1356.3 601.5L1358.3 595.6L1360.3 589.1L1362.3 582.0L1364.3 574.2L1366.3 565.8L1368.3 556.8L1370.3 547.1L1372.3 536.9L1374.3 526.2L1376.3 515.1L1378.3 503.8L1380.3 492.4L1382.3 481.2L1384.3 470.4L1386.3 460.5L1388.3 451.7L1390.3 444.4L1392.3 438.9L1394.3 435.5L1396.3 434.4L1398.3 435.7L1400.3 439.1L1402.3 444.5L1404.3 451.7L1406.3 460.5L1408.3 470.7L1410.3 481.9L1412.3 494.0L1414.3 506.5L1416.3 519.3L1418.3 532.1L1420.3 544.9L1422.3 557.3L1424.3 569.4L1426.3 581.0L1428.3 592.1L1430.3 602.7L1432.3 612.7L1434.3 622.1L1436.3 631.0L1438.3 639.3L1440.3 647.1L1442.3 654.3L1444.3 661.2L1446.3 667.5L1448.3 673.4L1450.3 679.0L1452.3 684.2L1454.3 689.0L1456.3 693.5L1458.3 697.7L1460.3 701.7L1462.3 705.4L1464.3 708.8L1466.3 712.0L1468.3 715.1L1470.3 717.9L1472.3 720.6L1474.3 723.0L1476.3 725.4L1478.3 727.6L1480.3 729.7L1482.3 731.6L1484.3 733.4L1486.3 735.2L1488.3 736.8L1490.3 738.4L1492.3 739.8L1494.3 741.2L1496.3 742.6L1498.3 743.8L1500.3 745.0L1502.3 746.2L1504.3 747.3L1506.3 748.3L1508.3 749.3L1510.3 750.2L1512.3 751.1L1514.3 752.0L1516.3 752.8L1518.3 753.6L1520.3 754.4L1522.3 755.1L1524.3 755.8L1526.3 756.4L1528.3 757.1L1530.3 757.7L1532.3 758.3L1534.3 758.8L1536.3 759.4L1538.3 759.9L1540.3 760.4L1542.3 760.9L1544.3 761.4L1546.3 761.8L1548.3 762.2L1550.3 762.6L1552.3 763.0L1554.3 763.4L1556.3 763.8L1558.3 764.2L1560.3 764.5L1562.3 764.8L1564.3 765.2L1566.3 765.5L1568.3 765.8L1570.3 766.1L1572.3 766.4L1574.3 766.6L1576.3 766.9L1578.3 767.2L1580.3 767.4L1582.3 767.6L1584.3 767.9L1586.3 768.1L1588.3 768.3" stroke="#fa3c3c"/>
<path d="M1100.3 712.4L1102.3 712.4L1104.3 712.3L1106.3 712.3L1108.3 712.3L1110.3 712.2L1112.3 712.2L1114.3 712.1L1116.3 712.1L1118.3 712.1L1120.3 712.0L1122.3 712.0L1124.3 712.0L1126.3 711.9L1128.3 711.9L1130.3 711.9L1132.3 711.9L1134.3 711.8L1136.3 711.8L1138.3 711.8L1140.3 711.7L1142.3 711.7L1144.3 711.7L1146.3 711.7L1148.3 711.6L1150.3 711.6L1152.3 711.6L1154.3 711.6L1156.3 711.5L1158.3 711.5L1160.3 711.5L1162.3 711.5L1164.3 711.4L1166.3 711.4L1168.3 711.4L1170.3 711.3L1172.3 711.3L1174.3 711.3L1176.3 711.2L1178.3 711.2L1180.3 711.2L1182.3 711.1L1184.3 711.1L1186.3 711.0L1188.3 711.0L1190.3 710.9L1192.3 710.9L1194.3 710.8L1196.3 710.8L1198.3 710.7L1200.3 710.7L1202.3 710.6L1204.3 710.5L1206.3 710.4L1208.3 710.4L1210.3 710.3L1212.3 710.2L1214.3 710.1L1216.3 710.0L1218.3 709.9L1220.3 709.8L1222.3 709.7L1224.3 709.6L1226.3 709.4L1228.3 709.3L1230.3 709.2L1232.3 709.0L1234.3 708.9L1236.3 708.7L1238.3 708.5L1240.3 708.4L1242.3 708.2L1244.3 708.0L1246.3 707.8L1248.3 707.6L1250.3 707.4L1252.3 707.2L1254.3 707.0L1256.3 706.8L1258.3 706.5L1260.3 706.3L1262.3 706.0L1264.3 705.7L1266.3 705.5L1268.3 705.2L1270.3 704.8L1272.3 704.5L1274.3 704.1L1276.3 703.8L1278.3 703.4L1280.3 702.9L1282.3 702.5L1284.3 702.0L1286.3 701.5L1288.3 700.9L1290.3 700.4L1292.3 699.7L1294.3 699.1L1296.3 698.4L1298.3 697.6L1300.3 696.8L1302.3 696.0L1304.3 695.0L1306.3 694.0L1308.3 693.0L1310.3 691.9L1312.3 690.7L1314.3 689.4L1316.3 688.0L1318.3 686.5L1320.3 684.9L1322.3 683.2L1324.3 681.4L1326.3 679.4L1328.3 677.3L1330.3 675.0L1332.3 672.5L1334.3 669.9L1336.3 667.0L1338.3 663.9L1340.3 660.5L1342.3 656.8L1344.3 652.9L1346.3 648.6L1348.3 644.0L1350.3 638.9L1352.3 633.5L1354.3 627.6L1356.3 621.2L1358.3 614.4L1360.3 606.9L1362.3 599.0L1364.3 590.4L1366.3 581.2L1368.3 571.5L1370.3 561.2L1372.3 550.3L1374.3 539.0L1376.3 527.4L1378.3 515.5L1380.3 503.6L1382.3 491.9L1384.3 480.8L1386.3 470.4L1388.3 461.2L1390.3 453.5L1392.3 447.7L1394.3 444.0L1396.3 442.6L1398.3 443.6L1400.3 446.7L1402.3 451.9L1404.3 458.8L1406.3 467.4L1408.3 477.4L1410.3 488.4L1412.3 500.2L1414.3 512.5L1416.3 525.1L1418.3 537.8L1420.3 550.4L1422.3 562.7L1424.3 574.6L1426.3 586.1L1428.3 597.0L1430.3 607.4L1432.3 617.3L1434.3 626.6L1436.3 635.4L1438.3 643.6L1440.3 651.2L1442.3 658.4L1444.3 665.1L1446.3 671.4L1448.3 677.2L1450.3 682.7L1452.3 687.8L1454.3 692.5L1456.3 696.9L1458.3 701.1L1460.3 705.0L1462.3 708.6L1464.3 711.9L1466.3 715.1L1468.3 718.1L1470.3 720.8L1472.3 723.4L1474.3 725.8L1476.3 728.1L1478.3 730.3L1480.3 732.3L1482.3 734.2L1484.3 736.0L1486.3 737.6L1488.3 739.2L1490.3 740.8L1492.3 742.2L1494.3 743.5L1496.3 744.8L1498.3 746.0L1500.3 747.2L1502.3 748.3L1504.3 749.3L1506.3 750.3L1508.3 751.3L1510.3 752.2L1512.3 753.1L1514.3 753.9L1516.3 754.7L1518.3 755.4L1520.3 756.2L1522.3 756.9L1524.3 757.5L1526.3 758.2L1528.3 758.8L1530.3 759.3L1532.3 759.9L1534.3 760.4L1536.3 761.0L1538.3 761.5L1540.3 761.9L1542.3 762.4L1544.3 762.8L1546.3 763.3L1548.3 763.7L1550.3 764.1L1552.3 764.4L1554.3 764.8L1556.3 765.2L1558.3 765.5L1560.3 765.8L1562.3 766.1L1564.3 766.4L1566.3 766.7L1568.3 767.0L1570.3 767.3L1572.3 767.6L1574.3 767.8L1576.3 768.1L1578.3 768.3L1580.3 768.5L1582.3 768.8L1584.3 769.0L1586.3 769.2L1588.3 769.4" stroke="#00a862"/>
<path d="M1100.3 714.8L1102.3 714.8L1104.3 714.8L1106.3 714.7L1108.3 714.7L1110.3 714.7L1112.3 714.7L1114.3 714.7L1116.3 714.7L1118.3 714.7L1120.3 714.7L1122.3 714.7L1124.3 714.7L1126.3 714.7L1128.3 714.7L1130.3 714.7L1132.3 714.7L1134.3 714.7L1136.3 714.7L1138.3 714.7L1140.3 714.7L1142.3 714.7L1144.3 714.7L1146.3 714.7L1148.3 714.7L1150.3 714.7L1152.3 714.7L1154.3 714.7L1156.3 714.7L1158.3 714.7L1160.3 714.7L1162.3 714.7L1164.3 714.7L1166.3 714.7L1168.3 714.7L1170.3 714.7L1172.3 714.7L1174.3 714.7L1176.3 714.7L1178.3 714.7L1180.3 714.7L1182.3 714.7L1184.3 714.7L1186.3 714.7L1188.3 714.7L1190.3 714.6L1192.3 714.6L1194.3 714.6L1196.3 714.5L1198.3 714.5L1200.3 714.4L1202.3 714.4L1204.3 714.3L1206.3 714.3L1208.3 714.2L1210.3 714.1L1212.3 714.0L1214.3 713.9L1216.3 713.8L1218.3 713.6L1220.3 713.5L1222.3 713.3L1224.3 713.2L1226.3 713.0L1228.3 712.8L1230.3 712.5L1232.3 712.3L1234.3 712.0L1236.3 711.7L1238.3 711.4L1240.3 711.1L1242.3 710.7L1244.3 710.3L1246.3 709.9L1248.3 709.4L1250.3 708.9L1252.3 708.3L1254.3 707.7L1256.3 707.1L1258.3 706.4L1260.3 705.7L1262.3 704.9L1264.3 704.1L1266.3 703.2L1268.3 702.3L1270.3 701.3L1272.3 700.2L1274.3 699.1L1276.3 698.0L1278.3 696.8L1280.3 695.6L1282.3 694.3L1284.3 693.0L1286.3 691.8L1288.3 690.5L1290.3 689.3L1292.3 688.2L1294.3 687.2L1296.3 686.3L1298.3 685.5L1300.3 685.0L1302.3 684.6L1304.3 684.5L1306.3 684.7L1308.3 685.1L1310.3 685.7L1312.3 686.5L1314.3 687.6L1316.3 688.9L1318.3 690.3L1320.3 691.8L1322.3 693.5L1324.3 695.3L1326.3 697.1L1328.3 699.0L1330.3 700.9L1332.3 702.9L1334.3 704.8L1336.3 706.7L1338.3 708.6L1340.3 710.4L1342.3 712.2L1344.3 714.0L1346.3 715.7L1348.3 717.4L1350.3 719.0L1352.3 720.6L1354.3 722.2L1356.3 723.7L1358.3 725.1L1360.3 726.6L1362.3 728.0L1364.3 729.3L1366.3 730.7L1368.3 732.0L1370.3 733.3L1372.3 734.6L1374.3 735.9L1376.3 737.1L1378.3 738.4L1380.3 739.6L1382.3 740.9L1384.3 742.1L1386.3 743.3L1388.3 744.6L1390.3 745.8L1392.3 747.0L1394.3 748.2L1396.3 749.4L1398.3 750.6L1400.3 751.7L1402.3 752.9L1404.3 754.0L1406.3 755.2L1408.3 756.3L1410.3 757.4L1412.3 758.5L1414.3 759.5L1416.3 760.6L1418.3 761.6L1420.3 762.6L1422.3 763.6L1424.3 764.5L1426.3 765.4L1428.3 766.2L1430.3 767.1L1432.3 767.8L1434.3 768.6L1436.3 769.3L1438.3 769.9L1440.3 770.5L1442.3 771.1L1444.3 771.6L1446.3 772.1L1448.3 772.6L1450.3 773.0L1452.3 773.4L1454.3 773.8L1456.3 774.1L1458.3 774.4L1460.3 774.7L1462.3 775.0L1464.3 775.2L1466.3 775.4L1468.3 775.6L1470.3 775.8L1472.3 776.0L1474.3 776.1L1476.3 776.2L1478.3 776.3L1480.3 776.5L1482.3 776.6L1484.3 776.6L1486.3 776.7L1488.3 776.8L1490.3 776.9L1492.3 777.0L1494.3 777.0L1496.3 777.1L1498.3 777.2L1500.3 777.2L1502.3 777.3L1504.3 777.3L1506.3 777.4L1508.3 777.4L1510.3 777.5L1512.3 777.5L1514.3 777.6L1516.3 777.6L1518.3 777.7L1520.3 777.7L1522.3 777.8L1524.3 777.8L1526.3 777.8L1528.3 777.9L1530.3 777.9L1532.3 777.9L1534.3 778.0L1536.3 778.0L1538.3 778.0L1540.3 778.1L1542.3 778.1L1544.3 778.1L1546.3 778.2L1548.3 778.2L1550.3 778.2L1552.3 778.2L1554.3 778.3L1556.3 778.3L1558.3 778.3L1560.3 778.3L1562.3 778.4L1564.3 778.4L1566.3 778.4L1568.3 778.4L1570.3 778.4L1572.3 778.4L1574.3 778.5L1576.3 778.5L1578.3 778.5L1580.3 778.5L1582.3 778.5L1584.3 778.5L1586.3 778.5L1588.3 778.6" stroke="#c870e2"/>
<path d="M1100.3 714.7L1102.3 714.7L1104.3 714.7L1106.3 714.7L1108.3 714.6L1110.3 714.6L1112.3 714.6L1114.3 714.6L1116.3 714.6L1118.3 714.5L1120.3 714.5L1122.3 714.5L1124.3 714.5L1126.3 714.5L1128.3 714.5L1130.3 714.5L1132.3 714.4L1134.3 714.4L1136.3 714.4L1138.3 714.4L1140.3 714.4L1142.3 714.4L1144.3 714.4L1146.3 714.3L1148.3 714.3L1150.3 714.3L1152.3 714.3L1154.3 714.3L1156.3 714.3L1158.3 714.2L1160.3 714.2L1162.3 714.2L1164.3 714.2L1166.3 714.1L1168.3 714.1L1170.3 714.1L1172.3 714.0L1174.3 714.0L1176.3 713.9L1178.3 713.9L1180.3 713.8L1182.3 713.8L1184.3 713.7L1186.3 713.6L1188.3 713.5L1190.3 713.4L1192.3 713.4L1194.3 713.3L1196.3 713.1L1198.3 713.0L1200.3 712.9L1202.3 712.8L1204.3 712.6L1206.3 712.5L1208.3 712.3L1210.3 712.2L1212.3 712.0L1214.3 711.8L1216.3 711.6L1218.3 711.4L1220.3 711.2L1222.3 711.0L1224.3 710.8L1226.3 710.6L1228.3 710.3L1230.3 710.1L1232.3 709.9L1234.3 709.7L1236.3 709.4L1238.3 709.2L1240.3 709.1L1242.3 708.9L1244.3 708.8L1246.3 708.6L1248.3 708.5L1250.3 708.5L1252.3 708.5L1254.3 708.5L1256.3 708.6L1258.3 708.7L1260.3 708.9L1262.3 709.1L1264.3 709.3L1266.3 709.6L1268.3 710.0L1270.3 710.4L1272.3 710.8L1274.3 711.3L1276.3 711.8L1278.3 712.3L1280.3 712.8L1282.3 713.4L1284.3 714.0L1286.3 714.6L1288.3 715.2L1290.3 715.8L1292.3 716.4L1294.3 717.1L1296.3 717.7L1298.3 718.3L1300.3 719.0L1302.3 719.6L1304.3 720.3L1306.3 720.9L1308.3 721.5L1310.3 722.1L1312.3 722.8L1314.3 723.4L1316.3 724.0L1318.3 724.7L1320.3 725.3L1322.3 725.9L1324.3 726.6L1326.3 727.2L1328.3 727.8L1330.3 728.5L1332.3 729.1L1334.3 729.8L1336.3 730.4L1338.3 731.1L1340.3 731.7L1342.3 732.4L1344.3 733.0L1346.3 733.7L1348.3 734.4L1350.3 735.1L1352.3 735.7L1354.3 736.4L1356.3 737.1L1358.3 737.8L1360.3 738.6L1362.3 739.3L1364.3 740.0L1366.3 740.8L1368.3 741.5L1370.3 742.3L1372.3 743.1L1374.3 744.0L1376.3 744.8L1378.3 745.7L1380.3 746.5L1382.3 747.4L1384.3 748.3L1386.3 749.3L1388.3 750.2L1390.3 751.2L1392.3 752.1L1394.3 753.1L1396.3 754.0L1398.3 755.0L1400.3 756.0L1402.3 757.0L1404.3 757.9L1406.3 758.9L1408.3 759.9L1410.3 760.8L1412.3 761.8L1414.3 762.7L1416.3 763.7L1418.3 764.6L1420.3 765.5L1422.3 766.3L1424.3 767.2L1426.3 768.0L1428.3 768.7L1430.3 769.5L1432.3 770.2L1434.3 770.8L1436.3 771.5L1438.3 772.0L1440.3 772.6L1442.3 773.1L1444.3 773.5L1446.3 774.0L1448.3 774.4L1450.3 774.8L1452.3 775.1L1454.3 775.4L1456.3 775.7L1458.3 776.0L1460.3 776.2L1462.3 776.4L1464.3 776.6L1466.3 776.8L1468.3 777.0L1470.3 777.1L1472.3 777.3L1474.3 777.4L1476.3 777.5L1478.3 777.6L1480.3 777.6L1482.3 777.7L1484.3 777.8L1486.3 777.8L1488.3 777.9L1490.3 777.9L1492.3 778.0L1494.3 778.0L1496.3 778.1L1498.3 778.1L1500.3 778.1L1502.3 778.2L1504.3 778.2L1506.3 778.2L1508.3 778.3L1510.3 778.3L1512.3 778.3L1514.3 778.4L1516.3 778.4L1518.3 778.4L1520.3 778.5L1522.3 778.5L1524.3 778.5L1526.3 778.5L1528.3 778.6L1530.3 778.6L1532.3 778.6L1534.3 778.6L1536.3 778.7L1538.3 778.7L1540.3 778.7L1542.3 778.7L1544.3 778.7L1546.3 778.8L1548.3 778.8L1550.3 778.8L1552.3 778.8L1554.3 778.8L1556.3 778.8L1558.3 778.8L1560.3 778.9L1562.3 778.9L1564.3 778.9L1566.3 778.9L1568.3 778.9L1570.3 778.9L1572.3 778.9L1574.3 778.9L1576.3 778.9L1578.3 778.9L1580.3 778.9L1582.3 778.9L1584.3 779.0L1586.3 779.0L1588.3 779.0" stroke="#e09a06"/>
<path d="M1090.0 1100.0L1092.5 1085.0L1096.2 1101.2L1101.8 1090.0L1108.0 1083.8L1113.0 1086.2L1119.2 1088.8L1125.5 1081.2L1131.8 1075.0L1136.8 1072.5L1141.2 1057.5L1146.0 1072.5L1151.8 1062.5L1159.2 1050.5L1164.2 1069.5L1168.5 1046.2L1173.0 1042.0L1177.5 1063.8L1181.8 1046.2L1186.8 1052.5L1191.8 1043.8L1195.5 1035.0L1199.8 1005.0L1204.2 1008.8L1209.2 1017.5L1212.5 990.5L1216.8 991.2L1221.8 980.0L1226.8 975.0L1231.0 956.2L1235.5 940.0L1239.2 948.8L1244.2 922.5L1249.2 905.0L1254.2 908.8L1259.2 906.2L1263.0 883.8L1267.5 878.8L1273.0 885.0L1279.2 883.8L1284.2 885.0L1289.2 875.5L1293.5 888.8L1298.0 906.2L1303.0 919.5L1307.5 906.2L1311.8 923.8L1316.0 925.0L1320.0 962.5L1324.5 971.2L1329.5 958.8L1335.0 985.0L1339.5 1000.0L1343.0 1021.2L1347.5 1030.0L1352.5 1023.8L1357.5 1036.2L1362.0 1040.0L1365.5 1060.0L1370.0 1060.0L1373.8 1030.0L1378.8 1027.5L1383.8 1050.0L1388.0 1041.2L1392.5 1045.0L1397.5 1040.0L1402.0 1042.5L1406.2 1055.0L1410.5 1048.8L1415.0 1047.5L1418.8 1075.0L1422.5 1085.0L1427.5 1087.5L1433.0 1117.5L1437.5 1110.0L1443.8 1126.2L1450.0 1131.2L1456.2 1152.5L1462.5 1158.8L1468.8 1140.0L1475.0 1147.5L1480.0 1150.0L1485.5 1141.2L1490.0 1160.0L1495.0 1173.8L1499.5 1158.8L1505.0 1151.2L1508.8 1160.0L1513.0 1137.5L1517.5 1160.0L1522.0 1176.2L1527.5 1165.0L1537.5 1165.0L1545.0 1165.5L1548.8 1157.5L1553.0 1166.2L1557.5 1156.2L1562.0 1165.0L1566.2 1157.5L1571.2 1158.8L1576.2 1168.8L1581.2 1156.2L1584.0 1157.5" stroke="#4d4d4d" stroke-width="3.5"/>
<path d="M1092.0 1089.3L1094.0 1089.4L1096.0 1089.4L1098.0 1089.4L1100.0 1089.4L1102.0 1089.5L1104.0 1089.5L1106.0 1089.5L1108.0 1089.6L1110.0 1089.6L1112.0 1089.7L1114.0 1089.7L1116.0 1089.8L1118.0 1089.8L1120.0 1089.9L1122.0 1090.0L1124.0 1090.1L1126.0 1090.2L1128.0 1090.3L1130.0 1090.3L1132.0 1090.4L1134.0 1090.5L1136.0 1090.7L1138.0 1090.8L1140.0 1090.9L1142.0 1091.0L1144.0 1091.1L1146.0 1091.3L1148.0 1091.4L1150.0 1091.5L1152.0 1091.7L1154.0 1091.8L1156.0 1092.0L1158.0 1092.1L1160.0 1092.3L1162.0 1092.4L1164.0 1092.6L1166.0 1092.8L1168.0 1092.9L1170.0 1093.1L1172.0 1093.3L1174.0 1093.5L1176.0 1093.7L1178.0 1093.9L1180.0 1094.1L1182.0 1094.3L1184.0 1094.5L1186.0 1094.7L1188.0 1094.9L1190.0 1095.1L1192.0 1095.3L1194.0 1095.5L1196.0 1095.8L1198.0 1096.0L1200.0 1096.3L1202.0 1096.6L1204.0 1096.9L1206.0 1097.2L1208.0 1097.5L1210.0 1097.9L1212.0 1098.3L1214.0 1098.7L1216.0 1099.1L1218.0 1099.5L1220.0 1100.0L1222.0 1100.5L1224.0 1101.1L1226.0 1101.6L1228.0 1102.2L1230.0 1102.8L1232.0 1103.4L1234.0 1104.1L1236.0 1104.8L1238.0 1105.4L1240.0 1106.1L1242.0 1106.9L1244.0 1107.6L1246.0 1108.3L1248.0 1109.1L1250.0 1109.8L1252.0 1110.6L1254.0 1111.4L1256.0 1112.1L1258.0 1112.9L1260.0 1113.7L1262.0 1114.5L1264.0 1115.2L1266.0 1116.0L1268.0 1116.8L1270.0 1117.6L1272.0 1118.4L1274.0 1119.2L1276.0 1120.1L1278.0 1120.9L1280.0 1121.7L1282.0 1122.6L1284.0 1123.4L1286.0 1124.3L1288.0 1125.2L1290.0 1126.1L1292.0 1127.0L1294.0 1127.9L1296.0 1128.8L1298.0 1129.7L1300.0 1130.6L1302.0 1131.5L1304.0 1132.4L1306.0 1133.3L1308.0 1134.2L1310.0 1135.1L1312.0 1136.0L1314.0 1136.9L1316.0 1137.8L1318.0 1138.6L1320.0 1139.5L1322.0 1140.3L1324.0 1141.1L1326.0 1141.9L1328.0 1142.6L1330.0 1143.4L1332.0 1144.1L1334.0 1144.8L1336.0 1145.5L1338.0 1146.1L1340.0 1146.7L1342.0 1147.4L1344.0 1148.0L1346.0 1148.6L1348.0 1149.1L1350.0 1149.7L1352.0 1150.2L1354.0 1150.8L1356.0 1151.3L1358.0 1151.8L1360.0 1152.3L1362.0 1152.8L1364.0 1153.3L1366.0 1153.8L1368.0 1154.3L1370.0 1154.7L1372.0 1155.2L1374.0 1155.6L1376.0 1156.1L1378.0 1156.5L1380.0 1156.9L1382.0 1157.3L1384.0 1157.7L1386.0 1158.1L1388.0 1158.5L1390.0 1158.9L1392.0 1159.3L1394.0 1159.6L1396.0 1160.0L1398.0 1160.4L1400.0 1160.7L1402.0 1161.1L1404.0 1161.4L1406.0 1161.7L1408.0 1162.1L1410.0 1162.4L1412.0 1162.7L1414.0 1163.0L1416.0 1163.4L1418.0 1163.7L1420.0 1164.0L1422.0 1164.3L1424.0 1164.6L1426.0 1164.9L1428.0 1165.2L1430.0 1165.5L1432.0 1165.7L1434.0 1166.0L1436.0 1166.3L1438.0 1166.5L1440.0 1166.8L1442.0 1167.1L1444.0 1167.3L1446.0 1167.5L1448.0 1167.8L1450.0 1168.0L1452.0 1168.2L1454.0 1168.4L1456.0 1168.6L1458.0 1168.8L1460.0 1169.0L1462.0 1169.1L1464.0 1169.3L1466.0 1169.5L1468.0 1169.6L1470.0 1169.8L1472.0 1169.9L1474.0 1170.0L1476.0 1170.1L1478.0 1170.3L1480.0 1170.4L1482.0 1170.5L1484.0 1170.6L1486.0 1170.7L1488.0 1170.8L1490.0 1170.9L1492.0 1171.0L1494.0 1171.1L1496.0 1171.2L1498.0 1171.3L1500.0 1171.3L1502.0 1171.4L1504.0 1171.5L1506.0 1171.6L1508.0 1171.7L1510.0 1171.8L1512.0 1171.8L1514.0 1171.9L1516.0 1172.0L1518.0 1172.1L1520.0 1172.1L1522.0 1172.2L1524.0 1172.3L1526.0 1172.4L1528.0 1172.4L1530.0 1172.5L1532.0 1172.5L1534.0 1172.6L1536.0 1172.7L1538.0 1172.7L1540.0 1172.8L1542.0 1172.8L1544.0 1172.9L1546.0 1172.9L1548.0 1172.9L1550.0 1173.0L1552.0 1173.0L1554.0 1173.1L1556.0 1173.1L1558.0 1173.1L1560.0 1173.1L1562.0 1173.2L1564.0 1173.2L1566.0 1173.2L1568.0 1173.2L1570.0 1173.2L1572.0 1173.2L1574.0 1173.3L1576.0 1173.3" stroke="#0d6ee0"/>
<path d="M1092.0 1077.0L1094.0 1076.8L1096.0 1076.5L1098.0 1076.3L1100.0 1076.0L1102.0 1075.8L1104.0 1075.5L1106.0 1075.2L1108.0 1075.0L1110.0 1074.7L1112.0 1074.4L1114.0 1074.1L1116.0 1073.8L1118.0 1073.5L1120.0 1073.2L1122.0 1072.9L1124.0 1072.5L1126.0 1072.2L1128.0 1071.8L1130.0 1071.5L1132.0 1071.1L1134.0 1070.7L1136.0 1070.3L1138.0 1069.8L1140.0 1069.4L1142.0 1068.9L1144.0 1068.4L1146.0 1067.9L1148.0 1067.4L1150.0 1066.8L1152.0 1066.2L1154.0 1065.6L1156.0 1065.0L1158.0 1064.3L1160.0 1063.6L1162.0 1062.8L1164.0 1062.0L1166.0 1061.1L1168.0 1060.2L1170.0 1059.3L1172.0 1058.3L1174.0 1057.2L1176.0 1056.1L1178.0 1054.9L1180.0 1053.6L1182.0 1052.2L1184.0 1050.7L1186.0 1049.2L1188.0 1047.5L1190.0 1045.8L1192.0 1043.9L1194.0 1041.9L1196.0 1039.8L1198.0 1037.5L1200.0 1035.1L1202.0 1032.5L1204.0 1029.8L1206.0 1026.9L1208.0 1023.8L1210.0 1020.5L1212.0 1017.1L1214.0 1013.4L1216.0 1009.5L1218.0 1005.4L1220.0 1001.1L1222.0 996.5L1224.0 991.6L1226.0 986.5L1228.0 981.2L1230.0 975.6L1232.0 969.8L1234.0 963.8L1236.0 957.5L1238.0 951.1L1240.0 944.6L1242.0 938.0L1244.0 931.4L1246.0 924.9L1248.0 918.5L1250.0 912.3L1252.0 906.5L1254.0 901.0L1256.0 896.0L1258.0 891.5L1260.0 887.6L1262.0 884.4L1264.0 881.8L1266.0 879.9L1268.0 878.7L1270.0 878.1L1272.0 878.0L1274.0 878.4L1276.0 879.1L1278.0 880.2L1280.0 881.4L1282.0 882.8L1284.0 884.3L1286.0 885.9L1288.0 887.5L1290.0 889.3L1292.0 891.0L1294.0 892.9L1296.0 895.0L1298.0 897.3L1300.0 899.8L1302.0 902.6L1304.0 905.7L1306.0 909.2L1308.0 913.1L1310.0 917.4L1312.0 922.1L1314.0 927.1L1316.0 932.4L1318.0 938.0L1320.0 943.8L1322.0 949.8L1324.0 955.8L1326.0 961.9L1328.0 968.0L1330.0 974.1L1332.0 980.0L1334.0 985.7L1336.0 991.2L1338.0 996.5L1340.0 1001.6L1342.0 1006.3L1344.0 1010.8L1346.0 1014.9L1348.0 1018.7L1350.0 1022.1L1352.0 1025.2L1354.0 1028.0L1356.0 1030.3L1358.0 1032.3L1360.0 1034.0L1362.0 1035.3L1364.0 1036.2L1366.0 1036.8L1368.0 1037.1L1370.0 1037.0L1372.0 1036.8L1374.0 1036.2L1376.0 1035.5L1378.0 1034.7L1380.0 1033.8L1382.0 1032.9L1384.0 1032.2L1386.0 1031.6L1388.0 1031.3L1390.0 1031.3L1392.0 1031.8L1394.0 1032.7L1396.0 1034.2L1398.0 1036.2L1400.0 1038.8L1402.0 1041.9L1404.0 1045.5L1406.0 1049.4L1408.0 1053.7L1410.0 1058.2L1412.0 1062.8L1414.0 1067.5L1416.0 1072.2L1418.0 1076.9L1420.0 1081.4L1422.0 1085.8L1424.0 1090.0L1426.0 1094.1L1428.0 1097.9L1430.0 1101.6L1432.0 1105.1L1434.0 1108.4L1436.0 1111.5L1438.0 1114.4L1440.0 1117.2L1442.0 1119.8L1444.0 1122.2L1446.0 1124.5L1448.0 1126.7L1450.0 1128.7L1452.0 1130.6L1454.0 1132.4L1456.0 1134.1L1458.0 1135.7L1460.0 1137.2L1462.0 1138.6L1464.0 1139.9L1466.0 1141.1L1468.0 1142.3L1470.0 1143.4L1472.0 1144.5L1474.0 1145.5L1476.0 1146.4L1478.0 1147.3L1480.0 1148.1L1482.0 1148.9L1484.0 1149.7L1486.0 1150.4L1488.0 1151.1L1490.0 1151.8L1492.0 1152.4L1494.0 1153.0L1496.0 1153.6L1498.0 1154.2L1500.0 1154.7L1502.0 1155.3L1504.0 1155.8L1506.0 1156.2L1508.0 1156.7L1510.0 1157.2L1512.0 1157.6L1514.0 1158.0L1516.0 1158.4L1518.0 1158.8L1520.0 1159.2L1522.0 1159.5L1524.0 1159.9L1526.0 1160.2L1528.0 1160.6L1530.0 1160.9L1532.0 1161.2L1534.0 1161.5L1536.0 1161.8L1538.0 1162.0L1540.0 1162.3L1542.0 1162.6L1544.0 1162.8L1546.0 1163.1L1548.0 1163.3L1550.0 1163.5L1552.0 1163.7L1554.0 1163.9L1556.0 1164.1L1558.0 1164.3L1560.0 1164.5L1562.0 1164.7L1564.0 1164.9L1566.0 1165.0L1568.0 1165.2L1570.0 1165.3L1572.0 1165.5L1574.0 1165.6L1576.0 1165.8" stroke="#fa3c3c"/>
<path d="M1092.0 1088.2L1094.0 1088.2L1096.0 1088.2L1098.0 1088.2L1100.0 1088.2L1102.0 1088.2L1104.0 1088.2L1106.0 1088.2L1108.0 1088.3L1110.0 1088.3L1112.0 1088.3L1114.0 1088.3L1116.0 1088.4L1118.0 1088.4L1120.0 1088.5L1122.0 1088.5L1124.0 1088.6L1126.0 1088.7L1128.0 1088.7L1130.0 1088.8L1132.0 1088.9L1134.0 1089.0L1136.0 1089.0L1138.0 1089.1L1140.0 1089.2L1142.0 1089.3L1144.0 1089.4L1146.0 1089.5L1148.0 1089.6L1150.0 1089.7L1152.0 1089.9L1154.0 1090.0L1156.0 1090.1L1158.0 1090.2L1160.0 1090.3L1162.0 1090.5L1164.0 1090.6L1166.0 1090.7L1168.0 1090.9L1170.0 1091.0L1172.0 1091.1L1174.0 1091.3L1176.0 1091.4L1178.0 1091.6L1180.0 1091.7L1182.0 1091.9L1184.0 1092.1L1186.0 1092.2L1188.0 1092.4L1190.0 1092.6L1192.0 1092.7L1194.0 1092.9L1196.0 1093.1L1198.0 1093.3L1200.0 1093.5L1202.0 1093.7L1204.0 1094.0L1206.0 1094.2L1208.0 1094.5L1210.0 1094.8L1212.0 1095.1L1214.0 1095.4L1216.0 1095.8L1218.0 1096.2L1220.0 1096.6L1222.0 1097.0L1224.0 1097.5L1226.0 1097.9L1228.0 1098.4L1230.0 1099.0L1232.0 1099.5L1234.0 1100.0L1236.0 1100.6L1238.0 1101.2L1240.0 1101.8L1242.0 1102.4L1244.0 1103.0L1246.0 1103.6L1248.0 1104.3L1250.0 1104.9L1252.0 1105.5L1254.0 1106.2L1256.0 1106.8L1258.0 1107.4L1260.0 1108.0L1262.0 1108.7L1264.0 1109.3L1266.0 1109.9L1268.0 1110.5L1270.0 1111.1L1272.0 1111.7L1274.0 1112.3L1276.0 1112.9L1278.0 1113.5L1280.0 1114.1L1282.0 1114.7L1284.0 1115.3L1286.0 1115.9L1288.0 1116.5L1290.0 1117.1L1292.0 1117.7L1294.0 1118.3L1296.0 1118.8L1298.0 1119.4L1300.0 1119.9L1302.0 1120.4L1304.0 1120.9L1306.0 1121.3L1308.0 1121.7L1310.0 1122.1L1312.0 1122.5L1314.0 1122.8L1316.0 1123.0L1318.0 1123.2L1320.0 1123.3L1322.0 1123.4L1324.0 1123.4L1326.0 1123.3L1328.0 1123.2L1330.0 1122.9L1332.0 1122.6L1334.0 1122.2L1336.0 1121.7L1338.0 1121.0L1340.0 1120.3L1342.0 1119.4L1344.0 1118.5L1346.0 1117.4L1348.0 1116.1L1350.0 1114.8L1352.0 1113.2L1354.0 1111.6L1356.0 1109.7L1358.0 1107.8L1360.0 1105.6L1362.0 1103.3L1364.0 1100.9L1366.0 1098.2L1368.0 1095.5L1370.0 1092.6L1372.0 1089.6L1374.0 1086.6L1376.0 1083.5L1378.0 1080.4L1380.0 1077.5L1382.0 1074.6L1384.0 1072.0L1386.0 1069.7L1388.0 1067.8L1390.0 1066.3L1392.0 1065.3L1394.0 1064.9L1396.0 1065.1L1398.0 1065.9L1400.0 1067.4L1402.0 1069.5L1404.0 1072.1L1406.0 1075.1L1408.0 1078.5L1410.0 1082.2L1412.0 1086.0L1414.0 1090.0L1416.0 1094.0L1418.0 1098.0L1420.0 1101.9L1422.0 1105.6L1424.0 1109.3L1426.0 1112.8L1428.0 1116.2L1430.0 1119.3L1432.0 1122.4L1434.0 1125.2L1436.0 1127.9L1438.0 1130.4L1440.0 1132.7L1442.0 1135.0L1444.0 1137.0L1446.0 1139.0L1448.0 1140.8L1450.0 1142.5L1452.0 1144.1L1454.0 1145.5L1456.0 1146.9L1458.0 1148.2L1460.0 1149.4L1462.0 1150.6L1464.0 1151.6L1466.0 1152.6L1468.0 1153.5L1470.0 1154.4L1472.0 1155.2L1474.0 1156.0L1476.0 1156.7L1478.0 1157.4L1480.0 1158.0L1482.0 1158.7L1484.0 1159.2L1486.0 1159.8L1488.0 1160.3L1490.0 1160.8L1492.0 1161.3L1494.0 1161.7L1496.0 1162.1L1498.0 1162.5L1500.0 1162.9L1502.0 1163.3L1504.0 1163.7L1506.0 1164.0L1508.0 1164.3L1510.0 1164.6L1512.0 1165.0L1514.0 1165.2L1516.0 1165.5L1518.0 1165.8L1520.0 1166.1L1522.0 1166.3L1524.0 1166.5L1526.0 1166.8L1528.0 1167.0L1530.0 1167.2L1532.0 1167.4L1534.0 1167.6L1536.0 1167.8L1538.0 1168.0L1540.0 1168.2L1542.0 1168.3L1544.0 1168.5L1546.0 1168.6L1548.0 1168.8L1550.0 1168.9L1552.0 1169.1L1554.0 1169.2L1556.0 1169.3L1558.0 1169.4L1560.0 1169.5L1562.0 1169.7L1564.0 1169.8L1566.0 1169.9L1568.0 1169.9L1570.0 1170.0L1572.0 1170.1L1574.0 1170.2L1576.0 1170.3" stroke="#00a862"/>
<path d="M1092.0 1085.8L1094.0 1085.8L1096.0 1085.7L1098.0 1085.7L1100.0 1085.6L1102.0 1085.6L1104.0 1085.6L1106.0 1085.5L1108.0 1085.5L1110.0 1085.4L1112.0 1085.4L1114.0 1085.4L1116.0 1085.4L1118.0 1085.3L1120.0 1085.3L1122.0 1085.3L1124.0 1085.3L1126.0 1085.3L1128.0 1085.2L1130.0 1085.2L1132.0 1085.2L1134.0 1085.2L1136.0 1085.2L1138.0 1085.2L1140.0 1085.2L1142.0 1085.2L1144.0 1085.2L1146.0 1085.1L1148.0 1085.1L1150.0 1085.1L1152.0 1085.1L1154.0 1085.1L1156.0 1085.1L1158.0 1085.1L1160.0 1085.0L1162.0 1085.0L1164.0 1085.0L1166.0 1084.9L1168.0 1084.9L1170.0 1084.9L1172.0 1084.8L1174.0 1084.8L1176.0 1084.7L1178.0 1084.6L1180.0 1084.5L1182.0 1084.5L1184.0 1084.4L1186.0 1084.3L1188.0 1084.1L1190.0 1084.0L1192.0 1083.9L1194.0 1083.7L1196.0 1083.5L1198.0 1083.4L1200.0 1083.2L1202.0 1082.9L1204.0 1082.7L1206.0 1082.5L1208.0 1082.2L1210.0 1082.0L1212.0 1081.7L1214.0 1081.3L1216.0 1081.0L1218.0 1080.6L1220.0 1080.2L1222.0 1079.8L1224.0 1079.3L1226.0 1078.7L1228.0 1078.1L1230.0 1077.5L1232.0 1076.7L1234.0 1075.9L1236.0 1075.0L1238.0 1074.0L1240.0 1072.9L1242.0 1071.7L1244.0 1070.4L1246.0 1069.0L1248.0 1067.4L1250.0 1065.6L1252.0 1063.8L1254.0 1061.7L1256.0 1059.6L1258.0 1057.2L1260.0 1054.7L1262.0 1052.1L1264.0 1049.2L1266.0 1046.2L1268.0 1043.1L1270.0 1039.8L1272.0 1036.4L1274.0 1032.9L1276.0 1029.3L1278.0 1025.6L1280.0 1021.8L1282.0 1018.1L1284.0 1014.3L1286.0 1010.7L1288.0 1007.1L1290.0 1003.7L1292.0 1000.6L1294.0 997.7L1296.0 995.2L1298.0 993.1L1300.0 991.5L1302.0 990.4L1304.0 989.9L1306.0 990.0L1308.0 990.8L1310.0 992.2L1312.0 994.1L1314.0 996.7L1316.0 999.7L1318.0 1003.3L1320.0 1007.3L1322.0 1011.6L1324.0 1016.3L1326.0 1021.2L1328.0 1026.2L1330.0 1031.4L1332.0 1036.6L1334.0 1041.8L1336.0 1047.1L1338.0 1052.2L1340.0 1057.3L1342.0 1062.3L1344.0 1067.2L1346.0 1071.9L1348.0 1076.4L1350.0 1080.8L1352.0 1085.1L1354.0 1089.1L1356.0 1093.0L1358.0 1096.8L1360.0 1100.3L1362.0 1103.7L1364.0 1106.9L1366.0 1110.0L1368.0 1112.9L1370.0 1115.6L1372.0 1118.2L1374.0 1120.7L1376.0 1123.0L1378.0 1125.2L1380.0 1127.3L1382.0 1129.2L1384.0 1131.1L1386.0 1132.8L1388.0 1134.5L1390.0 1136.0L1392.0 1137.5L1394.0 1138.9L1396.0 1140.2L1398.0 1141.4L1400.0 1142.6L1402.0 1143.7L1404.0 1144.7L1406.0 1145.8L1408.0 1146.7L1410.0 1147.6L1412.0 1148.5L1414.0 1149.3L1416.0 1150.1L1418.0 1150.9L1420.0 1151.6L1422.0 1152.4L1424.0 1153.0L1426.0 1153.7L1428.0 1154.3L1430.0 1155.0L1432.0 1155.6L1434.0 1156.1L1436.0 1156.7L1438.0 1157.2L1440.0 1157.8L1442.0 1158.3L1444.0 1158.7L1446.0 1159.2L1448.0 1159.7L1450.0 1160.1L1452.0 1160.5L1454.0 1160.9L1456.0 1161.3L1458.0 1161.7L1460.0 1162.0L1462.0 1162.4L1464.0 1162.7L1466.0 1163.0L1468.0 1163.3L1470.0 1163.6L1472.0 1163.8L1474.0 1164.1L1476.0 1164.4L1478.0 1164.6L1480.0 1164.8L1482.0 1165.1L1484.0 1165.3L1486.0 1165.5L1488.0 1165.7L1490.0 1165.9L1492.0 1166.1L1494.0 1166.3L1496.0 1166.5L1498.0 1166.7L1500.0 1166.9L1502.0 1167.0L1504.0 1167.2L1506.0 1167.4L1508.0 1167.5L1510.0 1167.7L1512.0 1167.9L1514.0 1168.0L1516.0 1168.2L1518.0 1168.3L1520.0 1168.4L1522.0 1168.6L1524.0 1168.7L1526.0 1168.8L1528.0 1169.0L1530.0 1169.1L1532.0 1169.2L1534.0 1169.3L1536.0 1169.4L1538.0 1169.5L1540.0 1169.6L1542.0 1169.7L1544.0 1169.8L1546.0 1169.9L1548.0 1170.0L1550.0 1170.1L1552.0 1170.2L1554.0 1170.3L1556.0 1170.3L1558.0 1170.4L1560.0 1170.5L1562.0 1170.6L1564.0 1170.6L1566.0 1170.7L1568.0 1170.7L1570.0 1170.8L1572.0 1170.8L1574.0 1170.9L1576.0 1170.9" stroke="#c870e2"/>
<path d="M1092.0 1081.7L1094.0 1081.6L1096.0 1081.4L1098.0 1081.2L1100.0 1081.1L1102.0 1080.9L1104.0 1080.7L1106.0 1080.6L1108.0 1080.4L1110.0 1080.2L1112.0 1080.0L1114.0 1079.8L1116.0 1079.6L1118.0 1079.4L1120.0 1079.2L1122.0 1079.0L1124.0 1078.8L1126.0 1078.6L1128.0 1078.3L1130.0 1078.1L1132.0 1077.9L1134.0 1077.6L1136.0 1077.3L1138.0 1077.0L1140.0 1076.7L1142.0 1076.4L1144.0 1076.1L1146.0 1075.8L1148.0 1075.4L1150.0 1075.0L1152.0 1074.6L1154.0 1074.2L1156.0 1073.7L1158.0 1073.3L1160.0 1072.8L1162.0 1072.2L1164.0 1071.6L1166.0 1071.0L1168.0 1070.4L1170.0 1069.7L1172.0 1068.9L1174.0 1068.1L1176.0 1067.3L1178.0 1066.4L1180.0 1065.4L1182.0 1064.3L1184.0 1063.2L1186.0 1062.0L1188.0 1060.8L1190.0 1059.4L1192.0 1057.9L1194.0 1056.4L1196.0 1054.7L1198.0 1052.9L1200.0 1051.0L1202.0 1049.0L1204.0 1046.8L1206.0 1044.6L1208.0 1042.1L1210.0 1039.6L1212.0 1036.8L1214.0 1034.0L1216.0 1030.9L1218.0 1027.7L1220.0 1024.3L1222.0 1020.7L1224.0 1017.0L1226.0 1013.1L1228.0 1009.0L1230.0 1004.8L1232.0 1000.4L1234.0 996.0L1236.0 991.4L1238.0 986.8L1240.0 982.2L1242.0 977.6L1244.0 973.2L1246.0 969.0L1248.0 965.0L1250.0 961.4L1252.0 958.3L1254.0 955.8L1256.0 953.9L1258.0 952.7L1260.0 952.2L1262.0 952.6L1264.0 953.8L1266.0 955.9L1268.0 958.7L1270.0 962.4L1272.0 966.7L1274.0 971.6L1276.0 977.0L1278.0 982.8L1280.0 988.9L1282.0 995.1L1284.0 1001.5L1286.0 1007.9L1288.0 1014.2L1290.0 1020.5L1292.0 1026.7L1294.0 1032.7L1296.0 1038.5L1298.0 1044.1L1300.0 1049.5L1302.0 1054.8L1304.0 1059.7L1306.0 1064.5L1308.0 1069.1L1310.0 1073.4L1312.0 1077.5L1314.0 1081.4L1316.0 1085.2L1318.0 1088.7L1320.0 1092.1L1322.0 1095.3L1324.0 1098.3L1326.0 1101.2L1328.0 1103.9L1330.0 1106.5L1332.0 1108.9L1334.0 1111.2L1336.0 1113.4L1338.0 1115.5L1340.0 1117.5L1342.0 1119.3L1344.0 1121.1L1346.0 1122.8L1348.0 1124.4L1350.0 1126.0L1352.0 1127.4L1354.0 1128.8L1356.0 1130.2L1358.0 1131.5L1360.0 1132.7L1362.0 1133.9L1364.0 1135.1L1366.0 1136.2L1368.0 1137.2L1370.0 1138.3L1372.0 1139.2L1374.0 1140.2L1376.0 1141.1L1378.0 1142.0L1380.0 1142.9L1382.0 1143.7L1384.0 1144.5L1386.0 1145.3L1388.0 1146.1L1390.0 1146.8L1392.0 1147.5L1394.0 1148.2L1396.0 1148.9L1398.0 1149.6L1400.0 1150.2L1402.0 1150.8L1404.0 1151.4L1406.0 1152.0L1408.0 1152.6L1410.0 1153.2L1412.0 1153.7L1414.0 1154.3L1416.0 1154.8L1418.0 1155.3L1420.0 1155.8L1422.0 1156.3L1424.0 1156.8L1426.0 1157.3L1428.0 1157.7L1430.0 1158.2L1432.0 1158.6L1434.0 1159.1L1436.0 1159.5L1438.0 1159.9L1440.0 1160.3L1442.0 1160.7L1444.0 1161.1L1446.0 1161.4L1448.0 1161.8L1450.0 1162.1L1452.0 1162.5L1454.0 1162.8L1456.0 1163.1L1458.0 1163.4L1460.0 1163.7L1462.0 1164.0L1464.0 1164.2L1466.0 1164.5L1468.0 1164.7L1470.0 1164.9L1472.0 1165.2L1474.0 1165.4L1476.0 1165.6L1478.0 1165.8L1480.0 1166.0L1482.0 1166.2L1484.0 1166.3L1486.0 1166.5L1488.0 1166.7L1490.0 1166.9L1492.0 1167.0L1494.0 1167.2L1496.0 1167.3L1498.0 1167.5L1500.0 1167.6L1502.0 1167.8L1504.0 1167.9L1506.0 1168.1L1508.0 1168.2L1510.0 1168.3L1512.0 1168.5L1514.0 1168.6L1516.0 1168.7L1518.0 1168.9L1520.0 1169.0L1522.0 1169.1L1524.0 1169.2L1526.0 1169.3L1528.0 1169.4L1530.0 1169.5L1532.0 1169.6L1534.0 1169.7L1536.0 1169.8L1538.0 1169.9L1540.0 1170.0L1542.0 1170.1L1544.0 1170.2L1546.0 1170.3L1548.0 1170.4L1550.0 1170.4L1552.0 1170.5L1554.0 1170.6L1556.0 1170.6L1558.0 1170.7L1560.0 1170.8L1562.0 1170.8L1564.0 1170.9L1566.0 1170.9L1568.0 1171.0L1570.0 1171.0L1572.0 1171.0L1574.0 1171.1L1576.0 1171.1" stroke="#e09a06"/>
</g>
<text x="112.7" y="70.4" font-size="37.4" text-anchor="start" font-family="Liberation Serif, Times New Roman, serif" font-weight="bold" >30°C 0.35% NaCl</text>
<text x="604" y="68.4" font-size="37.4" text-anchor="start" font-family="Liberation Serif, Times New Roman, serif" font-weight="bold" >30°C 3.5% NaCl</text>
<text x="1102.7" y="69.2" font-size="37.4" text-anchor="start" font-family="Liberation Serif, Times New Roman, serif" font-weight="bold" >70°C 3.5% NaCl</text>
<text x="512.6" y="324.7" font-size="37.4" text-anchor="start" font-family="Liberation Serif, Times New Roman, serif" font-weight="bold" >50 s</text>
<text x="507.8" y="715" font-size="37.4" text-anchor="start" font-family="Liberation Serif, Times New Roman, serif" font-weight="bold" >10 s</text>
<text x="520.5" y="1082.3" font-size="37.4" text-anchor="start" font-family="Liberation Serif, Times New Roman, serif" font-weight="bold" >0 s</text>
<text x="989.2" y="318.3" font-size="37.4" text-anchor="start" font-family="Liberation Serif, Times New Roman, serif" font-weight="bold" >50 s</text>
<text x="988.8" y="710.9" font-size="37.4" text-anchor="start" font-family="Liberation Serif, Times New Roman, serif" font-weight="bold" >10 s</text>
<text x="992.1" y="1105.7" font-size="37.4" text-anchor="start" font-family="Liberation Serif, Times New Roman, serif" font-weight="bold" >0 s</text>
<text x="1496.2" y="324" font-size="37.4" text-anchor="start" font-family="Liberation Serif, Times New Roman, serif" font-weight="bold" >50 s</text>
<text x="1491.5" y="716.7" font-size="37.4" text-anchor="start" font-family="Liberation Serif, Times New Roman, serif" font-weight="bold" >10 s</text>
<text x="1504.1" y="1110" font-size="37.4" text-anchor="start" font-family="Liberation Serif, Times New Roman, serif" font-weight="bold" >0 s</text>
<text x="146.2" y="1249" font-size="41.3" text-anchor="middle" font-family="Liberation Serif, Times New Roman, serif" font-weight="bold" >580</text>
<text x="325.8" y="1249" font-size="41.3" text-anchor="middle" font-family="Liberation Serif, Times New Roman, serif" font-weight="bold" >576</text>
<text x="504.5" y="1249" font-size="41.3" text-anchor="middle" font-family="Liberation Serif, Times New Roman, serif" font-weight="bold" >572</text>
<text x="641.5" y="1249" font-size="41.3" text-anchor="middle" font-family="Liberation Serif, Times New Roman, serif" font-weight="bold" >580</text>
<text x="820.5" y="1249" font-size="41.3" text-anchor="middle" font-family="Liberation Serif, Times New Roman, serif" font-weight="bold" >576</text>
<text x="999.5" y="1249" font-size="41.3" text-anchor="middle" font-family="Liberation Serif, Times New Roman, serif" font-weight="bold" >572</text>
<text x="1137" y="1249" font-size="41.3" text-anchor="middle" font-family="Liberation Serif, Times New Roman, serif" font-weight="bold" >580</text>
<text x="1316" y="1249" font-size="41.3" text-anchor="middle" font-family="Liberation Serif, Times New Roman, serif" font-weight="bold" >576</text>
<text x="1495" y="1249" font-size="41.3" text-anchor="middle" font-family="Liberation Serif, Times New Roman, serif" font-weight="bold" >572</text>
<text x="842.7" y="1315.2" font-size="56.2" text-anchor="middle" font-family="Liberation Serif, Times New Roman, serif" font-weight="bold" >Binding energy (eV)</text>
<text x="56.7" y="557" font-size="56.3" text-anchor="middle" font-family="Liberation Serif, Times New Roman, serif" font-weight="bold" transform="rotate(-90 56.7 557)">Intensity (a.u.)</text>
<path d="M117.3 124.6H185.5" stroke="#00a862" stroke-width="4.2" stroke-linecap="round"/>
<path d="M117.3 164.2H185.5" stroke="#c870e2" stroke-width="4.2" stroke-linecap="round"/>
<path d="M117.3 210H185.5" stroke="#e09a06" stroke-width="4.2" stroke-linecap="round"/>
<text x="194" y="135.5" font-size="30.2" text-anchor="start" font-family="Liberation Serif, Times New Roman, serif" font-weight="bold" >Cr</text>
<text x="194" y="174.3" font-size="30.2" text-anchor="start" font-family="Liberation Serif, Times New Roman, serif" font-weight="bold" >Cr<tspan font-size="19.9" dy="7.9">2</tspan><tspan dy="-7.9">O</tspan><tspan font-size="19.9" dy="7.9">3</tspan></text>
<text x="194" y="220.1" font-size="30.2" text-anchor="start" font-family="Liberation Serif, Times New Roman, serif" font-weight="bold" >Cr(OH)<tspan font-size="19.9" dy="7.9">3</tspan></text>
<path d="M608.5 113.6H677" stroke="#00a862" stroke-width="4.2" stroke-linecap="round"/>
<path d="M608.5 153.1H677" stroke="#c870e2" stroke-width="4.2" stroke-linecap="round"/>
<path d="M608.5 198.8H677" stroke="#e09a06" stroke-width="4.2" stroke-linecap="round"/>
<text x="685.5" y="123.3" font-size="30.7" text-anchor="start" font-family="Liberation Serif, Times New Roman, serif" font-weight="bold" >Cr</text>
<text x="685.5" y="163.2" font-size="30.7" text-anchor="start" font-family="Liberation Serif, Times New Roman, serif" font-weight="bold" >Cr<tspan font-size="20.3" dy="8.0">2</tspan><tspan dy="-8.0">O</tspan><tspan font-size="20.3" dy="8.0">3</tspan></text>
<text x="685.5" y="208.3" font-size="30.7" text-anchor="start" font-family="Liberation Serif, Times New Roman, serif" font-weight="bold" >Cr(OH)<tspan font-size="20.3" dy="8.0">3</tspan></text>
<path d="M1110.7 112.6H1178.7" stroke="#00a862" stroke-width="4.2" stroke-linecap="round"/>
<path d="M1110.7 152.2H1178.7" stroke="#c870e2" stroke-width="4.2" stroke-linecap="round"/>
<path d="M1110.7 197.9H1178.7" stroke="#e09a06" stroke-width="4.2" stroke-linecap="round"/>
<text x="1186.8" y="122.9" font-size="30.5" text-anchor="start" font-family="Liberation Serif, Times New Roman, serif" font-weight="bold" >Cr</text>
<text x="1186.8" y="162.8" font-size="30.5" text-anchor="start" font-family="Liberation Serif, Times New Roman, serif" font-weight="bold" >Cr<tspan font-size="20.1" dy="7.9">2</tspan><tspan dy="-7.9">O</tspan><tspan font-size="20.1" dy="7.9">3</tspan></text>
<text x="1186.8" y="208.2" font-size="30.5" text-anchor="start" font-family="Liberation Serif, Times New Roman, serif" font-weight="bold" >Cr(OH)<tspan font-size="20.1" dy="7.9">3</tspan></text>
<path d="M0 541.4H1608M0 1068.4H1608" stroke="#808080" stroke-opacity="0.09" stroke-width="1" fill="none"/>
</svg></body></html>
